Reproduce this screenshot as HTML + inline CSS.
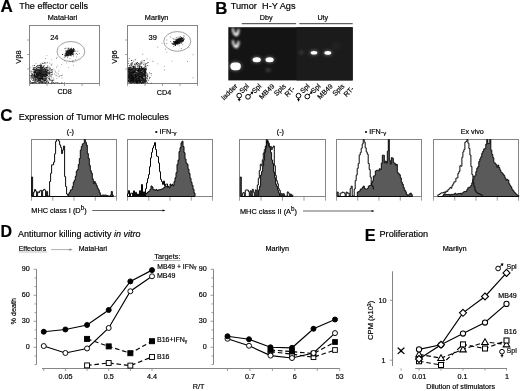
<!DOCTYPE html>
<html><head><meta charset="utf-8"><style>
html,body{margin:0;padding:0;background:#fff;}
svg{display:block;font-family:"Liberation Sans", sans-serif;will-change:transform;}
text{stroke:#000;stroke-width:0.18px;}
</style></head><body>
<svg width="520" height="391" viewBox="0 0 520 391" font-family='"Liberation Sans", sans-serif' fill="#000">
<rect width="520" height="391" fill="#fff"/>
<text x="0.6" y="12.4" font-size="17" text-anchor="start" font-weight="bold" >A</text>
<text x="19.3" y="9.3" font-size="9.05" text-anchor="start" font-weight="normal" >The effector cells</text>
<text x="62.6" y="19.8" font-size="7.3" text-anchor="middle" font-weight="normal" >MataHari</text>
<text x="156.6" y="19.8" font-size="7.3" text-anchor="middle" font-weight="normal" >Marilyn</text>
<rect x="29.5" y="25.5" width="70" height="58" fill="none" stroke="#858585" stroke-width="1"/>
<line x1="29.5" y1="83.5" x2="29.5" y2="86.0" stroke="#858585" stroke-width="0.8" />
<line x1="47.0" y1="83.5" x2="47.0" y2="86.0" stroke="#858585" stroke-width="0.8" />
<line x1="64.5" y1="83.5" x2="64.5" y2="86.0" stroke="#858585" stroke-width="0.8" />
<line x1="82.0" y1="83.5" x2="82.0" y2="86.0" stroke="#858585" stroke-width="0.8" />
<line x1="99.5" y1="83.5" x2="99.5" y2="86.0" stroke="#858585" stroke-width="0.8" />
<line x1="27.3" y1="40.0" x2="29.5" y2="40.0" stroke="#858585" stroke-width="0.8" />
<line x1="27.3" y1="54.5" x2="29.5" y2="54.5" stroke="#858585" stroke-width="0.8" />
<line x1="27.3" y1="69.0" x2="29.5" y2="69.0" stroke="#858585" stroke-width="0.8" />
<rect x="127.5" y="25.5" width="70" height="58" fill="none" stroke="#858585" stroke-width="1"/>
<line x1="127.5" y1="83.5" x2="127.5" y2="86.0" stroke="#858585" stroke-width="0.8" />
<line x1="145.0" y1="83.5" x2="145.0" y2="86.0" stroke="#858585" stroke-width="0.8" />
<line x1="162.5" y1="83.5" x2="162.5" y2="86.0" stroke="#858585" stroke-width="0.8" />
<line x1="180.0" y1="83.5" x2="180.0" y2="86.0" stroke="#858585" stroke-width="0.8" />
<line x1="197.5" y1="83.5" x2="197.5" y2="86.0" stroke="#858585" stroke-width="0.8" />
<line x1="125.3" y1="40.0" x2="127.5" y2="40.0" stroke="#858585" stroke-width="0.8" />
<line x1="125.3" y1="54.5" x2="127.5" y2="54.5" stroke="#858585" stroke-width="0.8" />
<line x1="125.3" y1="69.0" x2="127.5" y2="69.0" stroke="#858585" stroke-width="0.8" />
<text x="50.2" y="39.6" font-size="7.5" text-anchor="start" font-weight="normal" >24</text>
<text x="148.6" y="40.2" font-size="7.5" text-anchor="start" font-weight="normal" >39</text>
<ellipse cx="70.9" cy="51.5" rx="13.9" ry="10" fill="none" stroke="#777" stroke-width="0.7"/>
<ellipse cx="177.3" cy="41.4" rx="13.5" ry="9.85" fill="none" stroke="#777" stroke-width="0.7"/>
<text x="64.6" y="94.0" font-size="7.2" text-anchor="middle" font-weight="normal" >CD8</text>
<text x="164.0" y="94.5" font-size="7.2" text-anchor="middle" font-weight="normal" >CD4</text>
<text transform="translate(20.6,57) rotate(-90)" font-size="7.5" text-anchor="middle">V&#946;8</text>
<text transform="translate(117.4,57) rotate(-90)" font-size="7.5" text-anchor="middle">V&#946;6</text>
<path d="M41.0 73.6h0.9v0.9h-0.9zM39.8 69.3h0.9v0.9h-0.9zM39.1 68.9h0.9v0.9h-0.9zM41.3 77.3h0.9v0.9h-0.9zM38.9 70.3h0.9v0.9h-0.9zM43.1 73.8h0.9v0.9h-0.9zM41.4 69.2h0.9v0.9h-0.9zM40.9 75.0h0.9v0.9h-0.9zM35.4 70.9h0.9v0.9h-0.9zM33.0 67.9h0.9v0.9h-0.9zM33.3 71.7h0.9v0.9h-0.9zM35.7 73.5h0.9v0.9h-0.9zM41.7 71.8h0.9v0.9h-0.9zM30.4 70.6h0.9v0.9h-0.9zM40.8 72.9h0.9v0.9h-0.9zM34.6 70.8h0.9v0.9h-0.9zM36.9 69.6h0.9v0.9h-0.9zM45.5 69.6h0.9v0.9h-0.9zM40.9 75.7h0.9v0.9h-0.9zM38.5 72.1h0.9v0.9h-0.9zM41.5 72.7h0.9v0.9h-0.9zM35.9 72.8h0.9v0.9h-0.9zM46.7 66.9h0.9v0.9h-0.9zM44.6 72.9h0.9v0.9h-0.9zM38.3 79.7h0.9v0.9h-0.9zM44.2 68.2h0.9v0.9h-0.9zM41.3 74.6h0.9v0.9h-0.9zM40.2 75.0h0.9v0.9h-0.9zM40.7 74.9h0.9v0.9h-0.9zM47.0 70.1h0.9v0.9h-0.9zM41.9 70.8h0.9v0.9h-0.9zM41.5 68.2h0.9v0.9h-0.9zM38.6 71.8h0.9v0.9h-0.9zM44.8 76.6h0.9v0.9h-0.9zM35.4 69.6h0.9v0.9h-0.9zM43.7 65.3h0.9v0.9h-0.9zM39.1 72.1h0.9v0.9h-0.9zM46.3 75.0h0.9v0.9h-0.9zM39.6 71.2h0.9v0.9h-0.9zM39.9 78.0h0.9v0.9h-0.9zM39.2 71.4h0.9v0.9h-0.9zM42.5 72.1h0.9v0.9h-0.9zM40.2 68.5h0.9v0.9h-0.9zM41.0 70.9h0.9v0.9h-0.9zM45.9 74.9h0.9v0.9h-0.9zM40.9 74.9h0.9v0.9h-0.9zM39.6 76.3h0.9v0.9h-0.9zM41.0 74.6h0.9v0.9h-0.9zM35.6 73.7h0.9v0.9h-0.9zM33.9 65.2h0.9v0.9h-0.9zM39.7 69.3h0.9v0.9h-0.9zM41.7 80.6h0.9v0.9h-0.9zM37.5 70.3h0.9v0.9h-0.9zM41.9 74.3h0.9v0.9h-0.9zM40.3 71.8h0.9v0.9h-0.9zM44.0 74.4h0.9v0.9h-0.9zM36.7 72.2h0.9v0.9h-0.9zM41.1 68.7h0.9v0.9h-0.9zM42.1 69.4h0.9v0.9h-0.9zM45.1 73.2h0.9v0.9h-0.9zM41.4 70.4h0.9v0.9h-0.9zM40.5 65.3h0.9v0.9h-0.9zM36.2 73.8h0.9v0.9h-0.9zM32.1 75.5h0.9v0.9h-0.9zM33.7 75.2h0.9v0.9h-0.9zM37.4 75.3h0.9v0.9h-0.9zM41.5 67.0h0.9v0.9h-0.9zM46.2 77.7h0.9v0.9h-0.9zM40.7 71.5h0.9v0.9h-0.9zM40.3 69.0h0.9v0.9h-0.9zM45.6 70.5h0.9v0.9h-0.9zM40.8 69.6h0.9v0.9h-0.9zM38.4 67.9h0.9v0.9h-0.9zM46.3 71.9h0.9v0.9h-0.9zM45.1 72.5h0.9v0.9h-0.9zM38.1 71.3h0.9v0.9h-0.9zM38.6 72.5h0.9v0.9h-0.9zM39.4 71.4h0.9v0.9h-0.9zM35.2 69.6h0.9v0.9h-0.9zM47.9 70.1h0.9v0.9h-0.9zM36.6 73.7h0.9v0.9h-0.9zM46.9 67.3h0.9v0.9h-0.9zM40.1 70.2h0.9v0.9h-0.9zM33.6 75.1h0.9v0.9h-0.9zM40.9 72.8h0.9v0.9h-0.9zM37.8 74.1h0.9v0.9h-0.9zM38.7 72.0h0.9v0.9h-0.9zM36.3 68.1h0.9v0.9h-0.9zM46.6 70.7h0.9v0.9h-0.9zM42.2 72.4h0.9v0.9h-0.9zM39.1 70.7h0.9v0.9h-0.9zM43.6 71.4h0.9v0.9h-0.9zM40.4 72.6h0.9v0.9h-0.9zM45.9 74.9h0.9v0.9h-0.9zM42.6 70.5h0.9v0.9h-0.9zM35.2 75.9h0.9v0.9h-0.9zM45.1 72.0h0.9v0.9h-0.9zM43.3 75.3h0.9v0.9h-0.9zM44.5 75.8h0.9v0.9h-0.9zM39.1 78.0h0.9v0.9h-0.9zM35.8 75.6h0.9v0.9h-0.9zM43.1 75.6h0.9v0.9h-0.9zM48.9 77.8h0.9v0.9h-0.9zM36.2 66.4h0.9v0.9h-0.9zM44.4 68.8h0.9v0.9h-0.9zM40.9 75.5h0.9v0.9h-0.9zM34.1 64.9h0.9v0.9h-0.9zM42.1 72.7h0.9v0.9h-0.9zM40.0 72.6h0.9v0.9h-0.9zM37.4 67.1h0.9v0.9h-0.9zM40.3 69.0h0.9v0.9h-0.9zM34.1 74.3h0.9v0.9h-0.9zM40.7 74.0h0.9v0.9h-0.9zM36.8 70.1h0.9v0.9h-0.9zM36.8 69.3h0.9v0.9h-0.9zM41.8 69.7h0.9v0.9h-0.9zM42.5 73.7h0.9v0.9h-0.9zM49.5 67.5h0.9v0.9h-0.9zM44.7 72.2h0.9v0.9h-0.9zM40.9 67.3h0.9v0.9h-0.9zM39.1 75.2h0.9v0.9h-0.9zM40.7 72.8h0.9v0.9h-0.9zM39.8 76.7h0.9v0.9h-0.9zM40.9 64.6h0.9v0.9h-0.9zM38.1 65.4h0.9v0.9h-0.9zM46.6 72.7h0.9v0.9h-0.9zM36.1 69.1h0.9v0.9h-0.9zM45.7 73.1h0.9v0.9h-0.9zM41.2 72.3h0.9v0.9h-0.9zM41.2 75.4h0.9v0.9h-0.9zM43.3 73.3h0.9v0.9h-0.9zM36.6 74.3h0.9v0.9h-0.9zM38.1 76.4h0.9v0.9h-0.9zM35.7 72.0h0.9v0.9h-0.9zM41.0 67.7h0.9v0.9h-0.9zM48.2 77.8h0.9v0.9h-0.9zM39.1 75.3h0.9v0.9h-0.9zM42.6 63.1h0.9v0.9h-0.9zM42.1 72.3h0.9v0.9h-0.9zM41.3 68.6h0.9v0.9h-0.9zM39.9 71.9h0.9v0.9h-0.9zM46.0 73.7h0.9v0.9h-0.9zM41.0 78.0h0.9v0.9h-0.9zM38.7 71.1h0.9v0.9h-0.9zM33.4 78.1h0.9v0.9h-0.9zM45.1 75.8h0.9v0.9h-0.9zM43.8 72.9h0.9v0.9h-0.9zM41.9 71.6h0.9v0.9h-0.9zM40.1 72.7h0.9v0.9h-0.9zM47.3 74.5h0.9v0.9h-0.9zM40.8 70.4h0.9v0.9h-0.9zM38.3 78.3h0.9v0.9h-0.9zM43.1 72.7h0.9v0.9h-0.9zM39.5 68.5h0.9v0.9h-0.9zM40.7 75.6h0.9v0.9h-0.9zM39.4 71.7h0.9v0.9h-0.9zM40.1 72.9h0.9v0.9h-0.9zM34.3 71.7h0.9v0.9h-0.9zM37.4 75.7h0.9v0.9h-0.9zM37.8 74.6h0.9v0.9h-0.9zM47.4 71.4h0.9v0.9h-0.9zM38.5 73.2h0.9v0.9h-0.9zM41.0 68.9h0.9v0.9h-0.9zM42.9 79.8h0.9v0.9h-0.9zM39.9 71.8h0.9v0.9h-0.9zM36.6 73.6h0.9v0.9h-0.9zM35.8 68.5h0.9v0.9h-0.9zM46.4 69.2h0.9v0.9h-0.9zM45.5 78.0h0.9v0.9h-0.9zM42.1 74.5h0.9v0.9h-0.9zM49.2 71.8h0.9v0.9h-0.9zM38.5 67.6h0.9v0.9h-0.9zM41.2 77.8h0.9v0.9h-0.9zM45.0 69.1h0.9v0.9h-0.9zM37.4 70.7h0.9v0.9h-0.9zM42.2 71.8h0.9v0.9h-0.9zM41.9 73.6h0.9v0.9h-0.9zM39.7 72.4h0.9v0.9h-0.9zM41.9 72.2h0.9v0.9h-0.9zM43.1 79.2h0.9v0.9h-0.9zM43.5 72.7h0.9v0.9h-0.9zM33.9 73.9h0.9v0.9h-0.9zM32.8 67.4h0.9v0.9h-0.9zM44.6 75.0h0.9v0.9h-0.9zM40.4 66.3h0.9v0.9h-0.9zM39.4 70.1h0.9v0.9h-0.9zM43.7 80.6h0.9v0.9h-0.9zM41.9 69.7h0.9v0.9h-0.9zM36.1 72.3h0.9v0.9h-0.9zM40.3 68.4h0.9v0.9h-0.9zM41.5 68.4h0.9v0.9h-0.9zM45.7 76.3h0.9v0.9h-0.9zM45.6 70.8h0.9v0.9h-0.9zM43.2 72.0h0.9v0.9h-0.9zM39.4 71.3h0.9v0.9h-0.9zM35.5 67.3h0.9v0.9h-0.9zM44.3 71.8h0.9v0.9h-0.9zM41.9 76.1h0.9v0.9h-0.9zM33.7 69.7h0.9v0.9h-0.9zM41.7 73.9h0.9v0.9h-0.9zM39.4 76.2h0.9v0.9h-0.9zM41.9 68.1h0.9v0.9h-0.9zM37.1 75.4h0.9v0.9h-0.9zM42.9 65.7h0.9v0.9h-0.9zM46.7 74.7h0.9v0.9h-0.9zM46.6 71.1h0.9v0.9h-0.9zM39.8 68.4h0.9v0.9h-0.9zM51.7 71.9h0.9v0.9h-0.9zM47.7 70.2h0.9v0.9h-0.9zM41.7 66.5h0.9v0.9h-0.9zM39.4 76.0h0.9v0.9h-0.9zM35.7 76.4h0.9v0.9h-0.9zM42.4 68.7h0.9v0.9h-0.9zM38.9 70.8h0.9v0.9h-0.9zM40.8 70.6h0.9v0.9h-0.9zM37.5 71.4h0.9v0.9h-0.9zM36.7 67.9h0.9v0.9h-0.9zM40.8 75.7h0.9v0.9h-0.9zM34.6 72.5h0.9v0.9h-0.9zM38.3 69.0h0.9v0.9h-0.9zM44.6 70.6h0.9v0.9h-0.9zM47.3 69.7h0.9v0.9h-0.9zM42.6 71.7h0.9v0.9h-0.9zM37.8 74.6h0.9v0.9h-0.9zM40.3 74.7h0.9v0.9h-0.9zM40.8 68.6h0.9v0.9h-0.9zM40.6 72.7h0.9v0.9h-0.9zM45.0 69.2h0.9v0.9h-0.9zM40.8 66.3h0.9v0.9h-0.9zM43.7 68.6h0.9v0.9h-0.9zM33.4 72.3h0.9v0.9h-0.9zM45.6 67.0h0.9v0.9h-0.9zM36.4 69.8h0.9v0.9h-0.9zM36.3 73.9h0.9v0.9h-0.9zM37.6 69.9h0.9v0.9h-0.9zM43.4 69.8h0.9v0.9h-0.9zM42.8 69.0h0.9v0.9h-0.9zM35.9 65.9h0.9v0.9h-0.9zM48.8 71.3h0.9v0.9h-0.9zM42.0 72.4h0.9v0.9h-0.9zM41.7 72.7h0.9v0.9h-0.9zM49.0 68.8h0.9v0.9h-0.9zM34.5 68.9h0.9v0.9h-0.9zM35.4 75.2h0.9v0.9h-0.9zM44.4 69.0h0.9v0.9h-0.9zM35.2 71.2h0.9v0.9h-0.9zM46.8 62.3h0.9v0.9h-0.9zM43.2 68.6h0.9v0.9h-0.9zM45.4 68.6h0.9v0.9h-0.9zM39.8 67.1h0.9v0.9h-0.9zM36.9 77.5h0.9v0.9h-0.9zM44.4 71.1h0.9v0.9h-0.9zM37.3 65.7h0.9v0.9h-0.9zM39.3 72.4h0.9v0.9h-0.9zM40.6 72.2h0.9v0.9h-0.9zM36.3 72.3h0.9v0.9h-0.9zM40.8 77.1h0.9v0.9h-0.9zM48.8 72.0h0.9v0.9h-0.9zM37.8 72.3h0.9v0.9h-0.9zM38.4 69.8h0.9v0.9h-0.9zM40.8 68.7h0.9v0.9h-0.9zM43.5 72.1h0.9v0.9h-0.9zM42.1 71.8h0.9v0.9h-0.9zM37.9 69.1h0.9v0.9h-0.9zM40.0 70.5h0.9v0.9h-0.9zM42.0 72.5h0.9v0.9h-0.9zM35.3 72.7h0.9v0.9h-0.9zM35.4 70.3h0.9v0.9h-0.9zM39.8 65.0h0.9v0.9h-0.9zM41.4 73.0h0.9v0.9h-0.9zM40.3 71.0h0.9v0.9h-0.9zM39.4 69.0h0.9v0.9h-0.9zM39.9 70.5h0.9v0.9h-0.9zM41.4 68.2h0.9v0.9h-0.9zM42.0 73.0h0.9v0.9h-0.9zM40.4 70.9h0.9v0.9h-0.9zM43.3 66.5h0.9v0.9h-0.9zM42.9 73.4h0.9v0.9h-0.9zM42.2 73.9h0.9v0.9h-0.9zM38.3 71.6h0.9v0.9h-0.9zM43.7 74.1h0.9v0.9h-0.9zM41.9 67.0h0.9v0.9h-0.9zM43.3 76.7h0.9v0.9h-0.9zM45.2 73.3h0.9v0.9h-0.9zM34.5 75.9h0.9v0.9h-0.9zM40.4 63.4h0.9v0.9h-0.9zM42.6 67.1h0.9v0.9h-0.9zM35.6 70.2h0.9v0.9h-0.9zM46.3 71.2h0.9v0.9h-0.9zM42.1 78.8h0.9v0.9h-0.9zM47.7 72.1h0.9v0.9h-0.9zM40.0 68.0h0.9v0.9h-0.9zM38.1 74.0h0.9v0.9h-0.9zM42.7 72.9h0.9v0.9h-0.9zM45.2 69.7h0.9v0.9h-0.9zM40.8 75.1h0.9v0.9h-0.9zM43.5 76.4h0.9v0.9h-0.9zM42.7 71.4h0.9v0.9h-0.9zM42.5 68.9h0.9v0.9h-0.9zM34.1 74.6h0.9v0.9h-0.9zM40.8 73.6h0.9v0.9h-0.9zM33.9 71.2h0.9v0.9h-0.9zM38.5 69.4h0.9v0.9h-0.9zM31.5 71.3h0.9v0.9h-0.9zM44.8 73.9h0.9v0.9h-0.9zM38.5 72.4h0.9v0.9h-0.9zM44.2 62.6h0.9v0.9h-0.9zM40.5 74.5h0.9v0.9h-0.9zM43.9 78.6h0.9v0.9h-0.9zM45.8 73.6h0.9v0.9h-0.9zM42.3 75.3h0.9v0.9h-0.9zM38.7 72.4h0.9v0.9h-0.9zM44.8 79.5h0.9v0.9h-0.9zM40.3 72.3h0.9v0.9h-0.9zM41.8 77.3h0.9v0.9h-0.9zM40.9 77.8h0.9v0.9h-0.9zM36.9 71.8h0.9v0.9h-0.9zM40.2 75.3h0.9v0.9h-0.9zM45.4 67.1h0.9v0.9h-0.9zM37.2 73.7h0.9v0.9h-0.9zM38.2 67.0h0.9v0.9h-0.9zM45.4 74.3h0.9v0.9h-0.9zM43.1 70.8h0.9v0.9h-0.9zM45.3 71.6h0.9v0.9h-0.9zM45.6 69.2h0.9v0.9h-0.9zM37.4 73.2h0.9v0.9h-0.9zM38.1 74.9h0.9v0.9h-0.9zM42.1 69.2h0.9v0.9h-0.9zM41.3 71.2h0.9v0.9h-0.9zM44.8 70.2h0.9v0.9h-0.9zM39.2 76.9h0.9v0.9h-0.9zM50.4 79.7h0.9v0.9h-0.9zM41.3 73.3h0.9v0.9h-0.9zM47.4 72.1h0.9v0.9h-0.9zM36.9 72.9h0.9v0.9h-0.9zM42.9 69.5h0.9v0.9h-0.9zM34.1 67.3h0.9v0.9h-0.9zM43.8 69.8h0.9v0.9h-0.9zM40.4 73.3h0.9v0.9h-0.9zM43.6 71.3h0.9v0.9h-0.9zM43.1 69.3h0.9v0.9h-0.9zM39.5 68.8h0.9v0.9h-0.9zM45.8 72.4h0.9v0.9h-0.9zM37.9 71.2h0.9v0.9h-0.9zM40.1 75.0h0.9v0.9h-0.9zM34.3 68.8h0.9v0.9h-0.9zM39.4 81.6h0.9v0.9h-0.9zM45.0 72.1h0.9v0.9h-0.9zM44.0 79.9h0.9v0.9h-0.9zM40.0 71.2h0.9v0.9h-0.9zM46.1 74.3h0.9v0.9h-0.9zM43.8 70.7h0.9v0.9h-0.9zM49.1 78.7h0.9v0.9h-0.9zM43.4 75.0h0.9v0.9h-0.9zM32.5 74.8h0.9v0.9h-0.9zM40.2 74.1h0.9v0.9h-0.9zM43.9 71.3h0.9v0.9h-0.9zM33.9 73.8h0.9v0.9h-0.9zM37.9 71.3h0.9v0.9h-0.9zM38.5 71.3h0.9v0.9h-0.9zM31.3 76.9h0.9v0.9h-0.9zM42.1 76.5h0.9v0.9h-0.9zM49.3 72.6h0.9v0.9h-0.9zM33.4 69.3h0.9v0.9h-0.9zM35.9 70.7h0.9v0.9h-0.9zM41.3 65.3h0.9v0.9h-0.9zM42.4 67.1h0.9v0.9h-0.9zM42.2 72.1h0.9v0.9h-0.9zM39.7 72.2h0.9v0.9h-0.9zM38.7 70.3h0.9v0.9h-0.9zM33.9 72.4h0.9v0.9h-0.9zM48.8 79.6h0.9v0.9h-0.9zM46.6 75.0h0.9v0.9h-0.9zM38.2 77.7h0.9v0.9h-0.9zM40.8 72.3h0.9v0.9h-0.9zM39.8 72.8h0.9v0.9h-0.9zM39.2 72.2h0.9v0.9h-0.9zM36.4 71.2h0.9v0.9h-0.9zM50.6 72.2h0.9v0.9h-0.9zM40.0 74.4h0.9v0.9h-0.9zM44.0 68.5h0.9v0.9h-0.9zM40.1 75.8h0.9v0.9h-0.9zM42.1 72.9h0.9v0.9h-0.9zM47.5 70.1h0.9v0.9h-0.9zM41.3 70.6h0.9v0.9h-0.9zM47.3 65.5h0.9v0.9h-0.9zM38.2 70.6h0.9v0.9h-0.9zM43.8 74.7h0.9v0.9h-0.9zM46.9 66.8h0.9v0.9h-0.9zM44.2 71.4h0.9v0.9h-0.9zM38.2 74.4h0.9v0.9h-0.9zM37.1 65.0h0.9v0.9h-0.9zM39.4 67.1h0.9v0.9h-0.9zM38.3 73.8h0.9v0.9h-0.9zM42.3 78.2h0.9v0.9h-0.9zM40.2 67.0h0.9v0.9h-0.9zM37.8 69.2h0.9v0.9h-0.9zM35.9 74.1h0.9v0.9h-0.9zM38.3 65.4h0.9v0.9h-0.9zM43.9 72.1h0.9v0.9h-0.9zM42.5 72.9h0.9v0.9h-0.9zM43.7 72.6h0.9v0.9h-0.9zM46.2 74.0h0.9v0.9h-0.9zM42.6 74.0h0.9v0.9h-0.9zM34.9 71.9h0.9v0.9h-0.9zM39.9 73.2h0.9v0.9h-0.9zM35.3 78.4h0.9v0.9h-0.9zM41.4 68.1h0.9v0.9h-0.9zM33.8 71.5h0.9v0.9h-0.9zM40.6 69.9h0.9v0.9h-0.9zM41.4 70.2h0.9v0.9h-0.9zM43.3 69.9h0.9v0.9h-0.9zM40.8 76.0h0.9v0.9h-0.9zM51.8 68.9h0.9v0.9h-0.9zM39.0 69.5h0.9v0.9h-0.9zM44.3 68.4h0.9v0.9h-0.9zM39.0 72.4h0.9v0.9h-0.9zM36.9 69.1h0.9v0.9h-0.9zM39.0 64.9h0.9v0.9h-0.9zM34.9 71.0h0.9v0.9h-0.9zM41.6 71.8h0.9v0.9h-0.9zM33.5 70.8h0.9v0.9h-0.9zM44.4 74.5h0.9v0.9h-0.9zM40.7 69.3h0.9v0.9h-0.9zM43.7 70.4h0.9v0.9h-0.9zM36.1 69.6h0.9v0.9h-0.9zM47.1 73.3h0.9v0.9h-0.9zM45.9 70.8h0.9v0.9h-0.9zM44.9 70.3h0.9v0.9h-0.9zM40.3 81.5h0.9v0.9h-0.9zM44.2 70.7h0.9v0.9h-0.9zM40.6 73.7h0.9v0.9h-0.9zM46.1 70.7h0.9v0.9h-0.9zM33.7 71.5h0.9v0.9h-0.9zM41.1 72.9h0.9v0.9h-0.9zM46.5 73.6h0.9v0.9h-0.9zM44.4 68.5h0.9v0.9h-0.9zM44.6 80.0h0.9v0.9h-0.9zM44.2 73.4h0.9v0.9h-0.9zM41.6 78.9h0.9v0.9h-0.9zM37.1 72.1h0.9v0.9h-0.9zM42.9 75.2h0.9v0.9h-0.9zM39.2 73.6h0.9v0.9h-0.9zM39.8 72.9h0.9v0.9h-0.9zM40.4 68.4h0.9v0.9h-0.9zM40.9 75.7h0.9v0.9h-0.9zM36.9 71.6h0.9v0.9h-0.9zM43.8 68.6h0.9v0.9h-0.9zM41.8 68.7h0.9v0.9h-0.9zM45.8 80.8h0.9v0.9h-0.9zM49.5 71.7h0.9v0.9h-0.9zM44.1 72.9h0.9v0.9h-0.9zM41.4 78.1h0.9v0.9h-0.9zM35.5 76.3h0.9v0.9h-0.9zM40.8 77.6h0.9v0.9h-0.9zM41.8 70.1h0.9v0.9h-0.9zM42.2 75.1h0.9v0.9h-0.9zM41.2 74.3h0.9v0.9h-0.9zM38.8 64.8h0.9v0.9h-0.9zM44.8 75.0h0.9v0.9h-0.9zM41.6 72.7h0.9v0.9h-0.9zM45.4 70.9h0.9v0.9h-0.9zM38.0 71.8h0.9v0.9h-0.9zM46.0 67.5h0.9v0.9h-0.9zM46.0 70.2h0.9v0.9h-0.9zM36.4 77.0h0.9v0.9h-0.9zM40.6 67.8h0.9v0.9h-0.9zM39.5 75.9h0.9v0.9h-0.9zM46.0 71.0h0.9v0.9h-0.9zM42.7 75.1h0.9v0.9h-0.9zM38.3 73.8h0.9v0.9h-0.9zM40.9 70.6h0.9v0.9h-0.9zM38.9 72.7h0.9v0.9h-0.9zM41.1 70.5h0.9v0.9h-0.9zM39.2 76.5h0.9v0.9h-0.9zM41.9 75.7h0.9v0.9h-0.9zM46.0 74.6h0.9v0.9h-0.9zM50.5 69.5h0.9v0.9h-0.9zM44.4 71.4h0.9v0.9h-0.9zM48.8 78.6h0.9v0.9h-0.9zM32.8 69.0h0.9v0.9h-0.9zM43.8 75.3h0.9v0.9h-0.9zM44.1 72.2h0.9v0.9h-0.9zM42.9 74.9h0.9v0.9h-0.9zM40.7 76.2h0.9v0.9h-0.9zM31.5 74.8h0.9v0.9h-0.9zM36.7 76.0h0.9v0.9h-0.9zM40.0 69.3h0.9v0.9h-0.9zM42.6 69.2h0.9v0.9h-0.9zM37.2 66.9h0.9v0.9h-0.9zM40.9 74.3h0.9v0.9h-0.9zM45.3 72.0h0.9v0.9h-0.9zM45.4 72.6h0.9v0.9h-0.9zM40.6 74.6h0.9v0.9h-0.9zM45.4 71.3h0.9v0.9h-0.9zM40.0 71.9h0.9v0.9h-0.9zM41.3 69.3h0.9v0.9h-0.9zM45.3 71.1h0.9v0.9h-0.9zM42.9 69.5h0.9v0.9h-0.9zM42.5 73.9h0.9v0.9h-0.9zM39.2 79.8h0.9v0.9h-0.9zM42.6 78.9h0.9v0.9h-0.9zM45.0 70.1h0.9v0.9h-0.9zM39.4 74.1h0.9v0.9h-0.9zM41.3 72.7h0.9v0.9h-0.9zM39.8 66.0h0.9v0.9h-0.9zM40.1 64.5h0.9v0.9h-0.9zM42.6 69.9h0.9v0.9h-0.9zM38.0 71.7h0.9v0.9h-0.9zM42.1 67.3h0.9v0.9h-0.9zM33.7 68.7h0.9v0.9h-0.9zM32.4 69.0h0.9v0.9h-0.9zM47.7 68.7h0.9v0.9h-0.9zM43.7 67.6h0.9v0.9h-0.9zM42.3 71.3h0.9v0.9h-0.9zM40.7 74.5h0.9v0.9h-0.9zM48.4 73.2h0.9v0.9h-0.9zM41.5 69.0h0.9v0.9h-0.9zM43.5 71.6h0.9v0.9h-0.9z" fill="#000" fill-opacity="0.8"/>
<path d="M42.2 77.9h0.9v0.9h-0.9zM46.7 72.1h0.9v0.9h-0.9zM36.5 80.6h0.9v0.9h-0.9zM36.2 75.6h0.9v0.9h-0.9zM36.7 73.9h0.9v0.9h-0.9zM43.7 74.7h0.9v0.9h-0.9zM33.6 76.8h0.9v0.9h-0.9zM43.0 75.5h0.9v0.9h-0.9zM34.5 80.7h0.9v0.9h-0.9zM42.3 76.9h0.9v0.9h-0.9zM32.4 73.4h0.9v0.9h-0.9zM34.5 71.3h0.9v0.9h-0.9zM41.7 76.1h0.9v0.9h-0.9zM43.9 74.5h0.9v0.9h-0.9zM42.3 81.5h0.9v0.9h-0.9zM34.3 75.1h0.9v0.9h-0.9zM37.5 73.2h0.9v0.9h-0.9zM45.4 70.8h0.9v0.9h-0.9zM32.5 77.2h0.9v0.9h-0.9zM36.9 78.5h0.9v0.9h-0.9zM39.4 77.4h0.9v0.9h-0.9zM43.7 71.6h0.9v0.9h-0.9zM38.0 75.9h0.9v0.9h-0.9zM38.7 78.7h0.9v0.9h-0.9zM33.4 76.1h0.9v0.9h-0.9zM42.0 79.0h0.9v0.9h-0.9zM49.5 73.6h0.9v0.9h-0.9zM41.9 78.7h0.9v0.9h-0.9zM37.0 76.4h0.9v0.9h-0.9zM36.9 76.3h0.9v0.9h-0.9zM41.7 76.8h0.9v0.9h-0.9zM35.8 74.4h0.9v0.9h-0.9zM37.8 75.3h0.9v0.9h-0.9zM37.1 81.1h0.9v0.9h-0.9zM39.8 79.5h0.9v0.9h-0.9zM39.8 78.2h0.9v0.9h-0.9zM37.4 77.1h0.9v0.9h-0.9zM41.8 74.7h0.9v0.9h-0.9zM44.7 78.1h0.9v0.9h-0.9zM34.3 76.5h0.9v0.9h-0.9zM34.6 78.5h0.9v0.9h-0.9zM34.4 81.4h0.9v0.9h-0.9zM34.1 71.2h0.9v0.9h-0.9zM34.3 72.0h0.9v0.9h-0.9zM37.8 81.2h0.9v0.9h-0.9zM41.2 74.0h0.9v0.9h-0.9zM39.6 78.0h0.9v0.9h-0.9zM44.5 78.4h0.9v0.9h-0.9zM39.8 79.9h0.9v0.9h-0.9zM34.9 74.8h0.9v0.9h-0.9zM38.3 75.2h0.9v0.9h-0.9zM37.7 78.3h0.9v0.9h-0.9zM49.7 75.4h0.9v0.9h-0.9zM37.4 77.5h0.9v0.9h-0.9zM40.2 81.1h0.9v0.9h-0.9zM35.5 75.5h0.9v0.9h-0.9zM29.8 75.2h0.9v0.9h-0.9zM40.7 78.1h0.9v0.9h-0.9zM32.9 76.9h0.9v0.9h-0.9zM38.2 79.5h0.9v0.9h-0.9zM35.0 77.2h0.9v0.9h-0.9zM46.1 71.4h0.9v0.9h-0.9zM36.3 78.7h0.9v0.9h-0.9zM36.1 75.6h0.9v0.9h-0.9zM37.7 78.0h0.9v0.9h-0.9zM37.6 72.4h0.9v0.9h-0.9zM37.3 75.4h0.9v0.9h-0.9zM35.3 78.7h0.9v0.9h-0.9zM41.2 80.7h0.9v0.9h-0.9zM35.5 80.8h0.9v0.9h-0.9zM43.9 81.4h0.9v0.9h-0.9zM44.9 77.6h0.9v0.9h-0.9zM37.1 80.5h0.9v0.9h-0.9zM31.2 78.6h0.9v0.9h-0.9zM35.3 76.9h0.9v0.9h-0.9zM37.9 80.7h0.9v0.9h-0.9zM43.0 77.8h0.9v0.9h-0.9zM37.1 75.5h0.9v0.9h-0.9zM40.0 77.3h0.9v0.9h-0.9zM37.8 73.5h0.9v0.9h-0.9zM33.7 73.6h0.9v0.9h-0.9zM32.0 81.9h0.9v0.9h-0.9zM39.1 73.4h0.9v0.9h-0.9zM41.3 81.8h0.9v0.9h-0.9zM36.2 76.0h0.9v0.9h-0.9zM36.3 78.9h0.9v0.9h-0.9zM41.2 81.5h0.9v0.9h-0.9zM44.1 81.6h0.9v0.9h-0.9zM44.8 80.0h0.9v0.9h-0.9zM30.3 77.6h0.9v0.9h-0.9zM39.6 76.9h0.9v0.9h-0.9zM42.6 76.9h0.9v0.9h-0.9zM33.4 82.3h0.9v0.9h-0.9zM41.3 78.7h0.9v0.9h-0.9zM42.6 81.2h0.9v0.9h-0.9zM39.7 70.6h0.9v0.9h-0.9zM34.6 76.6h0.9v0.9h-0.9zM33.1 78.6h0.9v0.9h-0.9zM44.0 76.5h0.9v0.9h-0.9zM35.7 74.3h0.9v0.9h-0.9zM39.2 79.3h0.9v0.9h-0.9zM34.5 80.4h0.9v0.9h-0.9zM35.6 75.2h0.9v0.9h-0.9zM38.9 80.3h0.9v0.9h-0.9zM34.8 79.0h0.9v0.9h-0.9zM34.5 82.2h0.9v0.9h-0.9zM37.7 77.6h0.9v0.9h-0.9zM41.6 80.7h0.9v0.9h-0.9zM44.3 79.0h0.9v0.9h-0.9zM35.0 76.4h0.9v0.9h-0.9zM40.5 79.7h0.9v0.9h-0.9zM45.0 79.3h0.9v0.9h-0.9zM43.3 82.6h0.9v0.9h-0.9zM38.8 73.5h0.9v0.9h-0.9zM32.1 73.7h0.9v0.9h-0.9zM46.0 75.5h0.9v0.9h-0.9zM44.2 79.8h0.9v0.9h-0.9zM46.6 81.0h0.9v0.9h-0.9zM37.5 77.4h0.9v0.9h-0.9zM38.4 78.5h0.9v0.9h-0.9zM35.3 77.9h0.9v0.9h-0.9zM46.0 72.9h0.9v0.9h-0.9zM39.3 75.3h0.9v0.9h-0.9zM38.9 80.5h0.9v0.9h-0.9zM37.7 80.3h0.9v0.9h-0.9zM30.1 81.3h0.9v0.9h-0.9zM35.0 79.9h0.9v0.9h-0.9zM38.9 70.2h0.9v0.9h-0.9zM34.2 78.7h0.9v0.9h-0.9zM45.8 78.9h0.9v0.9h-0.9zM39.3 73.8h0.9v0.9h-0.9zM38.1 77.3h0.9v0.9h-0.9zM29.9 80.6h0.9v0.9h-0.9zM51.5 80.2h0.9v0.9h-0.9zM44.3 79.6h0.9v0.9h-0.9zM33.1 82.0h0.9v0.9h-0.9zM31.8 77.4h0.9v0.9h-0.9zM39.4 80.6h0.9v0.9h-0.9zM40.1 79.2h0.9v0.9h-0.9zM34.2 74.1h0.9v0.9h-0.9zM38.3 75.9h0.9v0.9h-0.9zM31.5 74.2h0.9v0.9h-0.9zM35.5 72.4h0.9v0.9h-0.9zM31.3 73.1h0.9v0.9h-0.9zM38.9 79.2h0.9v0.9h-0.9zM48.0 73.5h0.9v0.9h-0.9zM34.6 80.7h0.9v0.9h-0.9zM36.9 77.0h0.9v0.9h-0.9zM46.5 77.0h0.9v0.9h-0.9zM32.2 74.0h0.9v0.9h-0.9zM39.7 78.9h0.9v0.9h-0.9zM31.1 75.0h0.9v0.9h-0.9zM40.7 79.7h0.9v0.9h-0.9zM34.8 79.9h0.9v0.9h-0.9zM40.9 72.7h0.9v0.9h-0.9zM36.4 79.2h0.9v0.9h-0.9zM35.1 71.6h0.9v0.9h-0.9zM36.6 80.3h0.9v0.9h-0.9zM45.9 71.4h0.9v0.9h-0.9zM51.1 74.6h0.9v0.9h-0.9zM42.8 81.7h0.9v0.9h-0.9zM42.9 78.4h0.9v0.9h-0.9zM32.2 79.9h0.9v0.9h-0.9zM34.4 70.4h0.9v0.9h-0.9zM52.1 80.1h0.9v0.9h-0.9zM47.1 75.3h0.9v0.9h-0.9zM45.3 82.8h0.9v0.9h-0.9zM45.8 77.9h0.9v0.9h-0.9zM32.0 77.5h0.9v0.9h-0.9zM38.5 75.0h0.9v0.9h-0.9zM37.2 77.7h0.9v0.9h-0.9zM47.7 81.9h0.9v0.9h-0.9zM37.8 81.6h0.9v0.9h-0.9zM34.1 77.0h0.9v0.9h-0.9zM42.6 74.3h0.9v0.9h-0.9zM36.6 74.0h0.9v0.9h-0.9zM38.6 82.9h0.9v0.9h-0.9zM34.2 78.7h0.9v0.9h-0.9zM33.5 74.6h0.9v0.9h-0.9zM31.8 82.4h0.9v0.9h-0.9zM49.8 79.4h0.9v0.9h-0.9zM34.4 80.1h0.9v0.9h-0.9zM36.3 80.4h0.9v0.9h-0.9zM39.5 78.8h0.9v0.9h-0.9zM41.0 76.3h0.9v0.9h-0.9zM36.0 72.8h0.9v0.9h-0.9zM35.8 73.7h0.9v0.9h-0.9zM37.3 75.1h0.9v0.9h-0.9zM38.5 79.4h0.9v0.9h-0.9zM30.9 75.6h0.9v0.9h-0.9zM33.3 80.2h0.9v0.9h-0.9zM46.5 80.6h0.9v0.9h-0.9zM36.3 82.4h0.9v0.9h-0.9zM30.4 82.5h0.9v0.9h-0.9zM34.7 69.7h0.9v0.9h-0.9zM51.3 82.7h0.9v0.9h-0.9zM32.8 78.5h0.9v0.9h-0.9zM36.9 78.3h0.9v0.9h-0.9zM30.6 76.0h0.9v0.9h-0.9zM40.3 78.7h0.9v0.9h-0.9zM44.0 78.2h0.9v0.9h-0.9zM49.7 75.9h0.9v0.9h-0.9zM39.3 72.3h0.9v0.9h-0.9zM31.7 82.0h0.9v0.9h-0.9zM33.3 79.6h0.9v0.9h-0.9zM37.7 74.9h0.9v0.9h-0.9zM36.3 76.5h0.9v0.9h-0.9zM35.6 80.3h0.9v0.9h-0.9zM41.3 76.3h0.9v0.9h-0.9zM33.5 78.8h0.9v0.9h-0.9zM37.5 81.1h0.9v0.9h-0.9zM51.3 80.5h0.9v0.9h-0.9zM37.8 77.5h0.9v0.9h-0.9zM33.7 75.3h0.9v0.9h-0.9zM33.0 76.8h0.9v0.9h-0.9zM35.9 80.2h0.9v0.9h-0.9zM36.0 77.4h0.9v0.9h-0.9zM31.9 82.9h0.9v0.9h-0.9zM42.0 82.5h0.9v0.9h-0.9zM36.8 80.2h0.9v0.9h-0.9zM51.5 74.3h0.9v0.9h-0.9zM40.1 80.3h0.9v0.9h-0.9zM44.4 76.0h0.9v0.9h-0.9zM40.1 75.3h0.9v0.9h-0.9zM34.5 76.1h0.9v0.9h-0.9zM37.3 78.4h0.9v0.9h-0.9zM40.3 73.6h0.9v0.9h-0.9zM48.1 81.6h0.9v0.9h-0.9zM41.7 76.9h0.9v0.9h-0.9zM37.5 79.7h0.9v0.9h-0.9zM40.1 72.8h0.9v0.9h-0.9zM39.9 77.7h0.9v0.9h-0.9zM45.0 74.4h0.9v0.9h-0.9zM38.8 82.5h0.9v0.9h-0.9zM37.0 76.7h0.9v0.9h-0.9zM38.6 76.6h0.9v0.9h-0.9zM45.9 75.2h0.9v0.9h-0.9zM42.5 74.1h0.9v0.9h-0.9zM41.4 77.7h0.9v0.9h-0.9zM32.5 76.6h0.9v0.9h-0.9zM45.9 74.6h0.9v0.9h-0.9zM32.6 82.4h0.9v0.9h-0.9z" fill="#000" fill-opacity="0.75"/>
<path d="M45.0 81.9h0.9v0.9h-0.9zM46.7 69.5h0.9v0.9h-0.9zM43.5 80.3h0.9v0.9h-0.9zM51.7 74.0h0.9v0.9h-0.9zM44.4 73.4h0.9v0.9h-0.9zM44.1 68.2h0.9v0.9h-0.9zM40.1 77.7h0.9v0.9h-0.9zM49.3 73.3h0.9v0.9h-0.9zM38.5 74.1h0.9v0.9h-0.9zM30.2 67.3h0.9v0.9h-0.9zM50.6 71.5h0.9v0.9h-0.9zM47.1 80.3h0.9v0.9h-0.9zM49.3 74.1h0.9v0.9h-0.9zM61.5 77.4h0.9v0.9h-0.9zM41.1 77.8h0.9v0.9h-0.9zM47.4 69.6h0.9v0.9h-0.9zM44.6 73.2h0.9v0.9h-0.9zM41.7 71.7h0.9v0.9h-0.9zM30.5 72.2h0.9v0.9h-0.9zM43.7 74.5h0.9v0.9h-0.9zM34.7 77.3h0.9v0.9h-0.9zM34.0 72.8h0.9v0.9h-0.9zM54.7 70.4h0.9v0.9h-0.9zM39.8 79.5h0.9v0.9h-0.9zM40.8 72.5h0.9v0.9h-0.9zM45.8 79.4h0.9v0.9h-0.9zM35.7 68.4h0.9v0.9h-0.9zM37.0 69.7h0.9v0.9h-0.9zM46.5 69.4h0.9v0.9h-0.9zM45.0 76.1h0.9v0.9h-0.9zM38.0 74.7h0.9v0.9h-0.9zM57.4 75.7h0.9v0.9h-0.9zM38.8 73.7h0.9v0.9h-0.9zM36.5 75.4h0.9v0.9h-0.9zM51.1 69.8h0.9v0.9h-0.9zM42.3 79.7h0.9v0.9h-0.9zM39.9 75.0h0.9v0.9h-0.9zM35.6 69.8h0.9v0.9h-0.9zM40.7 71.4h0.9v0.9h-0.9zM39.5 73.2h0.9v0.9h-0.9zM49.2 74.9h0.9v0.9h-0.9zM60.5 75.1h0.9v0.9h-0.9zM55.6 75.4h0.9v0.9h-0.9zM48.8 66.8h0.9v0.9h-0.9zM43.0 73.7h0.9v0.9h-0.9zM42.1 63.2h0.9v0.9h-0.9zM51.0 72.1h0.9v0.9h-0.9zM40.5 72.7h0.9v0.9h-0.9zM42.2 76.0h0.9v0.9h-0.9zM33.8 69.3h0.9v0.9h-0.9zM46.3 74.7h0.9v0.9h-0.9zM41.0 71.1h0.9v0.9h-0.9zM37.3 73.7h0.9v0.9h-0.9zM53.4 68.7h0.9v0.9h-0.9zM56.2 78.2h0.9v0.9h-0.9zM40.4 77.9h0.9v0.9h-0.9zM32.3 65.3h0.9v0.9h-0.9zM33.7 72.0h0.9v0.9h-0.9zM41.4 71.4h0.9v0.9h-0.9zM44.8 63.3h0.9v0.9h-0.9zM48.0 66.9h0.9v0.9h-0.9zM38.7 71.9h0.9v0.9h-0.9zM34.8 67.1h0.9v0.9h-0.9zM36.0 73.9h0.9v0.9h-0.9zM48.7 76.8h0.9v0.9h-0.9zM36.0 70.0h0.9v0.9h-0.9zM36.6 76.2h0.9v0.9h-0.9zM40.1 70.1h0.9v0.9h-0.9zM46.7 79.2h0.9v0.9h-0.9zM46.7 79.3h0.9v0.9h-0.9zM45.1 80.1h0.9v0.9h-0.9zM54.0 73.5h0.9v0.9h-0.9zM55.5 74.8h0.9v0.9h-0.9zM44.7 69.4h0.9v0.9h-0.9zM41.7 77.9h0.9v0.9h-0.9zM33.5 77.2h0.9v0.9h-0.9zM46.8 75.4h0.9v0.9h-0.9zM49.2 70.2h0.9v0.9h-0.9zM44.7 62.1h0.9v0.9h-0.9zM49.4 70.7h0.9v0.9h-0.9zM51.0 64.8h0.9v0.9h-0.9zM49.5 72.8h0.9v0.9h-0.9zM50.5 69.4h0.9v0.9h-0.9zM37.4 70.5h0.9v0.9h-0.9zM41.8 68.9h0.9v0.9h-0.9zM53.5 82.6h0.9v0.9h-0.9zM38.4 65.4h0.9v0.9h-0.9zM53.4 79.5h0.9v0.9h-0.9zM50.6 79.8h0.9v0.9h-0.9zM37.1 73.2h0.9v0.9h-0.9zM32.9 66.9h0.9v0.9h-0.9zM51.8 70.6h0.9v0.9h-0.9zM62.2 74.4h0.9v0.9h-0.9zM38.9 78.0h0.9v0.9h-0.9zM58.4 76.4h0.9v0.9h-0.9zM34.3 75.9h0.9v0.9h-0.9zM55.0 71.5h0.9v0.9h-0.9zM37.8 79.1h0.9v0.9h-0.9zM45.1 68.5h0.9v0.9h-0.9zM41.0 70.2h0.9v0.9h-0.9zM46.4 74.5h0.9v0.9h-0.9zM53.2 77.5h0.9v0.9h-0.9zM31.5 76.0h0.9v0.9h-0.9zM51.2 76.3h0.9v0.9h-0.9zM52.2 71.3h0.9v0.9h-0.9zM36.4 78.7h0.9v0.9h-0.9zM35.5 63.2h0.9v0.9h-0.9zM52.2 70.4h0.9v0.9h-0.9zM41.6 67.0h0.9v0.9h-0.9zM33.4 68.2h0.9v0.9h-0.9zM41.1 75.8h0.9v0.9h-0.9zM34.5 68.7h0.9v0.9h-0.9zM49.4 73.6h0.9v0.9h-0.9zM37.1 75.2h0.9v0.9h-0.9zM45.6 81.1h0.9v0.9h-0.9zM40.4 79.0h0.9v0.9h-0.9zM38.1 79.6h0.9v0.9h-0.9zM37.9 72.2h0.9v0.9h-0.9zM59.2 75.6h0.9v0.9h-0.9zM46.9 69.9h0.9v0.9h-0.9zM49.9 68.1h0.9v0.9h-0.9zM53.0 80.0h0.9v0.9h-0.9zM39.4 70.9h0.9v0.9h-0.9zM45.4 74.1h0.9v0.9h-0.9zM36.2 76.8h0.9v0.9h-0.9zM40.8 72.6h0.9v0.9h-0.9zM46.5 67.9h0.9v0.9h-0.9zM48.7 73.1h0.9v0.9h-0.9zM38.8 67.2h0.9v0.9h-0.9zM34.5 75.8h0.9v0.9h-0.9zM36.3 74.3h0.9v0.9h-0.9zM52.5 79.2h0.9v0.9h-0.9zM56.5 72.5h0.9v0.9h-0.9zM35.3 79.1h0.9v0.9h-0.9zM46.5 79.6h0.9v0.9h-0.9zM44.1 80.0h0.9v0.9h-0.9zM50.8 77.6h0.9v0.9h-0.9zM48.0 76.0h0.9v0.9h-0.9zM45.9 75.1h0.9v0.9h-0.9zM51.9 71.4h0.9v0.9h-0.9zM57.9 73.5h0.9v0.9h-0.9zM51.9 73.5h0.9v0.9h-0.9zM41.5 67.6h0.9v0.9h-0.9zM38.3 72.4h0.9v0.9h-0.9zM61.2 75.0h0.9v0.9h-0.9zM51.5 69.0h0.9v0.9h-0.9zM46.8 77.4h0.9v0.9h-0.9zM58.4 70.5h0.9v0.9h-0.9zM48.8 75.5h0.9v0.9h-0.9zM35.8 73.9h0.9v0.9h-0.9zM41.9 62.4h0.9v0.9h-0.9zM48.8 76.7h0.9v0.9h-0.9zM40.5 67.3h0.9v0.9h-0.9zM55.8 75.3h0.9v0.9h-0.9zM52.1 81.1h0.9v0.9h-0.9zM39.8 78.1h0.9v0.9h-0.9zM42.1 73.7h0.9v0.9h-0.9zM43.3 74.0h0.9v0.9h-0.9z" fill="#000" fill-opacity="0.45"/>
<path d="M55.0 82.3h0.9v0.9h-0.9zM43.6 82.2h0.9v0.9h-0.9zM48.1 81.9h0.9v0.9h-0.9zM40.5 82.3h0.9v0.9h-0.9zM39.9 82.3h0.9v0.9h-0.9zM57.0 82.5h0.9v0.9h-0.9zM47.9 82.3h0.9v0.9h-0.9zM47.7 82.4h0.9v0.9h-0.9zM57.7 82.3h0.9v0.9h-0.9zM63.9 81.9h0.9v0.9h-0.9zM51.2 81.9h0.9v0.9h-0.9zM61.4 82.2h0.9v0.9h-0.9zM44.5 82.7h0.9v0.9h-0.9zM56.3 81.9h0.9v0.9h-0.9zM41.9 81.7h0.9v0.9h-0.9zM46.2 82.3h0.9v0.9h-0.9zM41.9 82.0h0.9v0.9h-0.9zM41.5 82.0h0.9v0.9h-0.9zM49.8 82.9h0.9v0.9h-0.9zM41.2 82.5h0.9v0.9h-0.9zM36.4 82.2h0.9v0.9h-0.9zM35.6 82.6h0.9v0.9h-0.9zM45.9 82.2h0.9v0.9h-0.9zM48.3 82.2h0.9v0.9h-0.9zM31.0 82.5h0.9v0.9h-0.9zM47.6 82.2h0.9v0.9h-0.9zM53.9 82.8h0.9v0.9h-0.9zM35.2 82.0h0.9v0.9h-0.9zM58.9 82.9h0.9v0.9h-0.9zM38.4 81.8h0.9v0.9h-0.9zM39.3 82.1h0.9v0.9h-0.9zM30.7 82.3h0.9v0.9h-0.9zM33.5 81.8h0.9v0.9h-0.9zM53.2 82.0h0.9v0.9h-0.9zM44.4 82.6h0.9v0.9h-0.9zM52.3 82.2h0.9v0.9h-0.9zM45.4 82.0h0.9v0.9h-0.9zM60.7 82.6h0.9v0.9h-0.9zM35.1 82.3h0.9v0.9h-0.9zM51.4 82.5h0.9v0.9h-0.9zM61.5 82.8h0.9v0.9h-0.9zM40.1 82.3h0.9v0.9h-0.9zM33.5 82.4h0.9v0.9h-0.9zM45.9 81.5h0.9v0.9h-0.9zM39.0 82.3h0.9v0.9h-0.9zM33.7 82.0h0.9v0.9h-0.9z" fill="#000" fill-opacity="0.6"/>
<path d="M68.5 52.6h0.9v0.9h-0.9zM69.0 50.9h0.9v0.9h-0.9zM71.0 50.6h0.9v0.9h-0.9zM68.3 50.6h0.9v0.9h-0.9zM67.6 53.4h0.9v0.9h-0.9zM65.9 53.1h0.9v0.9h-0.9zM70.8 50.8h0.9v0.9h-0.9zM69.8 50.3h0.9v0.9h-0.9zM72.1 52.2h0.9v0.9h-0.9zM69.8 49.5h0.9v0.9h-0.9zM67.1 54.0h0.9v0.9h-0.9zM72.9 50.9h0.9v0.9h-0.9zM71.9 50.1h0.9v0.9h-0.9zM68.9 52.1h0.9v0.9h-0.9zM70.2 49.6h0.9v0.9h-0.9zM71.3 52.8h0.9v0.9h-0.9zM66.9 51.1h0.9v0.9h-0.9zM70.0 50.8h0.9v0.9h-0.9zM64.3 54.9h0.9v0.9h-0.9zM69.6 51.2h0.9v0.9h-0.9zM73.7 50.3h0.9v0.9h-0.9zM67.7 52.6h0.9v0.9h-0.9zM67.1 51.8h0.9v0.9h-0.9zM70.1 50.9h0.9v0.9h-0.9zM68.4 54.4h0.9v0.9h-0.9zM71.1 52.2h0.9v0.9h-0.9zM70.4 52.1h0.9v0.9h-0.9zM72.4 50.7h0.9v0.9h-0.9zM73.2 49.2h0.9v0.9h-0.9zM68.8 50.4h0.9v0.9h-0.9zM68.6 52.8h0.9v0.9h-0.9zM72.3 49.9h0.9v0.9h-0.9zM69.3 51.4h0.9v0.9h-0.9zM67.7 51.0h0.9v0.9h-0.9zM69.4 49.7h0.9v0.9h-0.9zM69.5 51.8h0.9v0.9h-0.9zM67.9 51.2h0.9v0.9h-0.9zM66.4 55.4h0.9v0.9h-0.9zM66.5 55.0h0.9v0.9h-0.9zM70.6 50.9h0.9v0.9h-0.9zM66.9 54.2h0.9v0.9h-0.9zM72.9 49.3h0.9v0.9h-0.9zM68.7 53.5h0.9v0.9h-0.9zM70.0 54.1h0.9v0.9h-0.9zM68.1 53.0h0.9v0.9h-0.9zM66.7 55.6h0.9v0.9h-0.9zM67.8 49.7h0.9v0.9h-0.9zM69.0 51.8h0.9v0.9h-0.9zM73.3 49.9h0.9v0.9h-0.9zM69.3 52.7h0.9v0.9h-0.9zM72.6 50.5h0.9v0.9h-0.9zM71.5 51.7h0.9v0.9h-0.9zM68.7 52.2h0.9v0.9h-0.9zM69.4 50.7h0.9v0.9h-0.9zM71.8 49.2h0.9v0.9h-0.9zM71.8 52.1h0.9v0.9h-0.9zM69.1 51.0h0.9v0.9h-0.9zM68.8 52.7h0.9v0.9h-0.9zM70.9 51.6h0.9v0.9h-0.9zM71.4 50.4h0.9v0.9h-0.9zM69.8 49.7h0.9v0.9h-0.9zM70.9 51.5h0.9v0.9h-0.9zM68.4 53.7h0.9v0.9h-0.9zM70.8 47.8h0.9v0.9h-0.9zM69.4 50.0h0.9v0.9h-0.9zM71.5 54.1h0.9v0.9h-0.9zM68.2 52.4h0.9v0.9h-0.9zM68.8 52.5h0.9v0.9h-0.9zM70.7 53.0h0.9v0.9h-0.9zM67.2 54.7h0.9v0.9h-0.9zM67.3 53.0h0.9v0.9h-0.9zM71.7 51.8h0.9v0.9h-0.9zM67.3 51.8h0.9v0.9h-0.9zM68.3 52.2h0.9v0.9h-0.9zM71.7 49.3h0.9v0.9h-0.9zM70.3 52.3h0.9v0.9h-0.9zM70.5 52.0h0.9v0.9h-0.9zM72.5 51.3h0.9v0.9h-0.9zM71.1 51.9h0.9v0.9h-0.9zM73.1 48.0h0.9v0.9h-0.9zM72.0 50.5h0.9v0.9h-0.9zM68.7 50.9h0.9v0.9h-0.9zM65.4 53.0h0.9v0.9h-0.9zM67.9 53.1h0.9v0.9h-0.9zM66.2 54.9h0.9v0.9h-0.9zM69.9 51.4h0.9v0.9h-0.9zM67.8 51.5h0.9v0.9h-0.9zM66.9 52.2h0.9v0.9h-0.9zM69.3 51.7h0.9v0.9h-0.9zM66.3 52.7h0.9v0.9h-0.9zM67.4 52.8h0.9v0.9h-0.9zM73.2 51.1h0.9v0.9h-0.9zM68.6 50.1h0.9v0.9h-0.9zM66.3 51.0h0.9v0.9h-0.9zM70.8 50.3h0.9v0.9h-0.9zM69.4 51.1h0.9v0.9h-0.9zM69.5 53.6h0.9v0.9h-0.9zM67.9 52.0h0.9v0.9h-0.9zM67.6 53.7h0.9v0.9h-0.9zM67.1 51.3h0.9v0.9h-0.9zM66.4 51.3h0.9v0.9h-0.9zM70.3 54.7h0.9v0.9h-0.9zM67.2 53.9h0.9v0.9h-0.9zM69.8 50.3h0.9v0.9h-0.9zM68.7 51.8h0.9v0.9h-0.9zM67.8 54.9h0.9v0.9h-0.9zM65.3 53.9h0.9v0.9h-0.9zM70.0 50.9h0.9v0.9h-0.9zM69.6 52.9h0.9v0.9h-0.9zM69.6 52.3h0.9v0.9h-0.9zM70.8 48.8h0.9v0.9h-0.9zM72.4 53.5h0.9v0.9h-0.9zM71.4 52.4h0.9v0.9h-0.9zM66.3 52.9h0.9v0.9h-0.9zM67.6 51.8h0.9v0.9h-0.9zM71.3 50.1h0.9v0.9h-0.9zM69.0 49.6h0.9v0.9h-0.9zM69.0 52.1h0.9v0.9h-0.9zM67.8 51.6h0.9v0.9h-0.9zM73.3 48.8h0.9v0.9h-0.9zM67.1 51.8h0.9v0.9h-0.9zM71.8 53.5h0.9v0.9h-0.9zM70.0 50.7h0.9v0.9h-0.9zM68.4 53.6h0.9v0.9h-0.9zM67.4 54.5h0.9v0.9h-0.9zM72.3 50.8h0.9v0.9h-0.9zM70.7 52.3h0.9v0.9h-0.9zM72.6 49.3h0.9v0.9h-0.9zM71.8 50.5h0.9v0.9h-0.9zM67.7 52.7h0.9v0.9h-0.9zM68.8 50.8h0.9v0.9h-0.9zM65.9 52.0h0.9v0.9h-0.9zM72.3 53.2h0.9v0.9h-0.9zM70.7 52.8h0.9v0.9h-0.9zM68.2 52.2h0.9v0.9h-0.9zM69.9 50.3h0.9v0.9h-0.9zM67.2 52.8h0.9v0.9h-0.9zM68.6 50.8h0.9v0.9h-0.9zM70.1 51.3h0.9v0.9h-0.9zM71.4 51.1h0.9v0.9h-0.9zM68.7 52.3h0.9v0.9h-0.9zM68.9 51.2h0.9v0.9h-0.9zM68.5 53.2h0.9v0.9h-0.9zM70.7 53.0h0.9v0.9h-0.9zM65.7 52.8h0.9v0.9h-0.9zM68.4 52.5h0.9v0.9h-0.9zM68.4 51.6h0.9v0.9h-0.9zM70.9 51.5h0.9v0.9h-0.9zM66.9 54.5h0.9v0.9h-0.9zM71.4 50.4h0.9v0.9h-0.9zM71.0 50.3h0.9v0.9h-0.9zM71.7 50.7h0.9v0.9h-0.9zM67.6 52.1h0.9v0.9h-0.9zM67.7 52.8h0.9v0.9h-0.9zM69.7 51.8h0.9v0.9h-0.9zM68.1 47.8h0.9v0.9h-0.9zM69.5 49.4h0.9v0.9h-0.9zM69.8 53.1h0.9v0.9h-0.9zM69.9 51.2h0.9v0.9h-0.9zM68.9 51.9h0.9v0.9h-0.9zM68.1 51.6h0.9v0.9h-0.9zM67.4 54.2h0.9v0.9h-0.9zM69.3 53.1h0.9v0.9h-0.9zM68.8 52.2h0.9v0.9h-0.9zM68.9 52.6h0.9v0.9h-0.9zM71.0 51.5h0.9v0.9h-0.9zM67.9 51.5h0.9v0.9h-0.9zM72.8 50.2h0.9v0.9h-0.9zM68.7 54.0h0.9v0.9h-0.9zM71.6 51.7h0.9v0.9h-0.9zM68.5 55.2h0.9v0.9h-0.9zM70.1 52.3h0.9v0.9h-0.9zM68.9 50.3h0.9v0.9h-0.9zM66.5 53.5h0.9v0.9h-0.9zM70.1 51.3h0.9v0.9h-0.9zM66.8 51.1h0.9v0.9h-0.9zM68.6 50.3h0.9v0.9h-0.9zM71.2 52.6h0.9v0.9h-0.9zM75.2 50.7h0.9v0.9h-0.9zM68.1 51.3h0.9v0.9h-0.9zM62.1 54.0h0.9v0.9h-0.9zM68.9 53.3h0.9v0.9h-0.9zM70.6 52.1h0.9v0.9h-0.9zM69.7 52.6h0.9v0.9h-0.9zM72.3 49.4h0.9v0.9h-0.9zM68.3 50.5h0.9v0.9h-0.9zM72.7 52.2h0.9v0.9h-0.9zM70.9 49.8h0.9v0.9h-0.9zM69.7 51.5h0.9v0.9h-0.9zM69.5 51.6h0.9v0.9h-0.9zM70.4 51.0h0.9v0.9h-0.9zM71.1 51.5h0.9v0.9h-0.9zM68.7 52.0h0.9v0.9h-0.9zM68.4 53.3h0.9v0.9h-0.9zM68.7 52.5h0.9v0.9h-0.9zM68.5 50.4h0.9v0.9h-0.9zM71.2 49.8h0.9v0.9h-0.9zM70.7 51.9h0.9v0.9h-0.9zM65.8 52.1h0.9v0.9h-0.9zM68.2 51.3h0.9v0.9h-0.9zM66.8 53.8h0.9v0.9h-0.9zM68.8 52.6h0.9v0.9h-0.9zM68.4 52.6h0.9v0.9h-0.9zM67.7 52.5h0.9v0.9h-0.9zM70.5 51.5h0.9v0.9h-0.9zM68.3 50.9h0.9v0.9h-0.9zM69.7 52.2h0.9v0.9h-0.9zM68.8 51.1h0.9v0.9h-0.9zM70.4 54.6h0.9v0.9h-0.9zM68.7 52.6h0.9v0.9h-0.9zM70.1 48.4h0.9v0.9h-0.9zM69.6 50.9h0.9v0.9h-0.9zM72.2 50.4h0.9v0.9h-0.9zM67.7 52.3h0.9v0.9h-0.9zM69.6 51.1h0.9v0.9h-0.9zM69.2 50.2h0.9v0.9h-0.9zM68.8 53.1h0.9v0.9h-0.9zM73.4 51.2h0.9v0.9h-0.9zM69.9 53.2h0.9v0.9h-0.9zM71.4 53.1h0.9v0.9h-0.9zM71.6 50.9h0.9v0.9h-0.9zM69.8 51.9h0.9v0.9h-0.9zM69.9 51.9h0.9v0.9h-0.9zM67.7 49.9h0.9v0.9h-0.9zM67.9 49.9h0.9v0.9h-0.9zM69.4 51.8h0.9v0.9h-0.9zM65.8 54.1h0.9v0.9h-0.9zM71.1 51.3h0.9v0.9h-0.9zM72.8 52.9h0.9v0.9h-0.9zM66.8 54.2h0.9v0.9h-0.9zM70.2 52.1h0.9v0.9h-0.9zM71.3 50.2h0.9v0.9h-0.9zM68.1 51.4h0.9v0.9h-0.9zM67.7 52.4h0.9v0.9h-0.9zM66.3 51.8h0.9v0.9h-0.9zM70.5 51.3h0.9v0.9h-0.9zM70.1 49.2h0.9v0.9h-0.9zM67.7 51.9h0.9v0.9h-0.9zM69.4 51.1h0.9v0.9h-0.9zM71.3 51.1h0.9v0.9h-0.9zM69.3 51.9h0.9v0.9h-0.9zM70.8 50.7h0.9v0.9h-0.9zM71.7 51.6h0.9v0.9h-0.9zM69.6 51.8h0.9v0.9h-0.9zM70.4 52.7h0.9v0.9h-0.9zM71.3 51.6h0.9v0.9h-0.9zM71.1 51.3h0.9v0.9h-0.9zM71.9 50.8h0.9v0.9h-0.9zM64.9 55.3h0.9v0.9h-0.9zM69.5 50.3h0.9v0.9h-0.9zM68.9 51.0h0.9v0.9h-0.9zM73.7 50.8h0.9v0.9h-0.9zM66.0 53.9h0.9v0.9h-0.9zM68.5 54.6h0.9v0.9h-0.9zM67.1 50.0h0.9v0.9h-0.9zM69.4 51.4h0.9v0.9h-0.9zM68.4 49.6h0.9v0.9h-0.9zM70.2 53.6h0.9v0.9h-0.9zM65.3 54.9h0.9v0.9h-0.9zM68.1 55.3h0.9v0.9h-0.9zM70.2 51.3h0.9v0.9h-0.9zM71.6 51.6h0.9v0.9h-0.9zM68.1 53.3h0.9v0.9h-0.9zM68.2 50.1h0.9v0.9h-0.9zM73.6 49.8h0.9v0.9h-0.9zM68.0 52.8h0.9v0.9h-0.9zM66.0 51.5h0.9v0.9h-0.9zM68.3 51.7h0.9v0.9h-0.9zM69.5 53.2h0.9v0.9h-0.9zM68.3 52.9h0.9v0.9h-0.9zM70.6 50.0h0.9v0.9h-0.9zM69.8 50.5h0.9v0.9h-0.9zM71.5 51.6h0.9v0.9h-0.9zM69.3 50.2h0.9v0.9h-0.9zM69.5 50.8h0.9v0.9h-0.9zM70.8 51.2h0.9v0.9h-0.9zM67.6 53.7h0.9v0.9h-0.9zM70.8 50.6h0.9v0.9h-0.9zM71.7 50.6h0.9v0.9h-0.9zM68.7 52.3h0.9v0.9h-0.9zM67.7 52.0h0.9v0.9h-0.9zM69.0 53.9h0.9v0.9h-0.9zM72.4 50.3h0.9v0.9h-0.9zM72.7 50.5h0.9v0.9h-0.9zM70.1 52.7h0.9v0.9h-0.9zM69.9 54.7h0.9v0.9h-0.9zM69.8 50.2h0.9v0.9h-0.9zM72.0 50.3h0.9v0.9h-0.9zM68.7 48.4h0.9v0.9h-0.9zM71.4 52.1h0.9v0.9h-0.9zM71.0 52.5h0.9v0.9h-0.9zM72.9 50.4h0.9v0.9h-0.9zM71.3 50.2h0.9v0.9h-0.9zM68.6 53.5h0.9v0.9h-0.9zM70.1 49.9h0.9v0.9h-0.9zM70.1 51.4h0.9v0.9h-0.9zM67.6 53.1h0.9v0.9h-0.9zM68.5 50.3h0.9v0.9h-0.9zM67.0 55.0h0.9v0.9h-0.9zM66.1 53.4h0.9v0.9h-0.9z" fill="#000" fill-opacity="0.9"/>
<path d="M71.7 54.1h0.9v0.9h-0.9zM65.1 51.2h0.9v0.9h-0.9zM70.0 54.6h0.9v0.9h-0.9zM67.2 48.7h0.9v0.9h-0.9zM73.1 55.5h0.9v0.9h-0.9zM70.8 50.4h0.9v0.9h-0.9zM71.0 52.5h0.9v0.9h-0.9zM72.5 48.5h0.9v0.9h-0.9zM69.9 51.7h0.9v0.9h-0.9zM65.5 52.8h0.9v0.9h-0.9zM69.6 51.0h0.9v0.9h-0.9zM70.9 47.9h0.9v0.9h-0.9zM69.3 53.5h0.9v0.9h-0.9zM70.5 55.4h0.9v0.9h-0.9zM65.2 47.7h0.9v0.9h-0.9zM70.4 53.6h0.9v0.9h-0.9zM77.1 54.0h0.9v0.9h-0.9zM66.4 54.6h0.9v0.9h-0.9zM66.5 47.7h0.9v0.9h-0.9zM78.9 53.2h0.9v0.9h-0.9zM72.1 53.9h0.9v0.9h-0.9zM76.0 53.1h0.9v0.9h-0.9zM73.9 49.1h0.9v0.9h-0.9zM64.5 56.5h0.9v0.9h-0.9zM74.8 53.7h0.9v0.9h-0.9zM70.3 52.7h0.9v0.9h-0.9zM67.0 56.8h0.9v0.9h-0.9zM71.9 53.7h0.9v0.9h-0.9zM70.9 55.3h0.9v0.9h-0.9zM71.3 54.4h0.9v0.9h-0.9zM65.3 53.7h0.9v0.9h-0.9zM77.4 50.6h0.9v0.9h-0.9zM69.0 54.9h0.9v0.9h-0.9zM72.9 54.1h0.9v0.9h-0.9zM63.7 53.7h0.9v0.9h-0.9zM65.2 49.7h0.9v0.9h-0.9zM71.5 51.3h0.9v0.9h-0.9zM72.4 61.6h0.9v0.9h-0.9zM72.3 54.4h0.9v0.9h-0.9zM66.3 50.3h0.9v0.9h-0.9zM65.7 50.6h0.9v0.9h-0.9zM65.6 50.2h0.9v0.9h-0.9zM68.7 49.2h0.9v0.9h-0.9zM64.4 48.1h0.9v0.9h-0.9zM71.1 52.4h0.9v0.9h-0.9z" fill="#000" fill-opacity="0.55"/>
<path d="M68.2 67.2h0.9v0.9h-0.9zM57.3 65.4h0.9v0.9h-0.9zM48.5 73.4h0.9v0.9h-0.9zM69.6 60.9h0.9v0.9h-0.9zM50.7 63.9h0.9v0.9h-0.9zM45.0 58.1h0.9v0.9h-0.9zM66.0 62.4h0.9v0.9h-0.9zM56.1 66.8h0.9v0.9h-0.9zM51.7 63.4h0.9v0.9h-0.9zM56.0 57.8h0.9v0.9h-0.9zM63.7 57.0h0.9v0.9h-0.9zM75.2 59.1h0.9v0.9h-0.9zM75.9 56.5h0.9v0.9h-0.9zM64.8 56.0h0.9v0.9h-0.9zM49.3 62.8h0.9v0.9h-0.9zM65.4 55.6h0.9v0.9h-0.9zM69.5 58.0h0.9v0.9h-0.9zM61.0 63.9h0.9v0.9h-0.9zM64.8 53.0h0.9v0.9h-0.9zM72.9 64.8h0.9v0.9h-0.9zM56.6 56.9h0.9v0.9h-0.9zM46.4 55.2h0.9v0.9h-0.9zM64.4 60.3h0.9v0.9h-0.9zM50.9 59.4h0.9v0.9h-0.9zM72.5 60.3h0.9v0.9h-0.9z" fill="#000" fill-opacity="0.4"/>
<path d="M144.4 73.2h0.9v0.9h-0.9zM145.2 72.1h0.9v0.9h-0.9zM141.8 78.5h0.9v0.9h-0.9zM128.0 80.2h0.9v0.9h-0.9zM130.6 80.1h0.9v0.9h-0.9zM138.4 70.1h0.9v0.9h-0.9zM145.0 68.9h0.9v0.9h-0.9zM129.4 74.5h0.9v0.9h-0.9zM137.1 82.1h0.9v0.9h-0.9zM135.0 76.9h0.9v0.9h-0.9zM135.2 76.6h0.9v0.9h-0.9zM132.7 70.3h0.9v0.9h-0.9zM132.7 81.6h0.9v0.9h-0.9zM132.2 70.3h0.9v0.9h-0.9zM129.7 75.9h0.9v0.9h-0.9zM137.8 77.7h0.9v0.9h-0.9zM135.9 79.7h0.9v0.9h-0.9zM140.7 79.8h0.9v0.9h-0.9zM139.4 70.5h0.9v0.9h-0.9zM145.0 70.4h0.9v0.9h-0.9zM134.0 82.3h0.9v0.9h-0.9zM143.7 75.8h0.9v0.9h-0.9zM134.8 71.8h0.9v0.9h-0.9zM139.7 69.6h0.9v0.9h-0.9zM142.3 79.6h0.9v0.9h-0.9zM135.0 80.3h0.9v0.9h-0.9zM135.9 76.0h0.9v0.9h-0.9zM139.2 73.3h0.9v0.9h-0.9zM129.9 77.5h0.9v0.9h-0.9zM137.4 82.3h0.9v0.9h-0.9zM129.6 76.2h0.9v0.9h-0.9zM131.9 76.0h0.9v0.9h-0.9zM139.1 80.8h0.9v0.9h-0.9zM145.3 75.7h0.9v0.9h-0.9zM145.8 74.8h0.9v0.9h-0.9zM132.6 70.2h0.9v0.9h-0.9zM130.5 78.0h0.9v0.9h-0.9zM137.2 78.8h0.9v0.9h-0.9zM135.8 82.0h0.9v0.9h-0.9zM134.7 69.8h0.9v0.9h-0.9zM141.7 69.2h0.9v0.9h-0.9zM140.6 77.1h0.9v0.9h-0.9zM138.0 80.0h0.9v0.9h-0.9zM139.0 65.9h0.9v0.9h-0.9zM138.3 74.0h0.9v0.9h-0.9zM140.0 71.5h0.9v0.9h-0.9zM144.5 82.6h0.9v0.9h-0.9zM144.8 73.0h0.9v0.9h-0.9zM145.4 68.7h0.9v0.9h-0.9zM143.3 79.3h0.9v0.9h-0.9zM129.8 71.9h0.9v0.9h-0.9zM136.0 73.8h0.9v0.9h-0.9zM141.9 69.5h0.9v0.9h-0.9zM133.2 72.5h0.9v0.9h-0.9zM138.8 69.5h0.9v0.9h-0.9zM128.9 70.8h0.9v0.9h-0.9zM131.5 76.2h0.9v0.9h-0.9zM135.1 72.0h0.9v0.9h-0.9zM129.2 77.6h0.9v0.9h-0.9zM135.5 78.8h0.9v0.9h-0.9zM132.0 76.2h0.9v0.9h-0.9zM143.3 67.9h0.9v0.9h-0.9zM133.6 82.0h0.9v0.9h-0.9zM134.7 66.3h0.9v0.9h-0.9zM142.3 72.7h0.9v0.9h-0.9zM137.9 73.6h0.9v0.9h-0.9zM128.8 76.4h0.9v0.9h-0.9zM131.8 72.7h0.9v0.9h-0.9zM138.8 74.2h0.9v0.9h-0.9zM131.5 77.0h0.9v0.9h-0.9zM132.3 74.4h0.9v0.9h-0.9zM139.1 71.8h0.9v0.9h-0.9zM136.8 73.2h0.9v0.9h-0.9zM132.7 71.2h0.9v0.9h-0.9zM137.9 71.9h0.9v0.9h-0.9zM139.2 76.6h0.9v0.9h-0.9zM128.6 74.2h0.9v0.9h-0.9zM132.8 73.7h0.9v0.9h-0.9zM133.4 78.2h0.9v0.9h-0.9zM143.6 79.8h0.9v0.9h-0.9zM128.8 76.0h0.9v0.9h-0.9zM134.1 72.7h0.9v0.9h-0.9zM131.4 81.6h0.9v0.9h-0.9zM140.3 69.1h0.9v0.9h-0.9zM142.4 78.3h0.9v0.9h-0.9zM128.9 73.9h0.9v0.9h-0.9zM143.4 73.5h0.9v0.9h-0.9zM140.4 80.2h0.9v0.9h-0.9zM131.8 77.4h0.9v0.9h-0.9zM144.3 82.1h0.9v0.9h-0.9zM133.1 80.8h0.9v0.9h-0.9zM142.0 69.3h0.9v0.9h-0.9zM129.2 75.1h0.9v0.9h-0.9zM136.1 79.1h0.9v0.9h-0.9zM137.0 68.7h0.9v0.9h-0.9zM143.9 75.7h0.9v0.9h-0.9zM142.9 82.5h0.9v0.9h-0.9zM137.7 71.1h0.9v0.9h-0.9zM128.8 69.3h0.9v0.9h-0.9zM135.6 71.9h0.9v0.9h-0.9zM134.6 72.7h0.9v0.9h-0.9zM145.7 71.8h0.9v0.9h-0.9zM140.1 74.0h0.9v0.9h-0.9zM135.2 80.1h0.9v0.9h-0.9zM134.4 75.3h0.9v0.9h-0.9zM141.6 76.4h0.9v0.9h-0.9zM129.6 69.1h0.9v0.9h-0.9zM142.5 68.2h0.9v0.9h-0.9zM139.9 81.9h0.9v0.9h-0.9zM135.7 72.7h0.9v0.9h-0.9zM140.6 81.8h0.9v0.9h-0.9zM135.0 72.6h0.9v0.9h-0.9zM130.5 74.7h0.9v0.9h-0.9zM135.4 77.5h0.9v0.9h-0.9zM128.8 68.9h0.9v0.9h-0.9zM129.5 68.6h0.9v0.9h-0.9zM135.8 74.2h0.9v0.9h-0.9zM142.7 69.4h0.9v0.9h-0.9zM131.5 72.0h0.9v0.9h-0.9zM136.9 70.5h0.9v0.9h-0.9zM145.4 72.2h0.9v0.9h-0.9zM142.7 74.4h0.9v0.9h-0.9zM144.0 72.2h0.9v0.9h-0.9zM140.0 72.6h0.9v0.9h-0.9zM138.4 74.8h0.9v0.9h-0.9zM138.3 77.8h0.9v0.9h-0.9zM138.7 68.1h0.9v0.9h-0.9zM136.2 82.6h0.9v0.9h-0.9zM134.4 70.6h0.9v0.9h-0.9zM132.2 78.6h0.9v0.9h-0.9zM129.1 67.3h0.9v0.9h-0.9zM134.5 68.4h0.9v0.9h-0.9zM141.7 69.0h0.9v0.9h-0.9zM137.8 81.3h0.9v0.9h-0.9zM130.8 73.7h0.9v0.9h-0.9zM142.5 76.6h0.9v0.9h-0.9zM128.6 78.0h0.9v0.9h-0.9zM144.6 68.8h0.9v0.9h-0.9zM139.6 73.0h0.9v0.9h-0.9zM137.9 72.5h0.9v0.9h-0.9zM135.3 74.3h0.9v0.9h-0.9zM142.7 75.1h0.9v0.9h-0.9zM128.0 68.8h0.9v0.9h-0.9zM128.2 81.5h0.9v0.9h-0.9zM137.2 74.7h0.9v0.9h-0.9zM133.2 73.0h0.9v0.9h-0.9zM135.1 78.0h0.9v0.9h-0.9zM137.5 71.7h0.9v0.9h-0.9zM128.7 78.3h0.9v0.9h-0.9zM145.5 73.8h0.9v0.9h-0.9zM140.0 74.7h0.9v0.9h-0.9zM129.7 70.4h0.9v0.9h-0.9zM141.1 70.6h0.9v0.9h-0.9zM137.4 80.5h0.9v0.9h-0.9zM140.2 76.2h0.9v0.9h-0.9zM141.1 73.9h0.9v0.9h-0.9zM145.6 78.3h0.9v0.9h-0.9zM130.0 81.3h0.9v0.9h-0.9zM145.7 67.6h0.9v0.9h-0.9zM136.4 82.6h0.9v0.9h-0.9zM131.5 63.0h0.9v0.9h-0.9zM134.6 76.8h0.9v0.9h-0.9zM134.4 71.5h0.9v0.9h-0.9zM143.9 68.2h0.9v0.9h-0.9zM137.3 75.0h0.9v0.9h-0.9zM129.1 76.6h0.9v0.9h-0.9zM140.7 74.1h0.9v0.9h-0.9zM136.8 77.7h0.9v0.9h-0.9zM142.5 81.8h0.9v0.9h-0.9zM128.7 70.0h0.9v0.9h-0.9zM143.4 69.8h0.9v0.9h-0.9zM143.9 76.7h0.9v0.9h-0.9zM128.0 72.7h0.9v0.9h-0.9zM136.4 72.3h0.9v0.9h-0.9zM130.1 75.1h0.9v0.9h-0.9zM137.4 77.3h0.9v0.9h-0.9zM129.5 79.7h0.9v0.9h-0.9zM143.8 81.3h0.9v0.9h-0.9zM131.2 79.9h0.9v0.9h-0.9zM139.9 72.4h0.9v0.9h-0.9zM139.6 80.8h0.9v0.9h-0.9zM133.6 78.2h0.9v0.9h-0.9zM131.7 70.1h0.9v0.9h-0.9zM144.3 81.9h0.9v0.9h-0.9zM128.6 70.6h0.9v0.9h-0.9zM132.4 77.8h0.9v0.9h-0.9zM133.7 75.4h0.9v0.9h-0.9zM138.4 81.2h0.9v0.9h-0.9zM134.5 76.7h0.9v0.9h-0.9zM129.9 81.3h0.9v0.9h-0.9zM138.1 68.4h0.9v0.9h-0.9zM140.9 68.1h0.9v0.9h-0.9zM140.5 70.2h0.9v0.9h-0.9zM136.7 76.2h0.9v0.9h-0.9zM133.4 72.3h0.9v0.9h-0.9zM128.1 68.7h0.9v0.9h-0.9zM137.4 70.6h0.9v0.9h-0.9zM139.2 76.2h0.9v0.9h-0.9zM135.8 73.6h0.9v0.9h-0.9zM145.1 79.0h0.9v0.9h-0.9zM131.5 74.6h0.9v0.9h-0.9zM142.5 80.8h0.9v0.9h-0.9zM140.8 79.0h0.9v0.9h-0.9zM144.0 74.6h0.9v0.9h-0.9zM144.4 69.3h0.9v0.9h-0.9zM132.1 70.7h0.9v0.9h-0.9zM144.4 71.9h0.9v0.9h-0.9zM135.1 72.9h0.9v0.9h-0.9zM140.1 72.6h0.9v0.9h-0.9zM145.0 70.2h0.9v0.9h-0.9zM138.6 74.6h0.9v0.9h-0.9zM138.3 69.2h0.9v0.9h-0.9zM129.2 76.0h0.9v0.9h-0.9zM138.6 74.0h0.9v0.9h-0.9zM132.2 68.1h0.9v0.9h-0.9zM134.8 72.5h0.9v0.9h-0.9zM134.7 71.4h0.9v0.9h-0.9zM145.3 69.6h0.9v0.9h-0.9zM139.3 74.8h0.9v0.9h-0.9zM140.9 67.4h0.9v0.9h-0.9zM131.0 69.8h0.9v0.9h-0.9zM133.3 77.7h0.9v0.9h-0.9zM143.6 74.0h0.9v0.9h-0.9zM130.1 77.6h0.9v0.9h-0.9zM145.0 72.7h0.9v0.9h-0.9zM135.6 75.1h0.9v0.9h-0.9zM134.9 72.2h0.9v0.9h-0.9zM137.1 73.9h0.9v0.9h-0.9zM135.8 74.8h0.9v0.9h-0.9zM136.3 72.7h0.9v0.9h-0.9zM135.5 80.0h0.9v0.9h-0.9zM140.5 71.2h0.9v0.9h-0.9zM132.8 70.8h0.9v0.9h-0.9zM130.9 72.7h0.9v0.9h-0.9zM135.7 79.4h0.9v0.9h-0.9zM129.5 80.3h0.9v0.9h-0.9zM135.9 74.1h0.9v0.9h-0.9zM136.7 72.9h0.9v0.9h-0.9zM141.9 75.5h0.9v0.9h-0.9zM129.9 80.0h0.9v0.9h-0.9zM135.0 71.2h0.9v0.9h-0.9zM141.9 77.6h0.9v0.9h-0.9zM134.0 78.2h0.9v0.9h-0.9zM142.9 73.4h0.9v0.9h-0.9zM140.8 68.0h0.9v0.9h-0.9zM128.6 76.7h0.9v0.9h-0.9zM134.8 67.0h0.9v0.9h-0.9zM141.6 73.1h0.9v0.9h-0.9zM137.3 74.3h0.9v0.9h-0.9zM139.9 82.0h0.9v0.9h-0.9zM145.6 65.7h0.9v0.9h-0.9zM140.0 68.6h0.9v0.9h-0.9zM137.7 75.6h0.9v0.9h-0.9zM143.0 81.7h0.9v0.9h-0.9zM135.6 68.2h0.9v0.9h-0.9zM128.1 77.2h0.9v0.9h-0.9zM132.8 66.4h0.9v0.9h-0.9zM138.5 75.8h0.9v0.9h-0.9zM144.9 68.8h0.9v0.9h-0.9zM138.8 77.5h0.9v0.9h-0.9zM133.0 73.0h0.9v0.9h-0.9zM145.7 77.4h0.9v0.9h-0.9zM135.1 71.4h0.9v0.9h-0.9zM132.0 68.4h0.9v0.9h-0.9zM137.8 70.2h0.9v0.9h-0.9zM134.1 71.6h0.9v0.9h-0.9zM129.9 70.0h0.9v0.9h-0.9zM140.7 70.5h0.9v0.9h-0.9zM140.3 74.5h0.9v0.9h-0.9zM145.3 72.6h0.9v0.9h-0.9zM130.3 80.0h0.9v0.9h-0.9zM144.2 74.4h0.9v0.9h-0.9zM142.2 75.6h0.9v0.9h-0.9zM132.4 78.2h0.9v0.9h-0.9zM136.5 80.4h0.9v0.9h-0.9zM139.2 76.3h0.9v0.9h-0.9zM133.5 68.1h0.9v0.9h-0.9zM129.8 74.4h0.9v0.9h-0.9zM142.9 68.0h0.9v0.9h-0.9zM130.8 76.6h0.9v0.9h-0.9zM136.7 68.5h0.9v0.9h-0.9zM135.7 75.6h0.9v0.9h-0.9zM144.1 69.8h0.9v0.9h-0.9zM137.9 80.4h0.9v0.9h-0.9zM135.5 68.9h0.9v0.9h-0.9zM145.4 77.5h0.9v0.9h-0.9zM134.2 76.8h0.9v0.9h-0.9zM140.9 71.7h0.9v0.9h-0.9zM132.1 76.5h0.9v0.9h-0.9zM141.5 72.5h0.9v0.9h-0.9zM141.3 66.5h0.9v0.9h-0.9zM142.7 69.0h0.9v0.9h-0.9zM136.6 67.7h0.9v0.9h-0.9zM131.9 77.7h0.9v0.9h-0.9zM139.2 67.4h0.9v0.9h-0.9zM144.2 69.3h0.9v0.9h-0.9zM133.4 68.8h0.9v0.9h-0.9zM128.3 79.6h0.9v0.9h-0.9zM131.2 74.6h0.9v0.9h-0.9zM144.6 74.2h0.9v0.9h-0.9zM128.0 72.1h0.9v0.9h-0.9zM128.9 77.5h0.9v0.9h-0.9zM129.7 76.2h0.9v0.9h-0.9zM143.9 74.2h0.9v0.9h-0.9zM134.8 72.2h0.9v0.9h-0.9zM140.3 75.3h0.9v0.9h-0.9zM140.5 82.4h0.9v0.9h-0.9zM135.7 76.1h0.9v0.9h-0.9zM141.0 74.7h0.9v0.9h-0.9zM136.2 80.3h0.9v0.9h-0.9zM137.6 68.3h0.9v0.9h-0.9zM133.4 67.3h0.9v0.9h-0.9zM127.9 79.4h0.9v0.9h-0.9zM138.5 81.7h0.9v0.9h-0.9zM132.7 68.3h0.9v0.9h-0.9zM132.8 67.9h0.9v0.9h-0.9zM143.6 67.6h0.9v0.9h-0.9zM134.4 76.2h0.9v0.9h-0.9zM129.7 66.3h0.9v0.9h-0.9zM139.2 76.0h0.9v0.9h-0.9zM137.5 77.5h0.9v0.9h-0.9zM128.9 67.7h0.9v0.9h-0.9zM134.1 80.6h0.9v0.9h-0.9zM138.8 68.8h0.9v0.9h-0.9zM132.9 75.9h0.9v0.9h-0.9zM145.6 72.8h0.9v0.9h-0.9zM142.2 72.7h0.9v0.9h-0.9zM136.9 73.2h0.9v0.9h-0.9zM144.3 66.5h0.9v0.9h-0.9zM128.5 74.0h0.9v0.9h-0.9zM131.9 70.7h0.9v0.9h-0.9zM144.3 70.8h0.9v0.9h-0.9zM137.0 70.0h0.9v0.9h-0.9zM130.9 72.6h0.9v0.9h-0.9zM138.1 78.1h0.9v0.9h-0.9zM141.0 82.4h0.9v0.9h-0.9zM138.7 70.5h0.9v0.9h-0.9zM128.7 80.6h0.9v0.9h-0.9zM128.6 76.2h0.9v0.9h-0.9zM135.2 69.0h0.9v0.9h-0.9zM128.2 67.7h0.9v0.9h-0.9zM129.4 80.8h0.9v0.9h-0.9zM139.4 71.0h0.9v0.9h-0.9zM135.7 69.1h0.9v0.9h-0.9zM129.4 77.4h0.9v0.9h-0.9zM143.6 78.2h0.9v0.9h-0.9zM134.5 79.6h0.9v0.9h-0.9zM143.7 75.1h0.9v0.9h-0.9zM138.8 71.6h0.9v0.9h-0.9zM139.0 72.3h0.9v0.9h-0.9zM135.5 70.6h0.9v0.9h-0.9zM139.9 76.9h0.9v0.9h-0.9zM132.3 79.6h0.9v0.9h-0.9zM132.5 68.8h0.9v0.9h-0.9zM143.6 73.3h0.9v0.9h-0.9zM131.5 72.8h0.9v0.9h-0.9zM134.8 68.7h0.9v0.9h-0.9zM141.2 76.5h0.9v0.9h-0.9zM133.8 82.3h0.9v0.9h-0.9zM134.5 71.7h0.9v0.9h-0.9zM144.2 77.9h0.9v0.9h-0.9zM131.6 81.1h0.9v0.9h-0.9zM132.2 71.6h0.9v0.9h-0.9zM143.8 81.4h0.9v0.9h-0.9zM132.8 77.6h0.9v0.9h-0.9zM133.8 77.2h0.9v0.9h-0.9zM143.7 70.4h0.9v0.9h-0.9zM133.6 68.8h0.9v0.9h-0.9zM145.7 69.0h0.9v0.9h-0.9zM142.6 79.9h0.9v0.9h-0.9zM143.1 79.7h0.9v0.9h-0.9zM131.9 68.8h0.9v0.9h-0.9zM131.8 75.5h0.9v0.9h-0.9zM141.4 70.1h0.9v0.9h-0.9zM142.7 76.0h0.9v0.9h-0.9zM131.9 76.1h0.9v0.9h-0.9zM131.6 81.8h0.9v0.9h-0.9zM132.3 78.5h0.9v0.9h-0.9zM130.4 69.0h0.9v0.9h-0.9zM135.4 72.4h0.9v0.9h-0.9zM136.9 73.5h0.9v0.9h-0.9zM139.1 81.3h0.9v0.9h-0.9zM128.9 73.1h0.9v0.9h-0.9zM131.3 69.4h0.9v0.9h-0.9zM130.0 71.8h0.9v0.9h-0.9zM132.7 68.9h0.9v0.9h-0.9zM131.2 69.8h0.9v0.9h-0.9zM144.7 71.5h0.9v0.9h-0.9zM134.6 71.3h0.9v0.9h-0.9zM130.4 75.2h0.9v0.9h-0.9zM139.8 81.0h0.9v0.9h-0.9zM145.3 81.5h0.9v0.9h-0.9zM142.1 69.9h0.9v0.9h-0.9zM139.5 76.1h0.9v0.9h-0.9zM134.7 77.7h0.9v0.9h-0.9zM135.1 69.8h0.9v0.9h-0.9zM133.3 75.2h0.9v0.9h-0.9zM142.3 67.7h0.9v0.9h-0.9zM142.3 73.0h0.9v0.9h-0.9zM136.7 72.4h0.9v0.9h-0.9zM143.3 79.8h0.9v0.9h-0.9zM139.6 71.0h0.9v0.9h-0.9zM140.2 75.7h0.9v0.9h-0.9zM132.7 76.3h0.9v0.9h-0.9zM132.2 72.5h0.9v0.9h-0.9zM132.0 81.5h0.9v0.9h-0.9zM144.2 70.2h0.9v0.9h-0.9zM142.2 72.4h0.9v0.9h-0.9zM144.0 73.8h0.9v0.9h-0.9zM142.6 74.9h0.9v0.9h-0.9zM142.3 77.1h0.9v0.9h-0.9zM135.7 69.8h0.9v0.9h-0.9zM141.6 69.7h0.9v0.9h-0.9zM130.9 78.6h0.9v0.9h-0.9zM139.6 73.4h0.9v0.9h-0.9zM128.7 80.4h0.9v0.9h-0.9zM145.2 71.0h0.9v0.9h-0.9zM143.6 69.5h0.9v0.9h-0.9zM130.9 80.5h0.9v0.9h-0.9zM141.7 73.0h0.9v0.9h-0.9zM142.6 69.2h0.9v0.9h-0.9zM128.7 70.8h0.9v0.9h-0.9zM138.0 79.1h0.9v0.9h-0.9zM135.4 69.1h0.9v0.9h-0.9zM139.0 75.9h0.9v0.9h-0.9zM143.8 78.9h0.9v0.9h-0.9zM140.8 76.7h0.9v0.9h-0.9zM131.7 78.9h0.9v0.9h-0.9zM137.8 82.3h0.9v0.9h-0.9zM138.0 72.0h0.9v0.9h-0.9zM128.1 80.7h0.9v0.9h-0.9zM130.3 75.1h0.9v0.9h-0.9zM134.3 68.8h0.9v0.9h-0.9zM131.1 69.5h0.9v0.9h-0.9zM132.1 70.8h0.9v0.9h-0.9zM140.0 68.1h0.9v0.9h-0.9zM145.1 78.3h0.9v0.9h-0.9zM136.1 75.9h0.9v0.9h-0.9zM139.5 68.2h0.9v0.9h-0.9zM141.5 80.5h0.9v0.9h-0.9zM139.9 76.5h0.9v0.9h-0.9zM139.7 74.2h0.9v0.9h-0.9zM127.9 69.6h0.9v0.9h-0.9zM143.5 74.6h0.9v0.9h-0.9zM130.8 81.4h0.9v0.9h-0.9zM131.1 76.3h0.9v0.9h-0.9zM137.0 74.4h0.9v0.9h-0.9zM138.4 76.7h0.9v0.9h-0.9zM141.4 75.8h0.9v0.9h-0.9zM133.1 76.9h0.9v0.9h-0.9zM144.8 70.5h0.9v0.9h-0.9zM139.1 69.7h0.9v0.9h-0.9zM143.0 67.7h0.9v0.9h-0.9zM136.4 80.1h0.9v0.9h-0.9zM129.2 65.2h0.9v0.9h-0.9zM128.1 70.5h0.9v0.9h-0.9zM139.4 76.3h0.9v0.9h-0.9zM135.5 75.0h0.9v0.9h-0.9zM135.8 81.1h0.9v0.9h-0.9zM133.7 70.7h0.9v0.9h-0.9zM131.1 69.2h0.9v0.9h-0.9zM136.4 69.9h0.9v0.9h-0.9zM132.5 75.0h0.9v0.9h-0.9zM143.9 71.9h0.9v0.9h-0.9zM131.1 74.4h0.9v0.9h-0.9zM145.2 77.9h0.9v0.9h-0.9zM143.3 72.4h0.9v0.9h-0.9zM134.8 75.6h0.9v0.9h-0.9zM141.7 67.8h0.9v0.9h-0.9zM138.3 75.7h0.9v0.9h-0.9zM136.2 81.2h0.9v0.9h-0.9zM142.4 81.6h0.9v0.9h-0.9zM142.8 76.1h0.9v0.9h-0.9zM131.5 82.3h0.9v0.9h-0.9zM144.1 71.1h0.9v0.9h-0.9zM128.5 69.4h0.9v0.9h-0.9zM128.0 74.3h0.9v0.9h-0.9zM136.6 75.2h0.9v0.9h-0.9zM133.3 79.9h0.9v0.9h-0.9zM135.5 74.3h0.9v0.9h-0.9zM136.5 68.2h0.9v0.9h-0.9zM136.3 78.1h0.9v0.9h-0.9zM144.2 70.9h0.9v0.9h-0.9zM144.3 80.8h0.9v0.9h-0.9zM134.1 70.7h0.9v0.9h-0.9zM133.0 72.0h0.9v0.9h-0.9zM139.6 69.6h0.9v0.9h-0.9zM131.5 72.1h0.9v0.9h-0.9zM135.1 76.1h0.9v0.9h-0.9zM140.8 69.5h0.9v0.9h-0.9zM128.0 68.2h0.9v0.9h-0.9zM141.7 75.8h0.9v0.9h-0.9zM141.0 78.6h0.9v0.9h-0.9zM134.8 66.4h0.9v0.9h-0.9zM132.3 73.9h0.9v0.9h-0.9zM137.6 68.5h0.9v0.9h-0.9zM133.2 67.8h0.9v0.9h-0.9zM142.6 71.7h0.9v0.9h-0.9zM138.5 71.8h0.9v0.9h-0.9zM133.4 80.7h0.9v0.9h-0.9zM142.4 67.7h0.9v0.9h-0.9zM138.8 76.2h0.9v0.9h-0.9zM130.3 78.6h0.9v0.9h-0.9zM135.3 73.8h0.9v0.9h-0.9zM136.7 75.1h0.9v0.9h-0.9zM144.8 71.2h0.9v0.9h-0.9zM133.6 71.3h0.9v0.9h-0.9zM135.9 68.3h0.9v0.9h-0.9zM145.4 81.2h0.9v0.9h-0.9zM135.5 67.9h0.9v0.9h-0.9zM142.7 69.5h0.9v0.9h-0.9zM129.6 76.7h0.9v0.9h-0.9zM134.9 71.5h0.9v0.9h-0.9zM131.2 73.8h0.9v0.9h-0.9zM143.7 70.6h0.9v0.9h-0.9zM137.8 69.9h0.9v0.9h-0.9zM131.8 79.6h0.9v0.9h-0.9zM129.5 69.4h0.9v0.9h-0.9zM135.4 72.0h0.9v0.9h-0.9zM129.6 77.1h0.9v0.9h-0.9zM136.6 72.0h0.9v0.9h-0.9zM140.9 81.9h0.9v0.9h-0.9zM133.5 70.1h0.9v0.9h-0.9zM130.9 75.2h0.9v0.9h-0.9zM134.4 75.6h0.9v0.9h-0.9zM130.9 75.1h0.9v0.9h-0.9zM143.0 79.2h0.9v0.9h-0.9zM129.6 67.8h0.9v0.9h-0.9zM141.2 75.7h0.9v0.9h-0.9zM133.9 79.4h0.9v0.9h-0.9zM140.9 67.0h0.9v0.9h-0.9zM141.7 75.7h0.9v0.9h-0.9zM130.3 74.2h0.9v0.9h-0.9zM141.4 72.2h0.9v0.9h-0.9zM144.8 75.6h0.9v0.9h-0.9zM138.1 73.5h0.9v0.9h-0.9zM139.4 78.1h0.9v0.9h-0.9zM133.7 81.1h0.9v0.9h-0.9zM131.0 75.7h0.9v0.9h-0.9zM141.2 82.6h0.9v0.9h-0.9zM142.6 77.5h0.9v0.9h-0.9zM131.6 71.6h0.9v0.9h-0.9zM129.9 69.7h0.9v0.9h-0.9zM134.2 68.6h0.9v0.9h-0.9zM139.1 69.2h0.9v0.9h-0.9zM134.4 69.3h0.9v0.9h-0.9zM145.2 75.9h0.9v0.9h-0.9zM142.1 77.9h0.9v0.9h-0.9zM144.3 74.3h0.9v0.9h-0.9zM138.6 73.3h0.9v0.9h-0.9zM141.4 74.0h0.9v0.9h-0.9zM144.9 71.4h0.9v0.9h-0.9zM128.5 81.2h0.9v0.9h-0.9zM138.2 67.7h0.9v0.9h-0.9zM131.2 72.3h0.9v0.9h-0.9zM142.1 76.1h0.9v0.9h-0.9zM132.1 69.0h0.9v0.9h-0.9zM141.2 80.4h0.9v0.9h-0.9zM133.9 74.8h0.9v0.9h-0.9zM139.6 73.1h0.9v0.9h-0.9zM140.1 68.4h0.9v0.9h-0.9zM144.2 71.7h0.9v0.9h-0.9zM143.5 72.9h0.9v0.9h-0.9zM135.7 71.7h0.9v0.9h-0.9zM140.2 68.2h0.9v0.9h-0.9zM131.2 73.3h0.9v0.9h-0.9zM129.7 72.1h0.9v0.9h-0.9zM140.7 79.5h0.9v0.9h-0.9zM144.1 77.9h0.9v0.9h-0.9zM141.3 78.4h0.9v0.9h-0.9zM137.2 80.9h0.9v0.9h-0.9zM139.2 79.7h0.9v0.9h-0.9zM141.0 72.5h0.9v0.9h-0.9zM138.1 74.9h0.9v0.9h-0.9zM134.4 69.8h0.9v0.9h-0.9zM143.1 70.5h0.9v0.9h-0.9zM134.5 68.9h0.9v0.9h-0.9zM144.1 68.4h0.9v0.9h-0.9zM142.2 71.1h0.9v0.9h-0.9zM142.1 70.9h0.9v0.9h-0.9zM142.8 77.7h0.9v0.9h-0.9zM145.6 69.0h0.9v0.9h-0.9zM145.6 68.2h0.9v0.9h-0.9zM136.9 73.9h0.9v0.9h-0.9zM134.7 70.5h0.9v0.9h-0.9zM141.0 77.9h0.9v0.9h-0.9zM145.2 70.8h0.9v0.9h-0.9zM139.2 75.9h0.9v0.9h-0.9zM128.4 70.2h0.9v0.9h-0.9zM128.6 73.9h0.9v0.9h-0.9zM136.2 80.6h0.9v0.9h-0.9zM142.0 72.1h0.9v0.9h-0.9zM143.8 75.5h0.9v0.9h-0.9zM134.6 74.1h0.9v0.9h-0.9zM137.2 68.6h0.9v0.9h-0.9zM137.1 67.8h0.9v0.9h-0.9zM129.6 80.2h0.9v0.9h-0.9zM127.9 70.8h0.9v0.9h-0.9zM137.3 76.6h0.9v0.9h-0.9zM136.9 73.7h0.9v0.9h-0.9zM143.4 80.2h0.9v0.9h-0.9zM131.2 70.4h0.9v0.9h-0.9zM143.2 73.6h0.9v0.9h-0.9zM132.8 75.8h0.9v0.9h-0.9zM137.6 79.5h0.9v0.9h-0.9zM140.6 67.9h0.9v0.9h-0.9zM130.5 73.0h0.9v0.9h-0.9zM144.8 74.7h0.9v0.9h-0.9zM145.0 76.4h0.9v0.9h-0.9zM145.3 69.4h0.9v0.9h-0.9zM127.9 75.7h0.9v0.9h-0.9zM139.4 78.0h0.9v0.9h-0.9zM139.9 78.6h0.9v0.9h-0.9zM143.7 70.9h0.9v0.9h-0.9zM131.5 74.2h0.9v0.9h-0.9zM130.1 72.0h0.9v0.9h-0.9zM142.4 72.8h0.9v0.9h-0.9zM132.6 72.5h0.9v0.9h-0.9zM129.1 81.8h0.9v0.9h-0.9zM129.5 66.8h0.9v0.9h-0.9zM139.4 81.8h0.9v0.9h-0.9zM137.5 68.0h0.9v0.9h-0.9zM141.3 68.7h0.9v0.9h-0.9zM142.3 68.0h0.9v0.9h-0.9zM127.9 71.4h0.9v0.9h-0.9zM144.6 80.5h0.9v0.9h-0.9zM143.6 80.2h0.9v0.9h-0.9zM144.6 81.6h0.9v0.9h-0.9zM141.7 73.4h0.9v0.9h-0.9zM134.8 67.7h0.9v0.9h-0.9zM132.3 76.9h0.9v0.9h-0.9zM144.2 79.2h0.9v0.9h-0.9zM135.4 69.1h0.9v0.9h-0.9zM136.6 80.0h0.9v0.9h-0.9zM140.4 63.7h0.9v0.9h-0.9zM140.2 78.6h0.9v0.9h-0.9zM140.3 73.0h0.9v0.9h-0.9zM139.1 80.9h0.9v0.9h-0.9zM137.0 79.4h0.9v0.9h-0.9zM141.6 68.2h0.9v0.9h-0.9zM135.0 75.0h0.9v0.9h-0.9zM132.6 71.0h0.9v0.9h-0.9zM144.2 74.1h0.9v0.9h-0.9zM143.0 68.5h0.9v0.9h-0.9zM140.8 72.9h0.9v0.9h-0.9zM130.9 73.7h0.9v0.9h-0.9zM128.7 67.6h0.9v0.9h-0.9zM144.4 74.7h0.9v0.9h-0.9zM144.8 81.0h0.9v0.9h-0.9zM132.8 68.4h0.9v0.9h-0.9zM139.2 77.7h0.9v0.9h-0.9zM128.2 74.9h0.9v0.9h-0.9zM134.9 70.7h0.9v0.9h-0.9zM140.5 82.1h0.9v0.9h-0.9zM134.4 74.7h0.9v0.9h-0.9zM142.3 74.1h0.9v0.9h-0.9zM144.2 73.2h0.9v0.9h-0.9zM130.4 78.1h0.9v0.9h-0.9zM140.2 69.3h0.9v0.9h-0.9zM134.6 67.1h0.9v0.9h-0.9zM131.0 71.4h0.9v0.9h-0.9zM134.2 63.7h0.9v0.9h-0.9zM136.5 80.2h0.9v0.9h-0.9zM143.9 74.9h0.9v0.9h-0.9zM141.6 76.6h0.9v0.9h-0.9zM128.0 80.9h0.9v0.9h-0.9zM128.9 75.0h0.9v0.9h-0.9zM145.7 71.7h0.9v0.9h-0.9zM137.9 75.5h0.9v0.9h-0.9zM138.8 75.1h0.9v0.9h-0.9zM134.2 72.0h0.9v0.9h-0.9zM142.8 71.0h0.9v0.9h-0.9zM137.9 72.9h0.9v0.9h-0.9zM138.5 78.6h0.9v0.9h-0.9zM132.4 69.9h0.9v0.9h-0.9zM141.8 82.5h0.9v0.9h-0.9zM131.7 69.9h0.9v0.9h-0.9zM130.4 71.6h0.9v0.9h-0.9zM138.6 69.4h0.9v0.9h-0.9zM142.8 73.4h0.9v0.9h-0.9zM133.1 71.9h0.9v0.9h-0.9zM133.3 77.8h0.9v0.9h-0.9zM130.6 80.8h0.9v0.9h-0.9zM138.7 71.2h0.9v0.9h-0.9zM141.7 79.7h0.9v0.9h-0.9zM130.1 72.2h0.9v0.9h-0.9zM137.5 73.6h0.9v0.9h-0.9zM137.6 69.4h0.9v0.9h-0.9zM129.8 79.5h0.9v0.9h-0.9zM137.4 73.1h0.9v0.9h-0.9zM132.8 78.1h0.9v0.9h-0.9zM131.5 67.2h0.9v0.9h-0.9zM145.5 78.0h0.9v0.9h-0.9zM129.5 70.9h0.9v0.9h-0.9zM134.0 72.2h0.9v0.9h-0.9zM139.0 77.1h0.9v0.9h-0.9zM135.1 67.8h0.9v0.9h-0.9zM128.2 75.5h0.9v0.9h-0.9zM143.4 79.3h0.9v0.9h-0.9zM132.2 70.0h0.9v0.9h-0.9zM135.3 74.6h0.9v0.9h-0.9zM144.2 69.8h0.9v0.9h-0.9zM145.3 69.7h0.9v0.9h-0.9zM144.3 74.9h0.9v0.9h-0.9zM135.3 74.4h0.9v0.9h-0.9zM141.2 77.2h0.9v0.9h-0.9zM143.1 80.5h0.9v0.9h-0.9zM131.4 78.2h0.9v0.9h-0.9zM145.3 72.6h0.9v0.9h-0.9zM129.7 74.8h0.9v0.9h-0.9zM139.7 76.1h0.9v0.9h-0.9zM132.2 80.2h0.9v0.9h-0.9zM131.7 77.8h0.9v0.9h-0.9zM130.4 75.1h0.9v0.9h-0.9zM144.8 67.8h0.9v0.9h-0.9zM130.2 80.6h0.9v0.9h-0.9zM144.2 71.7h0.9v0.9h-0.9zM130.9 73.6h0.9v0.9h-0.9zM133.8 80.8h0.9v0.9h-0.9zM131.7 68.4h0.9v0.9h-0.9zM145.6 81.3h0.9v0.9h-0.9zM129.6 71.0h0.9v0.9h-0.9zM143.3 68.8h0.9v0.9h-0.9zM133.3 75.3h0.9v0.9h-0.9zM144.9 79.5h0.9v0.9h-0.9zM141.3 73.5h0.9v0.9h-0.9zM132.6 77.1h0.9v0.9h-0.9zM137.0 73.5h0.9v0.9h-0.9zM130.8 79.8h0.9v0.9h-0.9zM135.2 69.2h0.9v0.9h-0.9zM128.4 71.8h0.9v0.9h-0.9zM140.1 69.3h0.9v0.9h-0.9zM138.5 77.3h0.9v0.9h-0.9zM132.8 74.6h0.9v0.9h-0.9zM128.1 77.4h0.9v0.9h-0.9zM144.7 71.1h0.9v0.9h-0.9zM130.1 78.6h0.9v0.9h-0.9zM133.8 82.5h0.9v0.9h-0.9zM128.4 68.7h0.9v0.9h-0.9zM134.8 72.3h0.9v0.9h-0.9zM135.1 80.6h0.9v0.9h-0.9zM137.4 80.4h0.9v0.9h-0.9zM133.7 80.7h0.9v0.9h-0.9zM132.4 70.9h0.9v0.9h-0.9zM142.0 74.8h0.9v0.9h-0.9zM132.9 68.8h0.9v0.9h-0.9zM133.8 74.0h0.9v0.9h-0.9zM136.7 73.8h0.9v0.9h-0.9zM132.8 70.5h0.9v0.9h-0.9zM140.9 72.0h0.9v0.9h-0.9zM129.4 72.8h0.9v0.9h-0.9zM133.7 65.9h0.9v0.9h-0.9zM135.4 68.5h0.9v0.9h-0.9zM132.5 79.3h0.9v0.9h-0.9zM142.9 67.5h0.9v0.9h-0.9zM134.2 82.4h0.9v0.9h-0.9zM135.4 81.0h0.9v0.9h-0.9zM136.3 82.4h0.9v0.9h-0.9zM142.8 78.7h0.9v0.9h-0.9zM131.8 67.5h0.9v0.9h-0.9zM142.7 69.3h0.9v0.9h-0.9zM144.9 72.3h0.9v0.9h-0.9zM132.7 70.2h0.9v0.9h-0.9zM130.9 68.4h0.9v0.9h-0.9zM142.0 81.3h0.9v0.9h-0.9zM133.5 81.2h0.9v0.9h-0.9zM132.0 79.1h0.9v0.9h-0.9zM129.3 71.3h0.9v0.9h-0.9zM138.9 80.4h0.9v0.9h-0.9zM144.7 79.9h0.9v0.9h-0.9zM143.7 72.4h0.9v0.9h-0.9zM138.4 69.4h0.9v0.9h-0.9zM135.8 69.5h0.9v0.9h-0.9zM145.4 70.2h0.9v0.9h-0.9zM139.7 79.5h0.9v0.9h-0.9zM145.0 65.9h0.9v0.9h-0.9zM140.2 74.0h0.9v0.9h-0.9zM140.4 72.9h0.9v0.9h-0.9zM140.4 81.0h0.9v0.9h-0.9zM130.1 69.6h0.9v0.9h-0.9zM132.4 77.4h0.9v0.9h-0.9zM129.1 70.5h0.9v0.9h-0.9zM144.6 77.3h0.9v0.9h-0.9zM145.7 79.9h0.9v0.9h-0.9zM138.7 80.0h0.9v0.9h-0.9zM130.7 79.9h0.9v0.9h-0.9zM130.1 71.9h0.9v0.9h-0.9zM135.9 71.7h0.9v0.9h-0.9zM134.9 69.4h0.9v0.9h-0.9zM131.4 71.4h0.9v0.9h-0.9zM129.5 68.0h0.9v0.9h-0.9zM139.5 79.3h0.9v0.9h-0.9zM142.1 68.2h0.9v0.9h-0.9zM129.0 69.1h0.9v0.9h-0.9zM133.4 79.4h0.9v0.9h-0.9zM133.3 79.1h0.9v0.9h-0.9zM137.6 82.2h0.9v0.9h-0.9zM138.7 73.3h0.9v0.9h-0.9zM135.2 68.2h0.9v0.9h-0.9zM143.4 79.7h0.9v0.9h-0.9z" fill="#000" fill-opacity="0.85"/>
<path d="M140.9 66.6h0.9v0.9h-0.9zM135.8 62.6h0.9v0.9h-0.9zM138.5 66.3h0.9v0.9h-0.9zM139.8 80.3h0.9v0.9h-0.9zM128.3 76.5h0.9v0.9h-0.9zM142.7 71.0h0.9v0.9h-0.9zM142.1 81.4h0.9v0.9h-0.9zM133.0 77.7h0.9v0.9h-0.9zM137.6 75.2h0.9v0.9h-0.9zM129.2 72.6h0.9v0.9h-0.9zM128.2 74.4h0.9v0.9h-0.9zM130.1 82.2h0.9v0.9h-0.9zM147.3 65.1h0.9v0.9h-0.9zM138.7 75.8h0.9v0.9h-0.9zM137.9 78.3h0.9v0.9h-0.9zM131.6 77.8h0.9v0.9h-0.9zM128.2 77.9h0.9v0.9h-0.9zM131.5 75.4h0.9v0.9h-0.9zM144.8 81.6h0.9v0.9h-0.9zM132.9 70.9h0.9v0.9h-0.9zM128.8 58.2h0.9v0.9h-0.9zM132.8 77.6h0.9v0.9h-0.9zM143.2 78.2h0.9v0.9h-0.9zM133.7 66.9h0.9v0.9h-0.9zM129.1 69.4h0.9v0.9h-0.9zM130.1 74.6h0.9v0.9h-0.9zM129.1 71.7h0.9v0.9h-0.9zM136.2 75.9h0.9v0.9h-0.9zM132.9 77.4h0.9v0.9h-0.9zM131.3 79.0h0.9v0.9h-0.9zM135.3 78.6h0.9v0.9h-0.9zM130.3 73.6h0.9v0.9h-0.9zM128.0 80.4h0.9v0.9h-0.9zM133.3 72.5h0.9v0.9h-0.9zM145.6 80.1h0.9v0.9h-0.9zM141.5 60.4h0.9v0.9h-0.9zM141.0 76.8h0.9v0.9h-0.9zM137.2 82.7h0.9v0.9h-0.9zM128.5 73.2h0.9v0.9h-0.9zM140.0 69.5h0.9v0.9h-0.9zM128.8 64.9h0.9v0.9h-0.9zM137.3 64.7h0.9v0.9h-0.9zM139.7 76.0h0.9v0.9h-0.9zM130.3 67.7h0.9v0.9h-0.9zM129.7 81.8h0.9v0.9h-0.9zM129.3 69.0h0.9v0.9h-0.9zM138.9 82.4h0.9v0.9h-0.9zM137.0 80.0h0.9v0.9h-0.9zM130.8 77.9h0.9v0.9h-0.9zM143.7 72.8h0.9v0.9h-0.9zM131.6 73.3h0.9v0.9h-0.9zM129.5 78.4h0.9v0.9h-0.9zM147.3 76.0h0.9v0.9h-0.9zM132.5 79.6h0.9v0.9h-0.9zM128.3 72.9h0.9v0.9h-0.9zM141.0 72.7h0.9v0.9h-0.9zM128.5 75.9h0.9v0.9h-0.9zM128.2 75.4h0.9v0.9h-0.9zM130.1 74.0h0.9v0.9h-0.9zM143.1 68.9h0.9v0.9h-0.9zM138.5 71.0h0.9v0.9h-0.9zM132.9 66.8h0.9v0.9h-0.9zM130.3 81.8h0.9v0.9h-0.9zM139.3 74.2h0.9v0.9h-0.9zM130.7 64.8h0.9v0.9h-0.9zM143.2 82.1h0.9v0.9h-0.9zM134.1 80.4h0.9v0.9h-0.9zM138.5 69.0h0.9v0.9h-0.9zM132.9 60.7h0.9v0.9h-0.9zM144.1 80.4h0.9v0.9h-0.9zM150.6 73.1h0.9v0.9h-0.9zM132.0 73.0h0.9v0.9h-0.9zM134.6 77.0h0.9v0.9h-0.9zM130.2 73.6h0.9v0.9h-0.9zM133.1 67.3h0.9v0.9h-0.9zM132.0 78.6h0.9v0.9h-0.9zM129.6 82.0h0.9v0.9h-0.9zM133.6 79.3h0.9v0.9h-0.9zM132.1 80.9h0.9v0.9h-0.9zM135.1 76.2h0.9v0.9h-0.9zM138.6 75.9h0.9v0.9h-0.9zM138.0 70.9h0.9v0.9h-0.9zM135.8 78.5h0.9v0.9h-0.9zM137.8 82.7h0.9v0.9h-0.9zM130.6 67.4h0.9v0.9h-0.9zM130.7 75.9h0.9v0.9h-0.9zM144.3 71.1h0.9v0.9h-0.9zM143.5 60.3h0.9v0.9h-0.9zM131.7 79.6h0.9v0.9h-0.9zM133.8 71.6h0.9v0.9h-0.9zM130.2 75.6h0.9v0.9h-0.9zM130.9 59.9h0.9v0.9h-0.9zM135.3 75.3h0.9v0.9h-0.9zM133.8 68.2h0.9v0.9h-0.9zM132.0 75.9h0.9v0.9h-0.9zM142.1 68.5h0.9v0.9h-0.9zM133.9 65.7h0.9v0.9h-0.9zM128.5 74.9h0.9v0.9h-0.9zM138.6 81.8h0.9v0.9h-0.9zM141.8 76.3h0.9v0.9h-0.9zM138.7 79.3h0.9v0.9h-0.9zM147.0 76.5h0.9v0.9h-0.9zM137.9 63.1h0.9v0.9h-0.9zM137.1 75.3h0.9v0.9h-0.9zM129.9 75.8h0.9v0.9h-0.9zM141.0 72.3h0.9v0.9h-0.9zM129.2 69.0h0.9v0.9h-0.9zM139.8 80.9h0.9v0.9h-0.9zM129.7 74.2h0.9v0.9h-0.9zM149.5 77.1h0.9v0.9h-0.9zM142.9 79.6h0.9v0.9h-0.9zM134.4 72.6h0.9v0.9h-0.9zM128.7 78.4h0.9v0.9h-0.9zM128.5 75.7h0.9v0.9h-0.9zM131.3 62.6h0.9v0.9h-0.9zM130.6 71.3h0.9v0.9h-0.9zM139.5 76.2h0.9v0.9h-0.9zM137.7 69.8h0.9v0.9h-0.9zM145.0 71.9h0.9v0.9h-0.9zM140.8 80.0h0.9v0.9h-0.9zM135.6 78.6h0.9v0.9h-0.9zM130.5 75.5h0.9v0.9h-0.9zM141.2 82.6h0.9v0.9h-0.9zM132.4 66.2h0.9v0.9h-0.9zM139.7 79.3h0.9v0.9h-0.9zM128.4 74.4h0.9v0.9h-0.9zM138.9 67.1h0.9v0.9h-0.9zM132.3 80.6h0.9v0.9h-0.9zM134.5 78.8h0.9v0.9h-0.9zM141.2 72.3h0.9v0.9h-0.9zM133.5 78.5h0.9v0.9h-0.9zM130.5 74.8h0.9v0.9h-0.9zM133.1 79.8h0.9v0.9h-0.9zM133.4 73.7h0.9v0.9h-0.9zM142.6 75.2h0.9v0.9h-0.9zM141.5 69.0h0.9v0.9h-0.9zM136.1 78.3h0.9v0.9h-0.9zM143.5 79.7h0.9v0.9h-0.9zM143.8 73.7h0.9v0.9h-0.9zM130.0 82.5h0.9v0.9h-0.9zM131.3 75.9h0.9v0.9h-0.9zM129.5 77.9h0.9v0.9h-0.9zM133.1 72.0h0.9v0.9h-0.9zM130.0 72.8h0.9v0.9h-0.9zM131.0 76.7h0.9v0.9h-0.9zM128.4 77.5h0.9v0.9h-0.9zM139.7 72.2h0.9v0.9h-0.9zM140.6 70.1h0.9v0.9h-0.9zM142.1 81.8h0.9v0.9h-0.9zM132.5 76.4h0.9v0.9h-0.9zM129.2 68.5h0.9v0.9h-0.9zM144.7 80.7h0.9v0.9h-0.9zM135.4 78.6h0.9v0.9h-0.9zM137.5 75.2h0.9v0.9h-0.9zM131.3 82.6h0.9v0.9h-0.9zM137.2 77.6h0.9v0.9h-0.9zM142.2 68.0h0.9v0.9h-0.9zM129.7 76.2h0.9v0.9h-0.9zM139.8 66.1h0.9v0.9h-0.9zM131.9 71.8h0.9v0.9h-0.9zM145.3 75.6h0.9v0.9h-0.9zM132.1 82.0h0.9v0.9h-0.9zM131.4 71.5h0.9v0.9h-0.9zM134.3 76.2h0.9v0.9h-0.9zM136.2 82.5h0.9v0.9h-0.9zM131.7 76.5h0.9v0.9h-0.9zM137.2 82.3h0.9v0.9h-0.9zM128.3 75.5h0.9v0.9h-0.9zM129.4 72.3h0.9v0.9h-0.9zM138.9 76.3h0.9v0.9h-0.9zM137.1 70.4h0.9v0.9h-0.9zM130.4 79.5h0.9v0.9h-0.9zM131.2 78.7h0.9v0.9h-0.9zM129.8 69.5h0.9v0.9h-0.9zM129.9 74.1h0.9v0.9h-0.9zM144.9 79.0h0.9v0.9h-0.9zM128.9 71.5h0.9v0.9h-0.9zM132.0 80.6h0.9v0.9h-0.9zM140.6 77.8h0.9v0.9h-0.9zM138.6 65.9h0.9v0.9h-0.9zM132.4 80.6h0.9v0.9h-0.9zM137.8 73.3h0.9v0.9h-0.9zM131.8 79.4h0.9v0.9h-0.9zM147.1 78.2h0.9v0.9h-0.9zM130.9 76.8h0.9v0.9h-0.9zM139.7 70.1h0.9v0.9h-0.9zM135.5 82.7h0.9v0.9h-0.9zM136.0 77.3h0.9v0.9h-0.9zM147.4 74.7h0.9v0.9h-0.9zM130.2 74.2h0.9v0.9h-0.9zM135.5 80.7h0.9v0.9h-0.9zM132.4 81.4h0.9v0.9h-0.9zM138.6 80.1h0.9v0.9h-0.9zM132.8 81.1h0.9v0.9h-0.9zM144.4 81.0h0.9v0.9h-0.9zM129.4 73.2h0.9v0.9h-0.9zM138.4 75.8h0.9v0.9h-0.9zM137.0 78.7h0.9v0.9h-0.9zM131.9 72.0h0.9v0.9h-0.9zM141.8 74.0h0.9v0.9h-0.9zM141.6 72.3h0.9v0.9h-0.9zM141.0 75.6h0.9v0.9h-0.9zM146.8 82.1h0.9v0.9h-0.9zM142.2 78.3h0.9v0.9h-0.9zM137.3 74.9h0.9v0.9h-0.9zM138.9 65.4h0.9v0.9h-0.9zM131.6 72.0h0.9v0.9h-0.9zM128.9 77.2h0.9v0.9h-0.9zM136.1 81.1h0.9v0.9h-0.9zM129.9 80.4h0.9v0.9h-0.9zM131.1 71.8h0.9v0.9h-0.9zM130.5 75.0h0.9v0.9h-0.9zM140.5 72.4h0.9v0.9h-0.9zM135.3 79.7h0.9v0.9h-0.9zM146.3 80.9h0.9v0.9h-0.9zM130.6 68.5h0.9v0.9h-0.9zM135.5 74.6h0.9v0.9h-0.9zM135.5 81.7h0.9v0.9h-0.9zM133.4 81.5h0.9v0.9h-0.9zM147.9 79.8h0.9v0.9h-0.9zM131.0 65.2h0.9v0.9h-0.9zM141.3 82.8h0.9v0.9h-0.9zM135.8 78.9h0.9v0.9h-0.9zM136.9 65.9h0.9v0.9h-0.9zM136.2 77.5h0.9v0.9h-0.9zM132.4 77.3h0.9v0.9h-0.9zM131.1 68.8h0.9v0.9h-0.9zM149.0 72.4h0.9v0.9h-0.9zM128.1 80.4h0.9v0.9h-0.9zM139.5 78.4h0.9v0.9h-0.9zM138.7 81.5h0.9v0.9h-0.9zM136.7 81.2h0.9v0.9h-0.9zM130.0 74.7h0.9v0.9h-0.9zM128.6 74.8h0.9v0.9h-0.9zM138.8 78.8h0.9v0.9h-0.9zM130.4 81.9h0.9v0.9h-0.9zM130.0 66.9h0.9v0.9h-0.9zM132.0 75.0h0.9v0.9h-0.9zM128.5 77.7h0.9v0.9h-0.9zM131.7 72.4h0.9v0.9h-0.9zM136.8 69.5h0.9v0.9h-0.9zM136.8 70.3h0.9v0.9h-0.9zM132.9 75.5h0.9v0.9h-0.9zM145.8 68.9h0.9v0.9h-0.9zM135.7 81.1h0.9v0.9h-0.9zM131.5 75.9h0.9v0.9h-0.9zM132.2 78.7h0.9v0.9h-0.9zM133.3 66.1h0.9v0.9h-0.9zM133.2 81.4h0.9v0.9h-0.9zM139.0 82.6h0.9v0.9h-0.9zM147.0 74.9h0.9v0.9h-0.9zM143.1 73.7h0.9v0.9h-0.9zM130.0 79.6h0.9v0.9h-0.9zM142.4 77.4h0.9v0.9h-0.9zM142.2 77.5h0.9v0.9h-0.9zM139.1 68.0h0.9v0.9h-0.9zM137.1 62.1h0.9v0.9h-0.9zM130.0 75.5h0.9v0.9h-0.9zM138.8 78.9h0.9v0.9h-0.9zM129.3 77.1h0.9v0.9h-0.9zM141.1 75.1h0.9v0.9h-0.9zM128.4 78.7h0.9v0.9h-0.9zM139.9 80.2h0.9v0.9h-0.9zM130.7 64.9h0.9v0.9h-0.9zM130.1 77.5h0.9v0.9h-0.9zM144.7 71.2h0.9v0.9h-0.9zM136.7 80.1h0.9v0.9h-0.9zM138.6 76.8h0.9v0.9h-0.9zM130.5 77.8h0.9v0.9h-0.9zM130.7 64.1h0.9v0.9h-0.9zM128.8 78.8h0.9v0.9h-0.9zM129.8 79.9h0.9v0.9h-0.9zM127.9 76.8h0.9v0.9h-0.9zM135.6 78.9h0.9v0.9h-0.9zM133.3 80.2h0.9v0.9h-0.9zM133.1 76.7h0.9v0.9h-0.9zM128.5 79.6h0.9v0.9h-0.9zM139.6 80.5h0.9v0.9h-0.9zM134.8 59.3h0.9v0.9h-0.9zM134.7 81.1h0.9v0.9h-0.9zM128.0 76.7h0.9v0.9h-0.9zM130.3 74.3h0.9v0.9h-0.9zM129.3 79.1h0.9v0.9h-0.9zM134.3 77.7h0.9v0.9h-0.9zM128.5 77.7h0.9v0.9h-0.9zM141.8 72.2h0.9v0.9h-0.9zM128.0 67.3h0.9v0.9h-0.9zM144.8 75.3h0.9v0.9h-0.9zM137.4 74.0h0.9v0.9h-0.9zM140.2 80.0h0.9v0.9h-0.9zM134.9 74.6h0.9v0.9h-0.9zM140.2 81.7h0.9v0.9h-0.9zM131.2 78.0h0.9v0.9h-0.9zM132.7 80.5h0.9v0.9h-0.9zM140.5 76.6h0.9v0.9h-0.9zM144.1 74.4h0.9v0.9h-0.9zM133.1 79.9h0.9v0.9h-0.9zM132.3 80.1h0.9v0.9h-0.9zM136.3 82.4h0.9v0.9h-0.9zM147.4 61.9h0.9v0.9h-0.9zM131.0 80.3h0.9v0.9h-0.9zM131.1 69.3h0.9v0.9h-0.9zM128.9 69.3h0.9v0.9h-0.9zM129.3 67.6h0.9v0.9h-0.9zM131.3 66.4h0.9v0.9h-0.9zM137.1 75.0h0.9v0.9h-0.9zM149.0 77.8h0.9v0.9h-0.9zM147.2 73.5h0.9v0.9h-0.9zM130.8 80.6h0.9v0.9h-0.9zM132.7 76.9h0.9v0.9h-0.9zM129.6 73.7h0.9v0.9h-0.9zM137.8 76.8h0.9v0.9h-0.9zM129.8 78.4h0.9v0.9h-0.9zM132.6 65.5h0.9v0.9h-0.9zM139.1 82.4h0.9v0.9h-0.9zM128.3 60.7h0.9v0.9h-0.9zM133.6 69.9h0.9v0.9h-0.9zM135.2 82.4h0.9v0.9h-0.9zM139.0 73.2h0.9v0.9h-0.9zM132.6 81.3h0.9v0.9h-0.9zM134.3 77.3h0.9v0.9h-0.9zM132.4 82.0h0.9v0.9h-0.9zM128.7 73.4h0.9v0.9h-0.9zM130.4 73.7h0.9v0.9h-0.9zM138.2 80.4h0.9v0.9h-0.9zM136.0 82.7h0.9v0.9h-0.9zM136.9 81.8h0.9v0.9h-0.9zM129.7 81.7h0.9v0.9h-0.9zM135.7 77.3h0.9v0.9h-0.9zM139.2 82.7h0.9v0.9h-0.9zM133.2 78.0h0.9v0.9h-0.9zM128.7 69.7h0.9v0.9h-0.9zM144.9 75.1h0.9v0.9h-0.9zM137.0 81.1h0.9v0.9h-0.9zM135.0 68.7h0.9v0.9h-0.9zM144.3 69.6h0.9v0.9h-0.9zM146.6 79.4h0.9v0.9h-0.9zM136.4 80.5h0.9v0.9h-0.9zM145.6 77.0h0.9v0.9h-0.9zM129.6 70.7h0.9v0.9h-0.9zM131.4 76.8h0.9v0.9h-0.9zM134.8 81.7h0.9v0.9h-0.9zM136.0 63.1h0.9v0.9h-0.9zM144.4 71.6h0.9v0.9h-0.9zM144.2 81.2h0.9v0.9h-0.9zM141.8 76.2h0.9v0.9h-0.9zM129.5 72.5h0.9v0.9h-0.9zM136.1 76.6h0.9v0.9h-0.9zM142.4 78.3h0.9v0.9h-0.9zM144.9 63.8h0.9v0.9h-0.9zM135.8 63.4h0.9v0.9h-0.9zM130.1 80.4h0.9v0.9h-0.9zM133.5 80.4h0.9v0.9h-0.9zM138.1 77.9h0.9v0.9h-0.9zM131.2 60.0h0.9v0.9h-0.9zM150.7 82.7h0.9v0.9h-0.9zM133.2 69.5h0.9v0.9h-0.9zM129.4 76.5h0.9v0.9h-0.9zM136.5 81.7h0.9v0.9h-0.9zM131.5 80.3h0.9v0.9h-0.9zM131.3 76.6h0.9v0.9h-0.9zM133.1 77.5h0.9v0.9h-0.9zM135.0 74.7h0.9v0.9h-0.9zM140.1 70.6h0.9v0.9h-0.9zM134.1 79.0h0.9v0.9h-0.9zM144.5 69.8h0.9v0.9h-0.9zM131.5 76.5h0.9v0.9h-0.9z" fill="#000" fill-opacity="0.8"/>
<path d="M143.5 64.4h0.9v0.9h-0.9zM134.1 63.9h0.9v0.9h-0.9zM136.3 63.2h0.9v0.9h-0.9zM139.4 65.6h0.9v0.9h-0.9zM137.4 64.2h0.9v0.9h-0.9zM131.7 64.1h0.9v0.9h-0.9zM144.7 65.2h0.9v0.9h-0.9zM141.3 63.2h0.9v0.9h-0.9zM134.1 63.8h0.9v0.9h-0.9zM132.3 62.2h0.9v0.9h-0.9zM143.6 62.6h0.9v0.9h-0.9zM147.8 61.9h0.9v0.9h-0.9zM141.1 62.2h0.9v0.9h-0.9zM139.8 62.4h0.9v0.9h-0.9zM139.1 63.8h0.9v0.9h-0.9zM136.7 64.7h0.9v0.9h-0.9zM146.4 63.1h0.9v0.9h-0.9zM143.3 64.1h0.9v0.9h-0.9zM138.8 67.2h0.9v0.9h-0.9zM128.2 63.0h0.9v0.9h-0.9zM130.0 63.5h0.9v0.9h-0.9zM137.8 69.6h0.9v0.9h-0.9zM140.7 66.7h0.9v0.9h-0.9zM145.4 63.3h0.9v0.9h-0.9zM141.3 66.5h0.9v0.9h-0.9zM139.8 64.3h0.9v0.9h-0.9zM141.4 61.7h0.9v0.9h-0.9zM134.9 64.5h0.9v0.9h-0.9zM141.6 62.6h0.9v0.9h-0.9zM137.3 63.8h0.9v0.9h-0.9zM138.2 65.0h0.9v0.9h-0.9zM139.5 64.2h0.9v0.9h-0.9zM131.9 62.4h0.9v0.9h-0.9zM140.5 61.6h0.9v0.9h-0.9zM140.3 63.0h0.9v0.9h-0.9zM134.9 64.9h0.9v0.9h-0.9zM135.6 62.7h0.9v0.9h-0.9zM135.6 64.1h0.9v0.9h-0.9zM152.5 60.8h0.9v0.9h-0.9zM138.8 63.6h0.9v0.9h-0.9z" fill="#000" fill-opacity="0.6"/>
<path d="M180.3 39.4h0.9v0.9h-0.9zM173.2 43.7h0.9v0.9h-0.9zM176.1 41.1h0.9v0.9h-0.9zM175.5 40.0h0.9v0.9h-0.9zM177.3 41.9h0.9v0.9h-0.9zM180.1 39.2h0.9v0.9h-0.9zM179.4 39.7h0.9v0.9h-0.9zM178.6 40.6h0.9v0.9h-0.9zM179.6 39.3h0.9v0.9h-0.9zM178.1 40.8h0.9v0.9h-0.9zM178.5 39.4h0.9v0.9h-0.9zM181.9 38.8h0.9v0.9h-0.9zM179.9 40.3h0.9v0.9h-0.9zM180.9 37.0h0.9v0.9h-0.9zM182.6 38.9h0.9v0.9h-0.9zM175.8 41.4h0.9v0.9h-0.9zM183.1 39.7h0.9v0.9h-0.9zM175.8 40.7h0.9v0.9h-0.9zM181.1 37.9h0.9v0.9h-0.9zM178.0 40.2h0.9v0.9h-0.9zM182.9 38.8h0.9v0.9h-0.9zM181.1 38.8h0.9v0.9h-0.9zM176.7 42.2h0.9v0.9h-0.9zM179.6 37.9h0.9v0.9h-0.9zM179.7 40.9h0.9v0.9h-0.9zM177.1 41.1h0.9v0.9h-0.9zM178.9 39.7h0.9v0.9h-0.9zM177.1 40.0h0.9v0.9h-0.9zM177.8 39.0h0.9v0.9h-0.9zM178.2 38.7h0.9v0.9h-0.9zM178.5 40.3h0.9v0.9h-0.9zM176.2 42.2h0.9v0.9h-0.9zM182.4 40.9h0.9v0.9h-0.9zM175.5 42.9h0.9v0.9h-0.9zM178.8 40.3h0.9v0.9h-0.9zM177.1 40.8h0.9v0.9h-0.9zM181.2 40.3h0.9v0.9h-0.9zM177.5 39.9h0.9v0.9h-0.9zM177.5 41.5h0.9v0.9h-0.9zM182.2 38.0h0.9v0.9h-0.9zM178.3 40.0h0.9v0.9h-0.9zM176.8 41.4h0.9v0.9h-0.9zM179.5 38.4h0.9v0.9h-0.9zM176.2 42.6h0.9v0.9h-0.9zM179.0 40.9h0.9v0.9h-0.9zM177.3 40.3h0.9v0.9h-0.9zM179.3 39.6h0.9v0.9h-0.9zM176.0 41.2h0.9v0.9h-0.9zM180.2 38.6h0.9v0.9h-0.9zM180.5 40.7h0.9v0.9h-0.9zM176.5 41.0h0.9v0.9h-0.9zM178.2 41.3h0.9v0.9h-0.9zM179.7 38.4h0.9v0.9h-0.9zM175.5 42.6h0.9v0.9h-0.9zM178.6 40.9h0.9v0.9h-0.9zM179.0 42.2h0.9v0.9h-0.9zM175.8 42.6h0.9v0.9h-0.9zM176.6 41.9h0.9v0.9h-0.9zM181.1 37.9h0.9v0.9h-0.9zM179.2 39.9h0.9v0.9h-0.9zM177.7 40.7h0.9v0.9h-0.9zM176.1 39.9h0.9v0.9h-0.9zM179.7 41.1h0.9v0.9h-0.9zM177.1 39.0h0.9v0.9h-0.9zM183.1 40.4h0.9v0.9h-0.9zM179.1 39.0h0.9v0.9h-0.9zM177.1 41.1h0.9v0.9h-0.9zM176.3 43.1h0.9v0.9h-0.9zM178.6 40.9h0.9v0.9h-0.9zM176.2 40.0h0.9v0.9h-0.9zM176.7 41.3h0.9v0.9h-0.9zM177.8 40.3h0.9v0.9h-0.9zM179.0 40.6h0.9v0.9h-0.9zM181.4 39.3h0.9v0.9h-0.9zM176.2 41.1h0.9v0.9h-0.9zM181.4 38.9h0.9v0.9h-0.9zM178.4 40.0h0.9v0.9h-0.9zM179.2 40.5h0.9v0.9h-0.9zM176.7 40.7h0.9v0.9h-0.9zM180.3 41.2h0.9v0.9h-0.9zM180.2 41.0h0.9v0.9h-0.9zM177.6 40.2h0.9v0.9h-0.9zM180.2 38.5h0.9v0.9h-0.9zM178.2 38.2h0.9v0.9h-0.9zM177.5 39.8h0.9v0.9h-0.9zM175.8 41.9h0.9v0.9h-0.9zM176.8 40.5h0.9v0.9h-0.9zM177.8 39.7h0.9v0.9h-0.9zM181.3 39.0h0.9v0.9h-0.9zM178.7 38.8h0.9v0.9h-0.9zM177.4 40.4h0.9v0.9h-0.9zM177.7 40.0h0.9v0.9h-0.9zM178.6 42.3h0.9v0.9h-0.9zM178.1 40.4h0.9v0.9h-0.9zM177.5 43.8h0.9v0.9h-0.9zM181.7 40.2h0.9v0.9h-0.9zM179.8 39.2h0.9v0.9h-0.9zM178.0 40.8h0.9v0.9h-0.9zM178.6 39.4h0.9v0.9h-0.9zM176.7 41.6h0.9v0.9h-0.9zM179.0 37.7h0.9v0.9h-0.9zM178.5 42.0h0.9v0.9h-0.9zM177.0 41.2h0.9v0.9h-0.9zM175.3 42.4h0.9v0.9h-0.9zM176.0 39.6h0.9v0.9h-0.9zM177.7 43.6h0.9v0.9h-0.9zM177.1 39.3h0.9v0.9h-0.9zM179.3 40.5h0.9v0.9h-0.9zM181.8 37.9h0.9v0.9h-0.9zM175.1 41.1h0.9v0.9h-0.9zM179.1 40.7h0.9v0.9h-0.9zM180.6 38.0h0.9v0.9h-0.9zM176.6 40.8h0.9v0.9h-0.9zM180.1 40.5h0.9v0.9h-0.9zM177.5 39.5h0.9v0.9h-0.9zM180.2 41.1h0.9v0.9h-0.9zM183.9 38.6h0.9v0.9h-0.9zM181.7 38.0h0.9v0.9h-0.9zM177.2 40.0h0.9v0.9h-0.9zM177.4 39.7h0.9v0.9h-0.9zM177.2 40.8h0.9v0.9h-0.9zM177.4 41.6h0.9v0.9h-0.9zM178.2 40.5h0.9v0.9h-0.9zM181.4 40.0h0.9v0.9h-0.9zM178.7 40.4h0.9v0.9h-0.9zM178.5 41.1h0.9v0.9h-0.9zM176.7 42.4h0.9v0.9h-0.9zM181.6 40.9h0.9v0.9h-0.9zM177.3 38.8h0.9v0.9h-0.9zM177.4 40.9h0.9v0.9h-0.9zM180.0 39.7h0.9v0.9h-0.9zM177.7 42.5h0.9v0.9h-0.9zM177.0 42.2h0.9v0.9h-0.9zM180.2 38.3h0.9v0.9h-0.9zM178.9 39.6h0.9v0.9h-0.9zM176.4 38.8h0.9v0.9h-0.9zM175.1 42.0h0.9v0.9h-0.9zM177.5 41.1h0.9v0.9h-0.9zM176.2 40.7h0.9v0.9h-0.9zM177.8 38.8h0.9v0.9h-0.9zM174.9 42.0h0.9v0.9h-0.9zM178.6 39.2h0.9v0.9h-0.9zM178.1 41.4h0.9v0.9h-0.9zM182.1 38.3h0.9v0.9h-0.9zM179.6 42.7h0.9v0.9h-0.9zM178.5 42.2h0.9v0.9h-0.9zM173.0 43.9h0.9v0.9h-0.9zM178.3 38.2h0.9v0.9h-0.9zM179.9 41.3h0.9v0.9h-0.9zM180.8 41.2h0.9v0.9h-0.9zM178.3 39.6h0.9v0.9h-0.9zM177.4 40.7h0.9v0.9h-0.9zM179.2 39.6h0.9v0.9h-0.9zM178.4 41.5h0.9v0.9h-0.9zM179.0 43.1h0.9v0.9h-0.9zM182.8 37.7h0.9v0.9h-0.9zM177.2 39.2h0.9v0.9h-0.9zM175.9 41.9h0.9v0.9h-0.9zM176.3 39.8h0.9v0.9h-0.9zM177.8 41.6h0.9v0.9h-0.9zM177.6 40.3h0.9v0.9h-0.9zM180.2 40.5h0.9v0.9h-0.9zM179.3 41.4h0.9v0.9h-0.9zM176.3 41.4h0.9v0.9h-0.9zM177.0 42.1h0.9v0.9h-0.9zM180.0 38.7h0.9v0.9h-0.9zM181.1 38.2h0.9v0.9h-0.9zM180.8 40.0h0.9v0.9h-0.9zM176.5 39.6h0.9v0.9h-0.9zM177.7 40.6h0.9v0.9h-0.9zM176.9 41.6h0.9v0.9h-0.9zM175.4 41.3h0.9v0.9h-0.9zM178.3 38.2h0.9v0.9h-0.9zM179.0 38.7h0.9v0.9h-0.9zM173.2 41.3h0.9v0.9h-0.9zM177.9 41.7h0.9v0.9h-0.9zM177.3 42.6h0.9v0.9h-0.9zM181.3 40.9h0.9v0.9h-0.9zM181.1 40.1h0.9v0.9h-0.9zM177.2 41.6h0.9v0.9h-0.9zM180.3 40.2h0.9v0.9h-0.9zM177.8 38.7h0.9v0.9h-0.9zM179.7 40.5h0.9v0.9h-0.9zM175.6 41.4h0.9v0.9h-0.9zM179.8 39.9h0.9v0.9h-0.9zM180.0 40.9h0.9v0.9h-0.9zM175.3 41.0h0.9v0.9h-0.9zM179.3 41.3h0.9v0.9h-0.9zM181.3 37.2h0.9v0.9h-0.9zM178.2 41.4h0.9v0.9h-0.9zM180.9 41.8h0.9v0.9h-0.9zM176.4 40.6h0.9v0.9h-0.9zM176.2 42.1h0.9v0.9h-0.9zM175.6 42.8h0.9v0.9h-0.9zM180.3 40.5h0.9v0.9h-0.9zM173.8 41.0h0.9v0.9h-0.9zM179.9 38.3h0.9v0.9h-0.9zM177.8 40.5h0.9v0.9h-0.9zM180.2 40.3h0.9v0.9h-0.9zM178.9 39.8h0.9v0.9h-0.9zM178.3 40.3h0.9v0.9h-0.9zM179.8 39.8h0.9v0.9h-0.9zM180.5 37.7h0.9v0.9h-0.9zM180.8 39.5h0.9v0.9h-0.9zM180.7 39.9h0.9v0.9h-0.9zM180.1 41.8h0.9v0.9h-0.9zM177.2 40.9h0.9v0.9h-0.9zM178.0 40.8h0.9v0.9h-0.9zM175.0 41.3h0.9v0.9h-0.9zM177.8 39.7h0.9v0.9h-0.9zM177.9 38.7h0.9v0.9h-0.9zM181.2 40.2h0.9v0.9h-0.9zM182.2 38.2h0.9v0.9h-0.9zM175.9 41.6h0.9v0.9h-0.9zM174.9 41.8h0.9v0.9h-0.9zM176.9 40.5h0.9v0.9h-0.9zM178.9 40.4h0.9v0.9h-0.9zM182.2 40.1h0.9v0.9h-0.9zM175.6 42.5h0.9v0.9h-0.9zM175.5 41.4h0.9v0.9h-0.9zM175.7 40.2h0.9v0.9h-0.9zM181.1 39.0h0.9v0.9h-0.9zM177.0 40.2h0.9v0.9h-0.9zM177.7 42.5h0.9v0.9h-0.9zM175.9 39.7h0.9v0.9h-0.9zM179.5 38.1h0.9v0.9h-0.9zM177.6 42.1h0.9v0.9h-0.9zM178.3 39.9h0.9v0.9h-0.9zM176.8 39.8h0.9v0.9h-0.9zM177.1 41.0h0.9v0.9h-0.9z" fill="#000" fill-opacity="0.9"/>
<path d="M182.3 44.2h0.9v0.9h-0.9zM175.1 39.2h0.9v0.9h-0.9zM180.1 36.0h0.9v0.9h-0.9zM175.6 40.4h0.9v0.9h-0.9zM172.9 38.4h0.9v0.9h-0.9zM178.7 36.5h0.9v0.9h-0.9zM173.7 39.4h0.9v0.9h-0.9zM177.6 37.3h0.9v0.9h-0.9zM181.6 40.4h0.9v0.9h-0.9zM176.3 40.3h0.9v0.9h-0.9zM174.6 38.4h0.9v0.9h-0.9zM181.8 41.9h0.9v0.9h-0.9zM176.8 44.3h0.9v0.9h-0.9zM174.4 43.2h0.9v0.9h-0.9zM177.3 38.7h0.9v0.9h-0.9zM180.2 36.9h0.9v0.9h-0.9zM179.8 38.7h0.9v0.9h-0.9zM178.8 45.4h0.9v0.9h-0.9zM179.5 39.5h0.9v0.9h-0.9zM177.1 40.2h0.9v0.9h-0.9zM172.6 38.0h0.9v0.9h-0.9zM177.4 42.9h0.9v0.9h-0.9zM170.2 41.1h0.9v0.9h-0.9zM179.2 41.6h0.9v0.9h-0.9zM173.2 44.3h0.9v0.9h-0.9zM172.4 43.2h0.9v0.9h-0.9zM183.5 35.2h0.9v0.9h-0.9zM178.2 42.2h0.9v0.9h-0.9zM178.1 39.0h0.9v0.9h-0.9zM175.9 37.1h0.9v0.9h-0.9zM177.7 42.8h0.9v0.9h-0.9zM174.5 38.5h0.9v0.9h-0.9zM175.3 41.2h0.9v0.9h-0.9zM177.4 40.9h0.9v0.9h-0.9zM177.4 37.4h0.9v0.9h-0.9zM166.4 43.0h0.9v0.9h-0.9zM182.7 37.0h0.9v0.9h-0.9zM174.5 42.1h0.9v0.9h-0.9zM180.9 43.1h0.9v0.9h-0.9zM182.1 41.1h0.9v0.9h-0.9z" fill="#000" fill-opacity="0.5"/>
<path d="M175.4 43.2h0.9v0.9h-0.9zM174.3 44.1h0.9v0.9h-0.9zM175.7 43.6h0.9v0.9h-0.9zM174.4 43.9h0.9v0.9h-0.9zM173.5 43.6h0.9v0.9h-0.9zM171.5 42.8h0.9v0.9h-0.9zM175.8 42.4h0.9v0.9h-0.9zM175.1 41.5h0.9v0.9h-0.9zM176.8 43.0h0.9v0.9h-0.9zM174.8 43.3h0.9v0.9h-0.9zM175.3 44.0h0.9v0.9h-0.9zM175.1 41.6h0.9v0.9h-0.9zM174.5 44.1h0.9v0.9h-0.9zM175.6 42.4h0.9v0.9h-0.9zM175.6 42.9h0.9v0.9h-0.9zM175.6 41.4h0.9v0.9h-0.9zM173.7 43.7h0.9v0.9h-0.9zM174.6 43.3h0.9v0.9h-0.9zM177.4 42.2h0.9v0.9h-0.9zM175.2 42.4h0.9v0.9h-0.9zM174.1 43.0h0.9v0.9h-0.9zM173.0 41.6h0.9v0.9h-0.9zM176.6 42.5h0.9v0.9h-0.9zM176.3 42.7h0.9v0.9h-0.9zM175.1 43.5h0.9v0.9h-0.9zM175.8 41.7h0.9v0.9h-0.9zM176.4 41.8h0.9v0.9h-0.9zM175.1 45.0h0.9v0.9h-0.9zM175.0 44.3h0.9v0.9h-0.9zM174.4 43.5h0.9v0.9h-0.9zM174.9 43.3h0.9v0.9h-0.9zM173.8 42.4h0.9v0.9h-0.9zM175.3 41.5h0.9v0.9h-0.9zM173.8 43.7h0.9v0.9h-0.9zM174.1 42.4h0.9v0.9h-0.9zM173.5 43.4h0.9v0.9h-0.9zM174.4 43.2h0.9v0.9h-0.9zM174.6 44.5h0.9v0.9h-0.9zM174.3 41.4h0.9v0.9h-0.9zM175.0 42.9h0.9v0.9h-0.9zM175.1 41.6h0.9v0.9h-0.9zM176.3 42.6h0.9v0.9h-0.9zM174.8 41.6h0.9v0.9h-0.9zM175.5 42.8h0.9v0.9h-0.9zM176.6 42.2h0.9v0.9h-0.9zM173.3 43.4h0.9v0.9h-0.9zM173.7 43.5h0.9v0.9h-0.9zM173.5 43.1h0.9v0.9h-0.9zM174.6 43.0h0.9v0.9h-0.9zM174.2 42.4h0.9v0.9h-0.9zM174.8 42.5h0.9v0.9h-0.9zM175.1 42.7h0.9v0.9h-0.9zM172.0 43.5h0.9v0.9h-0.9zM176.6 42.8h0.9v0.9h-0.9zM175.6 43.2h0.9v0.9h-0.9zM174.3 42.0h0.9v0.9h-0.9zM175.9 43.6h0.9v0.9h-0.9zM175.6 43.1h0.9v0.9h-0.9zM175.4 42.8h0.9v0.9h-0.9zM175.2 42.9h0.9v0.9h-0.9zM175.3 42.1h0.9v0.9h-0.9zM174.1 43.6h0.9v0.9h-0.9zM174.4 41.0h0.9v0.9h-0.9zM175.0 41.0h0.9v0.9h-0.9zM177.3 43.0h0.9v0.9h-0.9zM175.7 42.2h0.9v0.9h-0.9zM173.5 43.1h0.9v0.9h-0.9zM174.9 42.3h0.9v0.9h-0.9zM175.1 43.5h0.9v0.9h-0.9zM175.6 41.9h0.9v0.9h-0.9z" fill="#000" fill-opacity="0.9"/>
<path d="M144.0 60.1h0.9v0.9h-0.9zM192.7 77.3h0.9v0.9h-0.9zM164.0 69.6h0.9v0.9h-0.9zM192.7 54.3h0.9v0.9h-0.9zM163.8 65.9h0.9v0.9h-0.9zM157.3 46.5h0.9v0.9h-0.9zM142.3 53.8h0.9v0.9h-0.9zM145.0 65.2h0.9v0.9h-0.9zM151.1 74.7h0.9v0.9h-0.9zM183.6 36.0h0.9v0.9h-0.9zM180.9 48.0h0.9v0.9h-0.9zM187.0 61.1h0.9v0.9h-0.9zM157.3 63.4h0.9v0.9h-0.9zM146.6 58.5h0.9v0.9h-0.9zM166.4 51.7h0.9v0.9h-0.9zM166.4 39.6h0.9v0.9h-0.9zM170.1 36.6h0.9v0.9h-0.9zM171.4 60.7h0.9v0.9h-0.9zM173.3 46.0h0.9v0.9h-0.9zM161.7 43.2h0.9v0.9h-0.9zM188.5 47.3h0.9v0.9h-0.9zM179.4 40.6h0.9v0.9h-0.9zM165.1 48.8h0.9v0.9h-0.9z" fill="#000" fill-opacity="0.45"/>
<text x="215.3" y="13.8" font-size="16.8" text-anchor="start" font-weight="bold" >B</text>
<text x="230.7" y="9.3" font-size="9.2" text-anchor="start" font-weight="normal" >Tumor&#160; H-Y Ags</text>
<text x="266.1" y="20.0" font-size="7.2" text-anchor="middle" font-weight="normal" >Dby</text>
<text x="322.8" y="20.0" font-size="7.2" text-anchor="middle" font-weight="normal" >Uty</text>
<line x1="241.8" y1="23.7" x2="296.1" y2="23.7" stroke="#3a3a3a" stroke-width="1.0" />
<line x1="299.3" y1="23.7" x2="352.7" y2="23.7" stroke="#3a3a3a" stroke-width="1.0" />
<defs><filter id="bl" x="-50%" y="-50%" width="200%" height="200%"><feGaussianBlur stdDeviation="0.7"/></filter><filter id="bl2" x="-50%" y="-50%" width="200%" height="200%"><feGaussianBlur stdDeviation="1.5"/></filter><filter id="bl3" x="-50%" y="-50%" width="200%" height="200%"><feGaussianBlur stdDeviation="0.9"/></filter></defs>
<rect x="228.3" y="27.2" width="124.4" height="53.2" fill="#141414"/>
<rect x="296.5" y="27.2" width="56.2" height="53.2" fill="#1b1b1b"/>
<g filter="url(#bl3)"><path d="M232.9 28.2 Q233.2 34.6 236.4 35.3 Q238.6 34 238.4 29" fill="none" stroke="#f4f4f4" stroke-width="2.2"/><path d="M232.9 40.2 Q233.2 46.6 236.4 47.3 Q238.6 46 238.4 41" fill="none" stroke="#f4f4f4" stroke-width="2.2"/><ellipse cx="236.3" cy="34" rx="1.6" ry="1.5" fill="#fff"/><ellipse cx="236.3" cy="46" rx="1.6" ry="1.5" fill="#fff"/></g>
<g filter="url(#bl)"><rect x="230.4" y="62.6" width="10.4" height="7.6" rx="4" ry="3.6" fill="#fff"/><ellipse cx="256.7" cy="59.8" rx="4.1" ry="2.5" fill="#fff"/><ellipse cx="269.6" cy="59.8" rx="4.1" ry="2.5" fill="#fff"/><ellipse cx="314" cy="52.7" rx="3.3" ry="1.8" fill="#fff"/><ellipse cx="327.8" cy="52.9" rx="3.4" ry="1.8" fill="#fff"/></g>
<g filter="url(#bl2)" fill="#fff"><ellipse cx="256.7" cy="59.8" rx="5" ry="3.2" fill-opacity="0.35"/><ellipse cx="269.6" cy="59.8" rx="5" ry="3.2" fill-opacity="0.35"/><ellipse cx="314" cy="52.7" rx="4.3" ry="2.6" fill-opacity="0.3"/><ellipse cx="327.8" cy="52.9" rx="4.3" ry="2.6" fill-opacity="0.3"/><ellipse cx="235.5" cy="66.4" rx="6.5" ry="4.8" fill-opacity="0.3"/><ellipse cx="268.3" cy="70" rx="2.4" ry="1.2" fill-opacity="0.3"/><ellipse cx="301.3" cy="52.6" rx="2" ry="1.3" fill-opacity="0.22"/><ellipse cx="336" cy="46" rx="4" ry="4" fill-opacity="0.03"/></g>
<text transform="translate(237.9,86.7) rotate(-45)" font-size="7" text-anchor="end">ladder</text>
<text transform="translate(249.4,86.7) rotate(-45)" font-size="7" text-anchor="end">Spl</text>
<text transform="translate(261.79999999999995,86.7) rotate(-45)" font-size="7" text-anchor="end">Spl</text>
<text transform="translate(274.9,86.7) rotate(-45)" font-size="7" text-anchor="end">MB49</text>
<text transform="translate(286.4,86.7) rotate(-45)" font-size="7" text-anchor="end">Spls</text>
<text transform="translate(295.5,89.4) rotate(-45)" font-size="7" text-anchor="end">RT-</text>
<text transform="translate(310.2,86.7) rotate(-45)" font-size="7" text-anchor="end">Spl</text>
<text transform="translate(321.0,86.7) rotate(-45)" font-size="7" text-anchor="end">Spl</text>
<text transform="translate(333.29999999999995,86.7) rotate(-45)" font-size="7" text-anchor="end">MB49</text>
<text transform="translate(344.9,86.7) rotate(-45)" font-size="7" text-anchor="end">Spls</text>
<text transform="translate(354.3,89.4) rotate(-45)" font-size="7" text-anchor="end">RT-</text>
<g fill="none" stroke="#000" stroke-width="1.0"><circle cx="239.2" cy="95.6" r="2.35"/><path d="M239.2 97.94999999999999 V101.24999999999999 M237.89999999999998 99.54999999999998 H240.5"/></g>
<g fill="none" stroke="#000" stroke-width="1.0"><circle cx="248.0" cy="96.8" r="2.35"/><path d="M249.46 95.34 L252.26 92.54"/></g>
<path d="M253.26 91.54 l-2.9 0.5 l2.4 2.4 z" fill="#000"/>
<g fill="none" stroke="#000" stroke-width="1.0"><circle cx="298.5" cy="95.7" r="2.35"/><path d="M298.5 98.05 V101.35 M297.2 99.64999999999999 H299.8"/></g>
<g fill="none" stroke="#000" stroke-width="1.0"><circle cx="307.3" cy="96.5" r="2.35"/><path d="M308.76 95.04 L311.56 92.24"/></g>
<path d="M312.56 91.24 l-2.9 0.5 l2.4 2.4 z" fill="#000"/>
<text x="0.2" y="120.8" font-size="17" text-anchor="start" font-weight="bold" >C</text>
<text x="18.7" y="120.4" font-size="9.1" text-anchor="start" font-weight="normal" >Expression of Tumor MHC molecules</text>
<rect x="31.5" y="139.5" width="85.0" height="57.0" fill="#fff" stroke="#858585" stroke-width="1"/>
<line x1="31.5" y1="196.5" x2="31.5" y2="200.7" stroke="#858585" stroke-width="0.8" />
<line x1="52.75" y1="196.5" x2="52.75" y2="200.7" stroke="#858585" stroke-width="0.8" />
<line x1="74.0" y1="196.5" x2="74.0" y2="200.7" stroke="#858585" stroke-width="0.8" />
<line x1="95.25" y1="196.5" x2="95.25" y2="200.7" stroke="#858585" stroke-width="0.8" />
<line x1="116.5" y1="196.5" x2="116.5" y2="200.7" stroke="#858585" stroke-width="0.8" />
<text x="70.4" y="134.4" font-size="7.2" text-anchor="middle" font-weight="normal" >(-)</text>
<rect x="127.5" y="139.5" width="85.0" height="57.0" fill="#fff" stroke="#858585" stroke-width="1"/>
<line x1="127.5" y1="196.5" x2="127.5" y2="200.7" stroke="#858585" stroke-width="0.8" />
<line x1="148.75" y1="196.5" x2="148.75" y2="200.7" stroke="#858585" stroke-width="0.8" />
<line x1="170.0" y1="196.5" x2="170.0" y2="200.7" stroke="#858585" stroke-width="0.8" />
<line x1="191.25" y1="196.5" x2="191.25" y2="200.7" stroke="#858585" stroke-width="0.8" />
<line x1="212.5" y1="196.5" x2="212.5" y2="200.7" stroke="#858585" stroke-width="0.8" />
<text x="165.8" y="134.4" font-size="7.2" text-anchor="middle" font-weight="normal" >&#8226; IFN-<tspan font-size="6" dy="0.5">&#947;</tspan></text>
<rect x="239.5" y="139.5" width="86.0" height="57.0" fill="#fff" stroke="#858585" stroke-width="1"/>
<line x1="239.5" y1="196.5" x2="239.5" y2="200.7" stroke="#858585" stroke-width="0.8" />
<line x1="261.0" y1="196.5" x2="261.0" y2="200.7" stroke="#858585" stroke-width="0.8" />
<line x1="282.5" y1="196.5" x2="282.5" y2="200.7" stroke="#858585" stroke-width="0.8" />
<line x1="304.0" y1="196.5" x2="304.0" y2="200.7" stroke="#858585" stroke-width="0.8" />
<line x1="325.5" y1="196.5" x2="325.5" y2="200.7" stroke="#858585" stroke-width="0.8" />
<text x="280.4" y="134.4" font-size="7.2" text-anchor="middle" font-weight="normal" >(-)</text>
<rect x="336.5" y="139.5" width="85.0" height="57.0" fill="#fff" stroke="#858585" stroke-width="1"/>
<line x1="336.5" y1="196.5" x2="336.5" y2="200.7" stroke="#858585" stroke-width="0.8" />
<line x1="357.75" y1="196.5" x2="357.75" y2="200.7" stroke="#858585" stroke-width="0.8" />
<line x1="379.0" y1="196.5" x2="379.0" y2="200.7" stroke="#858585" stroke-width="0.8" />
<line x1="400.25" y1="196.5" x2="400.25" y2="200.7" stroke="#858585" stroke-width="0.8" />
<line x1="421.5" y1="196.5" x2="421.5" y2="200.7" stroke="#858585" stroke-width="0.8" />
<text x="375.4" y="134.4" font-size="7.2" text-anchor="middle" font-weight="normal" >&#8226; IFN-<tspan font-size="6" dy="0.5">&#947;</tspan></text>
<rect x="433.5" y="139.5" width="85.0" height="57.0" fill="#fff" stroke="#858585" stroke-width="1"/>
<line x1="433.5" y1="196.5" x2="433.5" y2="200.7" stroke="#858585" stroke-width="0.8" />
<line x1="454.75" y1="196.5" x2="454.75" y2="200.7" stroke="#858585" stroke-width="0.8" />
<line x1="476.0" y1="196.5" x2="476.0" y2="200.7" stroke="#858585" stroke-width="0.8" />
<line x1="497.25" y1="196.5" x2="497.25" y2="200.7" stroke="#858585" stroke-width="0.8" />
<line x1="518.5" y1="196.5" x2="518.5" y2="200.7" stroke="#858585" stroke-width="0.8" />
<text x="472.3" y="134.4" font-size="7.2" text-anchor="middle" font-weight="normal" >Ex vivo</text>
<path d="M31.6 196.5L31.6 177.0H32.6L32.6 196.1H33.6L33.6 192.2H34.6L34.6 189.5H35.6L35.6 191.1H36.6L36.6 196.1H37.6L37.6 191.9H38.6L38.6 192.6H39.6L39.6 190.9H40.6L40.6 190.3H41.6L41.6 196.1H42.6L42.6 190.5H43.6L43.6 189.3H44.6L44.6 190.0H45.6L45.6 196.1H46.6L46.6 191.4H47.6L47.6 196.1H48.6L48.6 196.1H49.6L49.6 181.5H50.6L50.6 173.3H51.6L51.6 164.8H52.6L52.6 164.9H53.6L53.6 162.1H54.6L54.6 153.8H55.6L55.6 141.4H56.6L56.6 139.5H57.6L57.6 139.7H58.6L58.6 141.0H59.6L59.6 144.9H60.6L60.6 147.4H61.6L61.6 153.6H62.6L62.6 150.0H63.6L63.6 146.0H64.6L64.6 176.6H65.6L65.6 186.6H66.6L66.6 194.1H67.6L67.6 195.2H68.6V196.5Z" fill="#fff" stroke="none"/>
<path d="M67.3 196.5L67.3 196.2H68.3L68.3 193.9H69.3L69.3 192.3H70.3L70.3 190.0H71.3L71.3 189.7H72.3L72.3 186.6H73.3L73.3 182.1H74.3L74.3 180.2H75.3L75.3 176.3H76.3L76.3 171.2H77.3L77.3 169.6H78.3L78.3 164.5H79.3L79.3 158.6H80.3L80.3 150.0H81.3L81.3 146.5H82.3L82.3 143.9H83.3L83.3 143.5H84.3L84.3 139.5H85.3L85.3 142.2H86.3L86.3 145.1H87.3L87.3 153.5H88.3L88.3 158.4H89.3L89.3 165.4H90.3L90.3 170.7H91.3L91.3 173.2H92.3L92.3 178.9H93.3L93.3 183.6H94.3L94.3 181.6H95.3L95.3 183.6H96.3L96.3 185.7H97.3L97.3 188.2H98.3L98.3 189.9H99.3L99.3 192.7H100.3L100.3 195.3H101.3L101.3 195.4H102.3L102.3 195.0H103.3L103.3 195.1H104.3L104.3 195.2H105.3L105.3 195.0H106.3L106.3 195.4H107.3L107.3 195.7H108.3L108.3 196.1H109.3L109.3 196.2H110.3L110.3 195.0H111.3L111.3 191.5H112.3L112.3 195.1H113.3V196.5Z" fill="#5a5a5a" stroke="#0a0a0a" stroke-width="1.0"/>
<path d="M31.6 196.5L31.6 177.0H32.6L32.6 196.1H33.6L33.6 192.2H34.6L34.6 189.5H35.6L35.6 191.1H36.6L36.6 196.1H37.6L37.6 191.9H38.6L38.6 192.6H39.6L39.6 190.9H40.6L40.6 190.3H41.6L41.6 196.1H42.6L42.6 190.5H43.6L43.6 189.3H44.6L44.6 190.0H45.6L45.6 196.1H46.6L46.6 191.4H47.6L47.6 196.1H48.6L48.6 196.1H49.6L49.6 181.5H50.6L50.6 173.3H51.6L51.6 164.8H52.6L52.6 164.9H53.6L53.6 162.1H54.6L54.6 153.8H55.6L55.6 141.4H56.6L56.6 139.5H57.6L57.6 139.7H58.6L58.6 141.0H59.6L59.6 144.9H60.6L60.6 147.4H61.6L61.6 153.6H62.6L62.6 150.0H63.6L63.6 146.0H64.6L64.6 176.6H65.6L65.6 186.6H66.6L66.6 194.1H67.6L67.6 195.2H68.6M31.6 196.5H68.6" fill="none" stroke="#0a0a0a" stroke-width="1.0"/>
<path d="M127.5 196.5L127.5 193.8H128.5L128.5 190.6H129.5L129.5 196.1H130.5L130.5 193.3H131.5L131.5 193.1H132.5L132.5 196.1H133.5L133.5 190.9H134.5L134.5 196.1H135.5L135.5 192.3H136.5L136.5 196.1H137.5L137.5 194.0H138.5L138.5 196.1H139.5L139.5 190.7H140.5L140.5 196.1H141.5L141.5 184.5H142.5L142.5 196.1H143.5L143.5 191.9H144.5L144.5 196.1H145.5L145.5 188.7H146.5L146.5 182.9H147.5L147.5 178.6H148.5L148.5 174.6H149.5L149.5 166.7H150.5L150.5 157.8H151.5L151.5 152.3H152.5L152.5 148.0H153.5L153.5 145.7H154.5L154.5 142.6H155.5L155.5 149.5H156.5L156.5 156.1H157.5L157.5 156.7H158.5L158.5 163.0H159.5L159.5 171.7H160.5L160.5 179.3H161.5L161.5 181.6H162.5L162.5 184.4H163.5L163.5 181.1H164.5L164.5 185.9H165.5L165.5 184.2H166.5L166.5 184.0H167.5L167.5 186.5H168.5V196.5Z" fill="#fff" stroke="none"/>
<path d="M145.0 196.5L145.0 194.5H146.0L146.0 193.5H147.0L147.0 192.5H148.0L148.0 191.7H149.0L149.0 191.0H150.0L150.0 189.2H151.0L151.0 186.0H152.0L152.0 187.0H153.0L153.0 189.8H154.0L154.0 189.8H155.0L155.0 190.2H156.0L156.0 189.4H157.0L157.0 190.5H158.0L158.0 190.0H159.0L159.0 189.8H160.0L160.0 189.7H161.0L161.0 189.2H162.0L162.0 188.9H163.0L163.0 188.2H164.0L164.0 187.1H165.0L165.0 186.8H166.0L166.0 186.3H167.0L167.0 187.1H168.0L168.0 186.4H169.0L169.0 187.8H170.0L170.0 184.1H171.0L171.0 185.6H172.0L172.0 184.3H173.0L173.0 185.7H174.0L174.0 181.6H175.0L175.0 177.7H176.0L176.0 172.7H177.0L177.0 164.3H178.0L178.0 160.1H179.0L179.0 151.6H180.0L180.0 147.6H181.0L181.0 142.8H182.0L182.0 141.2H183.0L183.0 146.5H184.0L184.0 152.7H185.0L185.0 159.0H186.0L186.0 163.0H187.0L187.0 164.3H188.0L188.0 169.1H189.0L189.0 173.4H190.0L190.0 178.2H191.0L191.0 182.1H192.0L192.0 185.3H193.0L193.0 189.2H194.0L194.0 193.0H195.0V196.5Z" fill="#5a5a5a" stroke="#0a0a0a" stroke-width="1.0"/>
<path d="M127.5 196.5L127.5 193.8H128.5L128.5 190.6H129.5L129.5 196.1H130.5L130.5 193.3H131.5L131.5 193.1H132.5L132.5 196.1H133.5L133.5 190.9H134.5L134.5 196.1H135.5L135.5 192.3H136.5L136.5 196.1H137.5L137.5 194.0H138.5L138.5 196.1H139.5L139.5 190.7H140.5L140.5 196.1H141.5L141.5 184.5H142.5L142.5 196.1H143.5L143.5 191.9H144.5L144.5 196.1H145.5L145.5 188.7H146.5L146.5 182.9H147.5L147.5 178.6H148.5L148.5 174.6H149.5L149.5 166.7H150.5L150.5 157.8H151.5L151.5 152.3H152.5L152.5 148.0H153.5L153.5 145.7H154.5L154.5 142.6H155.5L155.5 149.5H156.5L156.5 156.1H157.5L157.5 156.7H158.5L158.5 163.0H159.5L159.5 171.7H160.5L160.5 179.3H161.5L161.5 181.6H162.5L162.5 184.4H163.5L163.5 181.1H164.5L164.5 185.9H165.5L165.5 184.2H166.5L166.5 184.0H167.5L167.5 186.5H168.5M127.5 196.5H168.5" fill="none" stroke="#0a0a0a" stroke-width="1.0"/>
<path d="M240.3 196.5L240.3 177.0H241.3L241.3 196.1H242.3L242.3 193.2H243.3L243.3 192.5H244.3L244.3 196.1H245.3L245.3 190.2H246.3L246.3 189.9H247.3L247.3 190.0H248.3L248.3 191.6H249.3L249.3 196.1H250.3L250.3 190.7H251.3L251.3 196.1H252.3L252.3 189.3H253.3L253.3 192.3H254.3L254.3 196.1H255.3L255.3 189.9H256.3L256.3 196.1H257.3L257.3 185.0H258.3L258.3 178.3H259.3L259.3 170.5H260.3L260.3 164.2H261.3L261.3 165.7H262.3L262.3 159.8H263.3L263.3 153.0H264.3L264.3 149.7H265.3L265.3 146.1H266.3L266.3 139.5H267.3L267.3 140.9H268.3L268.3 143.2H269.3L269.3 146.8H270.3L270.3 146.4H271.3L271.3 149.5H272.3L272.3 147.5H273.3L273.3 146.0H274.3L274.3 165.7H275.3L275.3 175.4H276.3L276.3 180.6H277.3L277.3 183.7H278.3L278.3 188.6H279.3L279.3 190.4H280.3L280.3 196.1H281.3L281.3 193.5H282.3L282.3 196.1H283.3L283.3 193.7H284.3L284.3 196.1H285.3L285.3 196.1H286.3L286.3 196.1H287.3L287.3 191.9H288.3L288.3 193.1H289.3L289.3 196.1H290.3L290.3 194.0H291.3L291.3 196.1H292.3L292.3 195.1H293.3V196.5Z" fill="#fff" stroke="none"/>
<path d="M258.6 196.5L258.6 189.9H259.6L259.6 186.1H260.6L260.6 175.0H261.6L261.6 171.5H262.6L262.6 166.2H263.6L263.6 160.3H264.6L264.6 152.4H265.6L265.6 147.8H266.6L266.6 140.9H267.6L267.6 143.4H268.6L268.6 146.2H269.6L269.6 147.6H270.6L270.6 152.6H271.6L271.6 160.0H272.6L272.6 163.6H273.6L273.6 172.1H274.6L274.6 177.8H275.6L275.6 184.4H276.6L276.6 186.5H277.6L277.6 190.3H278.6L278.6 193.0H279.6V196.5Z" fill="#5a5a5a" stroke="#0a0a0a" stroke-width="1.0"/>
<path d="M240.3 196.5L240.3 177.0H241.3L241.3 196.1H242.3L242.3 193.2H243.3L243.3 192.5H244.3L244.3 196.1H245.3L245.3 190.2H246.3L246.3 189.9H247.3L247.3 190.0H248.3L248.3 191.6H249.3L249.3 196.1H250.3L250.3 190.7H251.3L251.3 196.1H252.3L252.3 189.3H253.3L253.3 192.3H254.3L254.3 196.1H255.3L255.3 189.9H256.3L256.3 196.1H257.3L257.3 185.0H258.3L258.3 178.3H259.3L259.3 170.5H260.3L260.3 164.2H261.3L261.3 165.7H262.3L262.3 159.8H263.3L263.3 153.0H264.3L264.3 149.7H265.3L265.3 146.1H266.3L266.3 139.5H267.3L267.3 140.9H268.3L268.3 143.2H269.3L269.3 146.8H270.3L270.3 146.4H271.3L271.3 149.5H272.3L272.3 147.5H273.3L273.3 146.0H274.3L274.3 165.7H275.3L275.3 175.4H276.3L276.3 180.6H277.3L277.3 183.7H278.3L278.3 188.6H279.3L279.3 190.4H280.3L280.3 196.1H281.3L281.3 193.5H282.3L282.3 196.1H283.3L283.3 193.7H284.3L284.3 196.1H285.3L285.3 196.1H286.3L286.3 196.1H287.3L287.3 191.9H288.3L288.3 193.1H289.3L289.3 196.1H290.3L290.3 194.0H291.3L291.3 196.1H292.3L292.3 195.1H293.3M240.3 196.5H293.3" fill="none" stroke="#0a0a0a" stroke-width="1.0"/>
<path d="M337.2 196.5L337.2 192.0H338.2L338.2 196.1H339.2L339.2 196.1H340.2L340.2 193.2H341.2L341.2 193.0H342.2L342.2 192.1H343.2L343.2 192.4H344.2L344.2 193.2H345.2L345.2 196.1H346.2L346.2 192.0H347.2L347.2 193.2H348.2L348.2 193.0H349.2L349.2 196.1H350.2L350.2 188.5H351.2L351.2 186.1H352.2L352.2 196.1H353.2L353.2 196.1H354.2L354.2 189.0H355.2L355.2 180.6H356.2L356.2 175.1H357.2L357.2 168.4H358.2L358.2 163.6H359.2L359.2 155.1H360.2L360.2 152.7H361.2L361.2 148.3H362.2L362.2 143.9H363.2L363.2 139.5H364.2L364.2 142.1H365.2L365.2 147.8H366.2L366.2 151.9H367.2L367.2 154.2H368.2L368.2 163.5H369.2L369.2 169.5H370.2L370.2 177.1H371.2L371.2 184.8H372.2L372.2 186.2H373.2L373.2 189.0H374.2V196.5Z" fill="#fff" stroke="none"/>
<path d="M357.3 196.5L357.3 192.1H358.3L358.3 191.6H359.3L359.3 190.9H360.3L360.3 189.1H361.3L361.3 188.9H362.3L362.3 187.3H363.3L363.3 186.1H364.3L364.3 188.4H365.3L365.3 189.2H366.3L366.3 189.2H367.3L367.3 188.4H368.3L368.3 186.2H369.3L369.3 185.5H370.3L370.3 185.4H371.3L371.3 183.0H372.3L372.3 181.1H373.3L373.3 176.1H374.3L374.3 175.8H375.3L375.3 171.0H376.3L376.3 170.3H377.3L377.3 170.2H378.3L378.3 170.8H379.3L379.3 168.7H380.3L380.3 169.6H381.3L381.3 163.1H382.3L382.3 155.2H383.3L383.3 155.2H384.3L384.3 162.9H385.3L385.3 161.1H386.3L386.3 163.1H387.3L387.3 151.2H388.3L388.3 139.6H389.3L389.3 160.4H390.3L390.3 164.1H391.3L391.3 157.7H392.3L392.3 158.2H393.3L393.3 162.7H394.3L394.3 163.3H395.3L395.3 165.1H396.3L396.3 164.3H397.3L397.3 172.6H398.3L398.3 173.6H399.3L399.3 174.8H400.3L400.3 177.9H401.3L401.3 182.2H402.3L402.3 184.3H403.3L403.3 187.6H404.3L404.3 190.0H405.3L405.3 191.8H406.3L406.3 194.3H407.3L407.3 195.3H408.3L408.3 194.9H409.3L409.3 193.8H410.3L410.3 193.1H411.3L411.3 194.7H412.3V196.5Z" fill="#5a5a5a" stroke="#0a0a0a" stroke-width="1.0"/>
<path d="M337.2 196.5L337.2 192.0H338.2L338.2 196.1H339.2L339.2 196.1H340.2L340.2 193.2H341.2L341.2 193.0H342.2L342.2 192.1H343.2L343.2 192.4H344.2L344.2 193.2H345.2L345.2 196.1H346.2L346.2 192.0H347.2L347.2 193.2H348.2L348.2 193.0H349.2L349.2 196.1H350.2L350.2 188.5H351.2L351.2 186.1H352.2L352.2 196.1H353.2L353.2 196.1H354.2L354.2 189.0H355.2L355.2 180.6H356.2L356.2 175.1H357.2L357.2 168.4H358.2L358.2 163.6H359.2L359.2 155.1H360.2L360.2 152.7H361.2L361.2 148.3H362.2L362.2 143.9H363.2L363.2 139.5H364.2L364.2 142.1H365.2L365.2 147.8H366.2L366.2 151.9H367.2L367.2 154.2H368.2L368.2 163.5H369.2L369.2 169.5H370.2L370.2 177.1H371.2L371.2 184.8H372.2L372.2 186.2H373.2L373.2 189.0H374.2M337.2 196.5H374.2" fill="none" stroke="#0a0a0a" stroke-width="1.0"/>
<path d="M437.9 196.5L437.9 194.8H438.9L438.9 194.5H439.9L439.9 193.6H440.9L440.9 192.9H441.9L441.9 192.9H442.9L442.9 192.5H443.9L443.9 192.0H444.9L444.9 193.0H445.9L445.9 191.0H446.9L446.9 191.4H447.9L447.9 189.6H448.9L448.9 188.8H449.9L449.9 187.4H450.9L450.9 188.2H451.9L451.9 185.6H452.9L452.9 183.9H453.9L453.9 181.8H454.9L454.9 181.8H455.9L455.9 178.1H456.9L456.9 177.9H457.9L457.9 173.4H458.9L458.9 171.4H459.9L459.9 165.7H460.9L460.9 166.2H461.9L461.9 157.3H462.9L462.9 151.8H463.9L463.9 149.4H464.9L464.9 142.2H465.9L465.9 141.4H466.9L466.9 139.5H467.9L467.9 143.2H468.9L468.9 148.5H469.9L469.9 155.0H470.9L470.9 166.4H471.9L471.9 174.6H472.9L472.9 182.7H473.9L473.9 186.8H474.9L474.9 190.4H475.9L475.9 191.9H476.9L476.9 192.9H477.9L477.9 193.6H478.9L478.9 193.9H479.9L479.9 194.3H480.9L480.9 195.0H481.9L481.9 195.2H482.9V196.5Z" fill="#fff" stroke="none"/>
<path d="M442.8 196.5L442.8 195.5H443.8L443.8 193.8H444.8L444.8 194.6H445.8L445.8 194.5H446.8L446.8 194.5H447.8L447.8 194.3H448.8L448.8 194.5H449.8L449.8 195.1H450.8L450.8 194.3H451.8L451.8 194.8H452.8L452.8 194.2H453.8L453.8 194.3H454.8L454.8 193.2H455.8L455.8 194.1H456.8L456.8 194.3H457.8L457.8 193.5H458.8L458.8 193.6H459.8L459.8 193.3H460.8L460.8 194.3H461.8L461.8 192.9H462.8L462.8 192.8H463.8L463.8 191.5H464.8L464.8 191.4H465.8L465.8 191.5H466.8L466.8 189.6H467.8L467.8 187.7H468.8L468.8 187.2H469.8L469.8 187.0H470.8L470.8 185.5H471.8L471.8 182.8H472.8L472.8 179.7H473.8L473.8 176.1H474.8L474.8 175.9H475.8L475.8 171.7H476.8L476.8 168.2H477.8L477.8 166.7H478.8L478.8 161.5H479.8L479.8 158.9H480.8L480.8 156.8H481.8L481.8 153.2H482.8L482.8 151.1H483.8L483.8 148.8H484.8L484.8 148.7H485.8L485.8 144.1H486.8L486.8 139.5H487.8L487.8 143.6H488.8L488.8 143.2H489.8L489.8 139.5H490.8L490.8 150.1H491.8L491.8 154.5H492.8L492.8 157.7H493.8L493.8 162.7H494.8L494.8 163.2H495.8L495.8 164.7H496.8L496.8 167.3H497.8L497.8 165.1H498.8L498.8 167.6H499.8L499.8 170.0H500.8L500.8 172.3H501.8L501.8 172.9H502.8L502.8 174.2H503.8L503.8 175.6H504.8L504.8 177.9H505.8L505.8 180.1H506.8L506.8 179.3H507.8L507.8 180.2H508.8L508.8 183.8H509.8L509.8 185.7H510.8L510.8 186.9H511.8L511.8 189.3H512.8L512.8 190.5H513.8L513.8 192.0H514.8L514.8 193.0H515.8L515.8 194.2H516.8L516.8 195.0H517.8L517.8 195.7H518.8V196.5Z" fill="#5a5a5a" stroke="#0a0a0a" stroke-width="1.0"/>
<path d="M437.9 196.5L437.9 194.8H438.9L438.9 194.5H439.9L439.9 193.6H440.9L440.9 192.9H441.9L441.9 192.9H442.9L442.9 192.5H443.9L443.9 192.0H444.9L444.9 193.0H445.9L445.9 191.0H446.9L446.9 191.4H447.9L447.9 189.6H448.9L448.9 188.8H449.9L449.9 187.4H450.9L450.9 188.2H451.9L451.9 185.6H452.9L452.9 183.9H453.9L453.9 181.8H454.9L454.9 181.8H455.9L455.9 178.1H456.9L456.9 177.9H457.9L457.9 173.4H458.9L458.9 171.4H459.9L459.9 165.7H460.9L460.9 166.2H461.9L461.9 157.3H462.9L462.9 151.8H463.9L463.9 149.4H464.9L464.9 142.2H465.9L465.9 141.4H466.9L466.9 139.5H467.9L467.9 143.2H468.9L468.9 148.5H469.9L469.9 155.0H470.9L470.9 166.4H471.9L471.9 174.6H472.9L472.9 182.7H473.9L473.9 186.8H474.9L474.9 190.4H475.9L475.9 191.9H476.9L476.9 192.9H477.9L477.9 193.6H478.9L478.9 193.9H479.9L479.9 194.3H480.9L480.9 195.0H481.9L481.9 195.2H482.9M437.9 196.5H482.9" fill="none" stroke="#0a0a0a" stroke-width="1.0"/>
<text x="31.3" y="213.3" font-size="7.35">MHC class I (D<tspan dy="-2.9" font-size="6.3">b</tspan><tspan dy="2.9">)</tspan></text>
<text x="240.0" y="213.6" font-size="7.35">MHC class II (A<tspan dy="-2.9" font-size="6.3">b</tspan><tspan dy="2.9">)</tspan></text>
<line x1="92.3" y1="210.5" x2="163.5" y2="210.5" stroke="#000" stroke-width="0.6" />
<path d="M165.5 210.5 L162.5 209.4 L162.5 211.6 Z" fill="#000"/>
<line x1="303" y1="211.0" x2="372.6" y2="211.0" stroke="#000" stroke-width="0.6" />
<path d="M374.6 211.0 L371.6 209.9 L371.6 212.1 Z" fill="#000"/>
<text x="0.5" y="236.9" font-size="16" text-anchor="start" font-weight="bold" >D</text>
<text x="17.9" y="236.6" font-size="9">Antitumor killing activity <tspan font-style="italic">in vitro</tspan></text>
<text x="18.7" y="250.5" font-size="7" text-anchor="start" font-weight="normal" >Effectors</text>
<line x1="18.7" y1="252.0" x2="47.0" y2="252.0" stroke="#999" stroke-width="0.6" />
<line x1="51.2" y1="249.6" x2="70.5" y2="249.6" stroke="#777" stroke-width="0.6" />
<path d="M72.5 249.6 L69.5 248.5 L69.5 250.7 Z" fill="#777"/>
<text x="78.7" y="250.5" font-size="7" text-anchor="start" font-weight="normal" >MataHari</text>
<text x="154.2" y="258.7" font-size="7.4" text-anchor="start" font-weight="normal" >Targets:</text>
<line x1="153.0" y1="260.5" x2="180.6" y2="260.5" stroke="#999" stroke-width="0.7" />
<text x="157.2" y="268.5" font-size="6.85" text-anchor="start" font-weight="normal" >MB49 + IFN<tspan font-size="5" dy="0.6">&#947;</tspan></text>
<text x="157.0" y="278.0" font-size="7" text-anchor="start" font-weight="normal" >MB49</text>
<text x="157.0" y="342.0" font-size="7" text-anchor="start" font-weight="normal" >B16+IFN<tspan font-size="5" dy="0.6">&#947;</tspan></text>
<text x="157.0" y="358.8" font-size="7" text-anchor="start" font-weight="normal" >B16</text>
<text x="277.2" y="250.7" font-size="7.3" text-anchor="middle" font-weight="normal" >Marilyn</text>
<line x1="36.5" y1="269.25" x2="36.5" y2="364.5833333333333" stroke="#858585" stroke-width="1" />
<line x1="34.5" y1="364.5833333333333" x2="36.5" y2="364.5833333333333" stroke="#858585" stroke-width="0.8" />
<line x1="34.5" y1="355.9166666666667" x2="36.5" y2="355.9166666666667" stroke="#858585" stroke-width="0.8" />
<line x1="33.5" y1="347.25" x2="36.5" y2="347.25" stroke="#858585" stroke-width="0.8" />
<line x1="34.5" y1="338.5833333333333" x2="36.5" y2="338.5833333333333" stroke="#858585" stroke-width="0.8" />
<line x1="34.5" y1="329.9166666666667" x2="36.5" y2="329.9166666666667" stroke="#858585" stroke-width="0.8" />
<line x1="33.5" y1="321.25" x2="36.5" y2="321.25" stroke="#858585" stroke-width="0.8" />
<line x1="34.5" y1="312.5833333333333" x2="36.5" y2="312.5833333333333" stroke="#858585" stroke-width="0.8" />
<line x1="34.5" y1="303.9166666666667" x2="36.5" y2="303.9166666666667" stroke="#858585" stroke-width="0.8" />
<line x1="33.5" y1="295.25" x2="36.5" y2="295.25" stroke="#858585" stroke-width="0.8" />
<line x1="34.5" y1="286.5833333333333" x2="36.5" y2="286.5833333333333" stroke="#858585" stroke-width="0.8" />
<line x1="34.5" y1="277.9166666666667" x2="36.5" y2="277.9166666666667" stroke="#858585" stroke-width="0.8" />
<line x1="33.5" y1="269.25" x2="36.5" y2="269.25" stroke="#858585" stroke-width="0.8" />
<text x="29.8" y="271.45" font-size="7.2" text-anchor="end" font-weight="normal" >90</text>
<text x="29.8" y="297.45" font-size="7.2" text-anchor="end" font-weight="normal" >60</text>
<text x="29.8" y="323.45" font-size="7.2" text-anchor="end" font-weight="normal" >30</text>
<text x="29.8" y="349.45" font-size="7.2" text-anchor="end" font-weight="normal" >0</text>
<line x1="213.5" y1="269.25" x2="213.5" y2="364.5833333333333" stroke="#858585" stroke-width="1" />
<line x1="211.5" y1="364.5833333333333" x2="213.5" y2="364.5833333333333" stroke="#858585" stroke-width="0.8" />
<line x1="211.5" y1="355.9166666666667" x2="213.5" y2="355.9166666666667" stroke="#858585" stroke-width="0.8" />
<line x1="210.5" y1="347.25" x2="213.5" y2="347.25" stroke="#858585" stroke-width="0.8" />
<line x1="211.5" y1="338.5833333333333" x2="213.5" y2="338.5833333333333" stroke="#858585" stroke-width="0.8" />
<line x1="211.5" y1="329.9166666666667" x2="213.5" y2="329.9166666666667" stroke="#858585" stroke-width="0.8" />
<line x1="210.5" y1="321.25" x2="213.5" y2="321.25" stroke="#858585" stroke-width="0.8" />
<line x1="211.5" y1="312.5833333333333" x2="213.5" y2="312.5833333333333" stroke="#858585" stroke-width="0.8" />
<line x1="211.5" y1="303.9166666666667" x2="213.5" y2="303.9166666666667" stroke="#858585" stroke-width="0.8" />
<line x1="210.5" y1="295.25" x2="213.5" y2="295.25" stroke="#858585" stroke-width="0.8" />
<line x1="211.5" y1="286.5833333333333" x2="213.5" y2="286.5833333333333" stroke="#858585" stroke-width="0.8" />
<line x1="211.5" y1="277.9166666666667" x2="213.5" y2="277.9166666666667" stroke="#858585" stroke-width="0.8" />
<line x1="210.5" y1="269.25" x2="213.5" y2="269.25" stroke="#858585" stroke-width="0.8" />
<text x="206.8" y="271.45" font-size="7.2" text-anchor="end" font-weight="normal" >90</text>
<text x="206.8" y="297.45" font-size="7.2" text-anchor="end" font-weight="normal" >60</text>
<text x="206.8" y="323.45" font-size="7.2" text-anchor="end" font-weight="normal" >30</text>
<text x="206.8" y="349.45" font-size="7.2" text-anchor="end" font-weight="normal" >0</text>
<text transform="translate(15.6,311.2) rotate(-90)" font-size="7.2" text-anchor="middle">% death</text>
<line x1="42.0" y1="368.5" x2="339.7" y2="368.5" stroke="#858585" stroke-width="1" />
<line x1="43.75" y1="368.5" x2="43.75" y2="371" stroke="#858585" stroke-width="0.8" />
<line x1="65.4" y1="368.5" x2="65.4" y2="371" stroke="#858585" stroke-width="0.8" />
<line x1="87.05" y1="368.5" x2="87.05" y2="371" stroke="#858585" stroke-width="0.8" />
<line x1="108.69999999999999" y1="368.5" x2="108.69999999999999" y2="371" stroke="#858585" stroke-width="0.8" />
<line x1="130.35" y1="368.5" x2="130.35" y2="371" stroke="#858585" stroke-width="0.8" />
<line x1="152.0" y1="368.5" x2="152.0" y2="371" stroke="#858585" stroke-width="0.8" />
<line x1="227.5" y1="368.5" x2="227.5" y2="371" stroke="#858585" stroke-width="0.8" />
<line x1="249.94" y1="368.5" x2="249.94" y2="371" stroke="#858585" stroke-width="0.8" />
<line x1="272.38" y1="368.5" x2="272.38" y2="371" stroke="#858585" stroke-width="0.8" />
<line x1="294.82" y1="368.5" x2="294.82" y2="371" stroke="#858585" stroke-width="0.8" />
<line x1="317.26" y1="368.5" x2="317.26" y2="371" stroke="#858585" stroke-width="0.8" />
<line x1="339.7" y1="368.5" x2="339.7" y2="371" stroke="#858585" stroke-width="0.8" />
<text x="65.4" y="378.6" font-size="7.2" text-anchor="middle" font-weight="normal" >0.05</text>
<text x="108.69999999999999" y="378.6" font-size="7.2" text-anchor="middle" font-weight="normal" >0.5</text>
<text x="152.0" y="378.6" font-size="7.2" text-anchor="middle" font-weight="normal" >4.4</text>
<text x="249.94" y="378.6" font-size="7.2" text-anchor="middle" font-weight="normal" >0.7</text>
<text x="294.82" y="378.6" font-size="7.2" text-anchor="middle" font-weight="normal" >6</text>
<text x="339.7" y="378.6" font-size="7.2" text-anchor="middle" font-weight="normal" >53</text>
<text x="198.5" y="388.8" font-size="7.2" text-anchor="middle" font-weight="normal" >R/T</text>
<path d="M43.75 346.04L65.40 352.97L87.05 348.46L108.70 328.01L130.35 291.26L152.00 276.27" fill="none" stroke="#000" stroke-width="1.15" />
<circle cx="43.75" cy="346.04" r="2.5" fill="#fff" stroke="#000" stroke-width="0.95"/>
<circle cx="65.40" cy="352.97" r="2.5" fill="#fff" stroke="#000" stroke-width="0.95"/>
<circle cx="87.05" cy="348.46" r="2.5" fill="#fff" stroke="#000" stroke-width="0.95"/>
<circle cx="108.70" cy="328.01" r="2.5" fill="#fff" stroke="#000" stroke-width="0.95"/>
<circle cx="130.35" cy="291.26" r="2.5" fill="#fff" stroke="#000" stroke-width="0.95"/>
<circle cx="152.00" cy="276.27" r="2.5" fill="#fff" stroke="#000" stroke-width="0.95"/>
<path d="M43.75 331.74L65.40 329.48L87.05 324.98L108.70 309.98L130.35 281.38L152.00 270.12" fill="none" stroke="#000" stroke-width="1.15" />
<circle cx="43.75" cy="331.74" r="2.5" fill="#000" stroke="#000" stroke-width="0.95"/>
<circle cx="65.40" cy="329.48" r="2.5" fill="#000" stroke="#000" stroke-width="0.95"/>
<circle cx="87.05" cy="324.98" r="2.5" fill="#000" stroke="#000" stroke-width="0.95"/>
<circle cx="108.70" cy="309.98" r="2.5" fill="#000" stroke="#000" stroke-width="0.95"/>
<circle cx="130.35" cy="281.38" r="2.5" fill="#000" stroke="#000" stroke-width="0.95"/>
<circle cx="152.00" cy="270.12" r="2.5" fill="#000" stroke="#000" stroke-width="0.95"/>
<path d="M87.05 365.40L108.70 363.00L130.35 365.60L152.00 357.00" fill="none" stroke="#000" stroke-width="1.15" stroke-dasharray="4.6 2.8"/>
<rect x="84.60" y="362.95" width="4.9" height="4.9" fill="#fff" stroke="#000" stroke-width="0.95"/>
<rect x="106.25" y="360.55" width="4.9" height="4.9" fill="#fff" stroke="#000" stroke-width="0.95"/>
<rect x="127.90" y="363.15" width="4.9" height="4.9" fill="#fff" stroke="#000" stroke-width="0.95"/>
<rect x="149.55" y="354.55" width="4.9" height="4.9" fill="#fff" stroke="#000" stroke-width="0.95"/>
<path d="M87.05 338.90L108.70 346.40L130.35 353.20L152.00 341.20" fill="none" stroke="#000" stroke-width="1.15" stroke-dasharray="4.6 2.8"/>
<rect x="84.55" y="336.40" width="5.0" height="5.0" fill="#000" stroke="#000" stroke-width="0.95"/>
<rect x="106.20" y="343.90" width="5.0" height="5.0" fill="#000" stroke="#000" stroke-width="0.95"/>
<rect x="127.85" y="350.70" width="5.0" height="5.0" fill="#000" stroke="#000" stroke-width="0.95"/>
<rect x="149.50" y="338.70" width="5.0" height="5.0" fill="#000" stroke="#000" stroke-width="0.95"/>
<path d="M270.50 351.60L292.00 354.20L313.50 357.20L335.00 350.00" fill="none" stroke="#000" stroke-width="1.15" stroke-dasharray="4.6 2.8"/>
<rect x="268.15" y="349.25" width="4.7" height="4.7" fill="#fff" stroke="#000" stroke-width="0.95"/>
<rect x="289.65" y="351.85" width="4.7" height="4.7" fill="#fff" stroke="#000" stroke-width="0.95"/>
<rect x="311.15" y="354.85" width="4.7" height="4.7" fill="#fff" stroke="#000" stroke-width="0.95"/>
<rect x="332.65" y="347.65" width="4.7" height="4.7" fill="#fff" stroke="#000" stroke-width="0.95"/>
<path d="M270.50 350.00L292.00 351.60L313.50 353.50L335.00 342.00" fill="none" stroke="#000" stroke-width="1.15" stroke-dasharray="4.6 2.8"/>
<rect x="268.15" y="347.65" width="4.7" height="4.7" fill="#000" stroke="#000" stroke-width="0.95"/>
<rect x="289.65" y="349.25" width="4.7" height="4.7" fill="#000" stroke="#000" stroke-width="0.95"/>
<rect x="311.15" y="351.15" width="4.7" height="4.7" fill="#000" stroke="#000" stroke-width="0.95"/>
<rect x="332.65" y="339.65" width="4.7" height="4.7" fill="#000" stroke="#000" stroke-width="0.95"/>
<path d="M227.50 338.75L249.00 345.75L270.50 355.60L292.00 358.00L313.50 353.00L335.00 333.10" fill="none" stroke="#000" stroke-width="1.15" />
<circle cx="227.50" cy="338.75" r="2.5" fill="#fff" stroke="#000" stroke-width="0.95"/>
<circle cx="249.00" cy="345.75" r="2.5" fill="#fff" stroke="#000" stroke-width="0.95"/>
<circle cx="270.50" cy="355.60" r="2.5" fill="#fff" stroke="#000" stroke-width="0.95"/>
<circle cx="292.00" cy="358.00" r="2.5" fill="#fff" stroke="#000" stroke-width="0.95"/>
<circle cx="313.50" cy="353.00" r="2.5" fill="#fff" stroke="#000" stroke-width="0.95"/>
<circle cx="335.00" cy="333.10" r="2.5" fill="#fff" stroke="#000" stroke-width="0.95"/>
<path d="M227.50 336.25L249.00 339.25L270.50 347.30L292.00 347.80L313.50 328.75L335.00 319.50" fill="none" stroke="#000" stroke-width="1.15" />
<circle cx="227.50" cy="336.25" r="2.5" fill="#000" stroke="#000" stroke-width="0.95"/>
<circle cx="249.00" cy="339.25" r="2.5" fill="#000" stroke="#000" stroke-width="0.95"/>
<circle cx="270.50" cy="347.30" r="2.5" fill="#000" stroke="#000" stroke-width="0.95"/>
<circle cx="292.00" cy="347.80" r="2.5" fill="#000" stroke="#000" stroke-width="0.95"/>
<circle cx="313.50" cy="328.75" r="2.5" fill="#000" stroke="#000" stroke-width="0.95"/>
<circle cx="335.00" cy="319.50" r="2.5" fill="#000" stroke="#000" stroke-width="0.95"/>
<text x="364.8" y="240.9" font-size="16.3" text-anchor="start" font-weight="bold" >E</text>
<text x="379.5" y="236.6" font-size="9.15" text-anchor="start" font-weight="normal" >Proliferation</text>
<text x="454.6" y="250.8" font-size="7.4" text-anchor="middle" font-weight="normal" >Marilyn</text>
<line x1="392.5" y1="271.3" x2="392.5" y2="366.0" stroke="#858585" stroke-width="1" />
<line x1="389.8" y1="300.3" x2="392.5" y2="300.3" stroke="#858585" stroke-width="0.8" />
<line x1="389.8" y1="360.2" x2="392.5" y2="360.2" stroke="#858585" stroke-width="0.8" />
<text x="386.6" y="302.8" font-size="7.2" text-anchor="end" font-weight="normal" >10</text>
<text x="385.6" y="362.7" font-size="7.2" text-anchor="end" font-weight="normal" >1</text>
<text transform="translate(373.3,320.3) rotate(-90)" font-size="7.6" text-anchor="middle">CPM (x10<tspan dy="-2.4" font-size="5.2">3</tspan><tspan dy="2.4">)</tspan></text>
<line x1="415.2" y1="368.5" x2="507.0" y2="368.5" stroke="#858585" stroke-width="1" />
<line x1="401.1" y1="368.5" x2="401.1" y2="370.6" stroke="#858585" stroke-width="0.8" />
<line x1="419" y1="368.5" x2="419" y2="370.6" stroke="#858585" stroke-width="0.8" />
<line x1="441" y1="368.5" x2="441" y2="370.6" stroke="#858585" stroke-width="0.8" />
<line x1="463" y1="368.5" x2="463" y2="370.6" stroke="#858585" stroke-width="0.8" />
<line x1="485" y1="368.5" x2="485" y2="370.6" stroke="#858585" stroke-width="0.8" />
<line x1="506.5" y1="368.5" x2="506.5" y2="370.6" stroke="#858585" stroke-width="0.8" />
<text x="401.0" y="378.5" font-size="7.2" text-anchor="middle" font-weight="normal" >0</text>
<text x="419.2" y="378.5" font-size="7.2" text-anchor="middle" font-weight="normal" >0.01</text>
<text x="462.5" y="378.5" font-size="7.2" text-anchor="middle" font-weight="normal" >0.1</text>
<text x="507" y="378.5" font-size="7.2" text-anchor="middle" font-weight="normal" >1</text>
<text x="460.7" y="389.0" font-size="7.2" text-anchor="middle" font-weight="normal" >Dilution of stimulators</text>
<g stroke="#000" stroke-width="1.25" stroke-linecap="round"><line x1="398.1" y1="348.0" x2="404.0" y2="353.6"/><line x1="398.1" y1="353.6" x2="404.0" y2="348.0"/></g><circle cx="401.05" cy="350.8" r="1.1" fill="#000"/><line x1="401.05" y1="348.6" x2="401.05" y2="353" stroke="#000" stroke-width="0.6" stroke-opacity="0.5"/>
<path d="M419.00 354.40L441.00 358.10L463.00 349.40L485.00 342.00L506.50 344.40" fill="none" stroke="#000" stroke-width="1.15" stroke-dasharray="4.6 2.8"/>
<path d="M419.00 351.10L422.30 356.88L415.70 356.88Z" fill="#fff" stroke="#000" stroke-width="1.05"/>
<path d="M441.00 354.80L444.30 360.58L437.70 360.58Z" fill="#fff" stroke="#000" stroke-width="1.05"/>
<path d="M463.00 346.10L466.30 351.88L459.70 351.88Z" fill="#fff" stroke="#000" stroke-width="1.05"/>
<path d="M485.00 338.70L488.30 344.48L481.70 344.48Z" fill="#fff" stroke="#000" stroke-width="1.05"/>
<path d="M506.50 341.10L509.80 346.88L503.20 346.88Z" fill="#fff" stroke="#000" stroke-width="1.05"/>
<path d="M419.00 361.25L441.00 365.00L463.00 344.40L485.00 348.50L506.50 340.50" fill="none" stroke="#000" stroke-width="1.15" stroke-dasharray="4.6 2.8"/>
<rect x="416.50" y="358.75" width="5.0" height="5.0" fill="#fff" stroke="#000" stroke-width="1.05"/>
<rect x="438.50" y="362.50" width="5.0" height="5.0" fill="#fff" stroke="#000" stroke-width="1.05"/>
<rect x="460.50" y="341.90" width="5.0" height="5.0" fill="#fff" stroke="#000" stroke-width="1.05"/>
<rect x="482.50" y="346.00" width="5.0" height="5.0" fill="#fff" stroke="#000" stroke-width="1.05"/>
<rect x="504.00" y="338.00" width="5.0" height="5.0" fill="#fff" stroke="#000" stroke-width="1.05"/>
<path d="M419.00 349.40L441.00 344.75L463.00 333.50L485.00 322.50L506.50 303.90" fill="none" stroke="#000" stroke-width="1.15" />
<circle cx="419.00" cy="349.40" r="2.6" fill="#fff" stroke="#000" stroke-width="1.05"/>
<circle cx="441.00" cy="344.75" r="2.6" fill="#fff" stroke="#000" stroke-width="1.05"/>
<circle cx="463.00" cy="333.50" r="2.6" fill="#fff" stroke="#000" stroke-width="1.05"/>
<circle cx="485.00" cy="322.50" r="2.6" fill="#fff" stroke="#000" stroke-width="1.05"/>
<circle cx="506.50" cy="303.90" r="2.6" fill="#fff" stroke="#000" stroke-width="1.05"/>
<path d="M419.00 359.00L441.00 344.75L463.00 312.80L485.00 296.50L506.50 272.90" fill="none" stroke="#000" stroke-width="1.15" />
<path d="M419.00 355.50L422.50 359.00L419.00 362.50L415.50 359.00Z" fill="#fff" stroke="#000" stroke-width="1.1"/>
<path d="M441.00 341.25L444.50 344.75L441.00 348.25L437.50 344.75Z" fill="#fff" stroke="#000" stroke-width="1.1"/>
<path d="M463.00 309.30L466.50 312.80L463.00 316.30L459.50 312.80Z" fill="#fff" stroke="#000" stroke-width="1.1"/>
<path d="M485.00 293.00L488.50 296.50L485.00 300.00L481.50 296.50Z" fill="#fff" stroke="#000" stroke-width="1.1"/>
<path d="M506.50 269.40L510.00 272.90L506.50 276.40L503.00 272.90Z" fill="#fff" stroke="#000" stroke-width="1.1"/>
<g fill="none" stroke="#000" stroke-width="1.0"><circle cx="498.1" cy="268.5" r="2.35"/><path d="M499.56 267.04 L502.36 264.24"/></g>
<path d="M503.36 263.24 l-2.9 0.5 l2.4 2.4 z" fill="#000"/>
<text x="506.5" y="268.8" font-size="7" text-anchor="start" font-weight="normal" >Spl</text>
<text x="507.5" y="298.1" font-size="7.1" text-anchor="middle" font-weight="normal" >MB49</text>
<text x="510.3" y="333.6" font-size="7.1" text-anchor="middle" font-weight="normal" >B16</text>
<g fill="none" stroke="#000" stroke-width="1.0"><circle cx="502.0" cy="351.7" r="2.35"/><path d="M502.0 354.05 V357.35 M500.7 355.65000000000003 H503.3"/></g>
<text x="506.6" y="353.3" font-size="7" text-anchor="start" font-weight="normal" >Spl</text>
</svg></body></html>
